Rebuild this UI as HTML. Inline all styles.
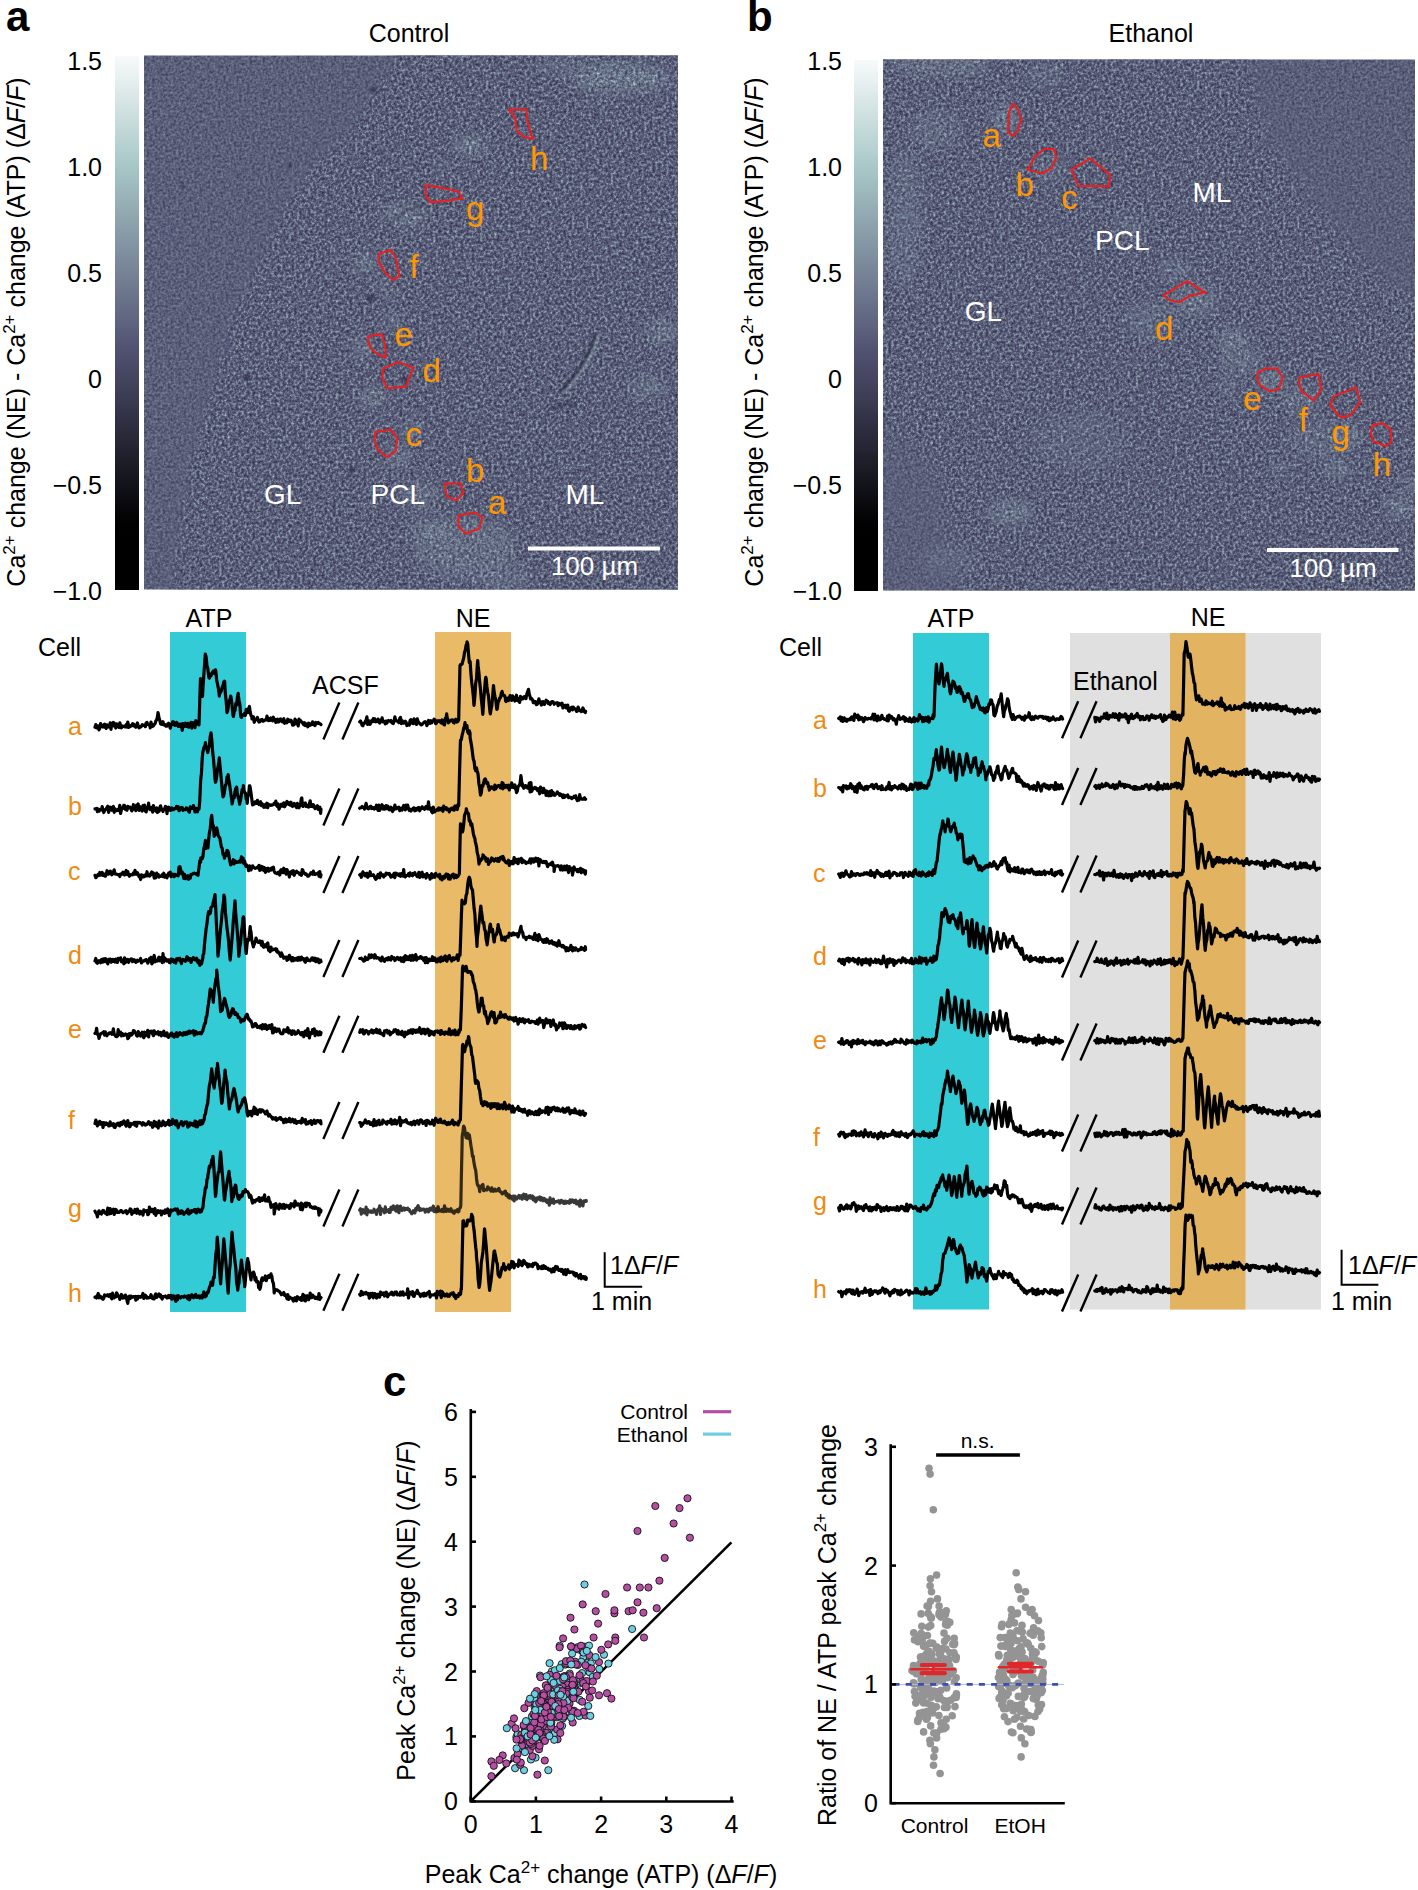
<!DOCTYPE html><html><head><meta charset="utf-8"><title>Figure</title><style>
html,body{margin:0;padding:0;background:#fff;width:1418px;height:1890px;overflow:hidden;}
svg{display:block;}text{font-family:"Liberation Sans",sans-serif;}
</style></head><body>
<svg width="1418" height="1890" viewBox="0 0 1418 1890">
<defs>
<linearGradient id="cbar" x1="0" y1="0" x2="0" y2="1"><stop offset="0.000" stop-color="#f7fafa"/><stop offset="0.025" stop-color="#eef4f4"/><stop offset="0.050" stop-color="#e4eeee"/><stop offset="0.075" stop-color="#dae7e7"/><stop offset="0.100" stop-color="#d0e1e1"/><stop offset="0.125" stop-color="#c7dbdb"/><stop offset="0.150" stop-color="#bdd5d5"/><stop offset="0.175" stop-color="#b3cfcf"/><stop offset="0.200" stop-color="#aac8c8"/><stop offset="0.225" stop-color="#a2c1c2"/><stop offset="0.250" stop-color="#9cb8bc"/><stop offset="0.275" stop-color="#96afb6"/><stop offset="0.300" stop-color="#90a7af"/><stop offset="0.325" stop-color="#899ea9"/><stop offset="0.350" stop-color="#8396a3"/><stop offset="0.375" stop-color="#7d8d9d"/><stop offset="0.400" stop-color="#778597"/><stop offset="0.425" stop-color="#717c90"/><stop offset="0.450" stop-color="#6a748a"/><stop offset="0.475" stop-color="#646b84"/><stop offset="0.500" stop-color="#5e637e"/><stop offset="0.525" stop-color="#585a78"/><stop offset="0.550" stop-color="#515171"/><stop offset="0.575" stop-color="#4b4b69"/><stop offset="0.600" stop-color="#454560"/><stop offset="0.625" stop-color="#3f3f57"/><stop offset="0.650" stop-color="#39394f"/><stop offset="0.675" stop-color="#323246"/><stop offset="0.700" stop-color="#2c2c3d"/><stop offset="0.725" stop-color="#262635"/><stop offset="0.750" stop-color="#20202c"/><stop offset="0.775" stop-color="#1a1a23"/><stop offset="0.800" stop-color="#13131b"/><stop offset="0.825" stop-color="#0d0d12"/><stop offset="0.850" stop-color="#07070a"/><stop offset="0.875" stop-color="#010101"/><stop offset="0.900" stop-color="#000000"/><stop offset="0.925" stop-color="#000000"/><stop offset="0.950" stop-color="#000000"/><stop offset="0.975" stop-color="#000000"/><stop offset="1.000" stop-color="#000000"/></linearGradient>
<clipPath id="clipA"><rect x="144" y="55.5" width="534" height="534"/></clipPath>
<clipPath id="clipB"><rect x="883" y="59.5" width="532" height="531"/></clipPath>
<filter id="texS" x="0" y="0" width="100%" height="100%" color-interpolation-filters="sRGB"><feTurbulence type="fractalNoise" baseFrequency="0.38" numOctaves="3" seed="4"/><feColorMatrix type="matrix" values="1 0 0 0 0  1 0 0 0 0  1 0 0 0 0  0 0 0 0 1"/><feComponentTransfer><feFuncR type="table" tableValues="0.201 0.215 0.229 0.242 0.256 0.270 0.283 0.297 0.311 0.325 0.338 0.352 0.366 0.379 0.393 0.407 0.420 0.434 0.448 0.461 0.475 0.489 0.503 0.516"/><feFuncG type="table" tableValues="0.201 0.215 0.229 0.242 0.256 0.270 0.283 0.297 0.311 0.326 0.345 0.364 0.383 0.402 0.421 0.439 0.458 0.477 0.496 0.515 0.534 0.552 0.571 0.590"/><feFuncB type="table" tableValues="0.280 0.299 0.318 0.337 0.356 0.375 0.394 0.413 0.432 0.450 0.463 0.477 0.491 0.504 0.518 0.532 0.545 0.559 0.573 0.586 0.600 0.614 0.628 0.641"/></feComponentTransfer></filter>
<filter id="texG" x="0" y="0" width="100%" height="100%" color-interpolation-filters="sRGB"><feTurbulence type="fractalNoise" baseFrequency="0.36" numOctaves="3" seed="9"/><feColorMatrix type="matrix" values="1 0 0 0 0  1 0 0 0 0  1 0 0 0 0  0 0 0 0 1"/><feComponentTransfer><feFuncR type="table" tableValues="0.131 0.150 0.169 0.188 0.207 0.226 0.245 0.264 0.283 0.302 0.321 0.340 0.365 0.396 0.426 0.457 0.487 0.517 0.548 0.578 0.609 0.639 0.679 0.727"/><feFuncG type="table" tableValues="0.131 0.150 0.169 0.188 0.207 0.226 0.245 0.264 0.283 0.302 0.322 0.348 0.382 0.424 0.466 0.508 0.550 0.592 0.633 0.675 0.717 0.759 0.795 0.825"/><feFuncB type="table" tableValues="0.183 0.209 0.236 0.262 0.288 0.315 0.341 0.368 0.394 0.421 0.446 0.465 0.490 0.521 0.551 0.582 0.612 0.642 0.673 0.703 0.734 0.764 0.795 0.825"/></feComponentTransfer></filter>
<filter id="texL" x="0" y="0" width="100%" height="100%" color-interpolation-filters="sRGB"><feTurbulence type="fractalNoise" baseFrequency="0.36" numOctaves="3" seed="13"/><feColorMatrix type="matrix" values="1 0 0 0 0  1 0 0 0 0  1 0 0 0 0  0 0 0 0 1"/><feComponentTransfer><feFuncR type="table" tableValues="0.087 0.118 0.148 0.179 0.209 0.240 0.270 0.301 0.331 0.361 0.392 0.422 0.458 0.500 0.542 0.584 0.626 0.676 0.741 0.807 0.872 0.938 1.000 1.000"/><feFuncG type="table" tableValues="0.087 0.118 0.148 0.179 0.209 0.240 0.270 0.301 0.335 0.377 0.419 0.461 0.511 0.568 0.626 0.683 0.741 0.793 0.835 0.876 0.918 0.960 1.000 1.000"/><feFuncB type="table" tableValues="0.122 0.164 0.206 0.249 0.291 0.333 0.376 0.418 0.456 0.486 0.517 0.547 0.583 0.625 0.667 0.709 0.751 0.793 0.835 0.876 0.918 0.960 1.000 1.000"/></feComponentTransfer></filter>
<filter id="texM" x="0" y="0" width="100%" height="100%" color-interpolation-filters="sRGB"><feTurbulence type="fractalNoise" baseFrequency="0.03" numOctaves="3" seed="21"/><feColorMatrix type="matrix" values="0 0 0 0 0.72  0 0 0 0 0.82  0 0 0 0 0.85  2.6 0 0 0 -1.35"/></filter>
<filter id="texD" x="0" y="0" width="100%" height="100%" color-interpolation-filters="sRGB"><feTurbulence type="fractalNoise" baseFrequency="0.035" numOctaves="3" seed="33"/><feColorMatrix type="matrix" values="0 0 0 0 0.2  0 0 0 0 0.2  0 0 0 0 0.3  -2.2 0 0 0 0.95"/></filter>
<filter id="bl1" x="-50%" y="-50%" width="200%" height="200%"><feGaussianBlur stdDeviation="1"/></filter>
<filter id="bl3" x="-50%" y="-50%" width="200%" height="200%"><feGaussianBlur stdDeviation="3"/></filter>
<filter id="bl6" x="-50%" y="-50%" width="200%" height="200%"><feGaussianBlur stdDeviation="6"/></filter>
<filter id="bl12" x="-50%" y="-50%" width="200%" height="200%"><feGaussianBlur stdDeviation="12"/></filter>
<mask id="mTissueA" maskUnits="userSpaceOnUse" x="100" y="0" width="650" height="650"><path d="M405 40 L395 56 L380 75 L351 122 L310 165 L280 207 L257 263 L232 310 L219 357 L200 420 L185 470 L167 600 L700 600 L700 40 Z" fill="#fff" filter="url(#bl6)"/></mask>
<mask id="mTissueB" maskUnits="userSpaceOnUse" x="850" y="0" width="600" height="650"><rect x="850" y="40" width="600" height="600" fill="#fff"/><path d="M1250 40 L1440 40 L1440 300 L1380 270 L1320 200 L1270 130 Z" fill="#000" filter="url(#bl12)"/><path d="M870 430 L930 470 L960 600 L870 600 Z" fill="#000" opacity="0.8" filter="url(#bl12)"/></mask>
</defs>
<rect width="1418" height="1890" fill="#fff"/>
<g clip-path="url(#clipA)">
<rect x="144" y="55.5" width="534" height="534" filter="url(#texS)"/>
<rect x="144" y="55.5" width="534" height="534" filter="url(#texG)" mask="url(#mTissueA)"/>
<mask id="mLA" maskUnits="userSpaceOnUse" x="100" y="0" width="650" height="650"><ellipse cx="620" cy="78" rx="50" ry="14" fill="#fff" opacity="0.72" filter="url(#bl6)"/><ellipse cx="470" cy="146" rx="14" ry="8" fill="#fff" opacity="0.96" filter="url(#bl6)"/><ellipse cx="441" cy="165" rx="5" ry="5" fill="#fff" opacity="0.72" filter="url(#bl6)"/><ellipse cx="405" cy="216" rx="22" ry="9" fill="#fff" opacity="0.80" filter="url(#bl6)"/><ellipse cx="366" cy="263" rx="11" ry="8" fill="#fff" opacity="0.80" filter="url(#bl6)"/><ellipse cx="362" cy="348" rx="8" ry="10" fill="#fff" opacity="0.72" filter="url(#bl6)"/><ellipse cx="373" cy="397" rx="12" ry="8" fill="#fff" opacity="0.80" filter="url(#bl6)"/><ellipse cx="398" cy="457" rx="10" ry="10" fill="#fff" opacity="0.80" filter="url(#bl6)"/><ellipse cx="465" cy="548" rx="50" ry="30" fill="#fff" opacity="0.48" filter="url(#bl6)"/><ellipse cx="430" cy="530" rx="18" ry="12" fill="#fff" opacity="0.48" filter="url(#bl6)"/><ellipse cx="505" cy="578" rx="28" ry="10" fill="#fff" opacity="0.48" filter="url(#bl6)"/><ellipse cx="648" cy="388" rx="18" ry="8" fill="#fff" opacity="0.72" filter="url(#bl6)"/><ellipse cx="663" cy="331" rx="15" ry="12" fill="#fff" opacity="0.64" filter="url(#bl6)"/><ellipse cx="385" cy="290" rx="8" ry="10" fill="#fff" opacity="0.48" filter="url(#bl6)"/><ellipse cx="420" cy="495" rx="18" ry="12" fill="#fff" opacity="0.56" filter="url(#bl6)"/><ellipse cx="560" cy="66" rx="25" ry="6" fill="#fff" opacity="0.48" filter="url(#bl6)"/><ellipse cx="392" cy="320" rx="8" ry="8" fill="#fff" opacity="0.48" filter="url(#bl6)"/><ellipse cx="412" cy="430" rx="10" ry="10" fill="#fff" opacity="0.48" filter="url(#bl6)"/></mask>
<rect x="144" y="55.5" width="534" height="534" filter="url(#texL)" mask="url(#mLA)"/>
<circle cx="374" cy="90" r="3" fill="#23233a" opacity="0.55" filter="url(#bl1)"/>
<circle cx="183" cy="186" r="2" fill="#23233a" opacity="0.55" filter="url(#bl1)"/>
<circle cx="371" cy="298" r="4" fill="#23233a" opacity="0.55" filter="url(#bl1)"/>
<circle cx="247" cy="378" r="3" fill="#23233a" opacity="0.55" filter="url(#bl1)"/>
<circle cx="404" cy="380" r="3" fill="#23233a" opacity="0.55" filter="url(#bl1)"/>
<circle cx="352" cy="470" r="3" fill="#23233a" opacity="0.55" filter="url(#bl1)"/>
<circle cx="290" cy="165" r="2" fill="#23233a" opacity="0.55" filter="url(#bl1)"/>
<path d="M596 333 Q588 362 560 392" stroke="#2a2a40" stroke-width="3" fill="none" opacity="0.75" filter="url(#bl1)"/>
<path d="M599 334 Q591 364 563 394" stroke="#aac4c8" stroke-width="1.6" fill="none" opacity="0.7" filter="url(#bl1)"/>
<path d="M577 403 Q563 406 551 408" stroke="#2a2a40" stroke-width="2.5" fill="none" opacity="0.7" filter="url(#bl1)"/>
<path d="M388 226 Q400 212 425 204" stroke="#2a2a40" stroke-width="2" fill="none" opacity="0.5" filter="url(#bl1)"/>
</g>
<g clip-path="url(#clipB)">
<rect x="883" y="59.5" width="532" height="531" filter="url(#texS)"/>
<rect x="883" y="59.5" width="532" height="531" filter="url(#texG)" mask="url(#mTissueB)"/>
<mask id="mLB" maskUnits="userSpaceOnUse" x="850" y="0" width="600" height="650"><ellipse cx="940" cy="66" rx="50" ry="8" fill="#fff" opacity="0.63" filter="url(#bl6)"/><ellipse cx="1005" cy="118" rx="12" ry="14" fill="#fff" opacity="0.72" filter="url(#bl6)"/><ellipse cx="905" cy="220" rx="18" ry="70" fill="#fff" opacity="0.36" filter="url(#bl6)"/><ellipse cx="935" cy="130" rx="25" ry="20" fill="#fff" opacity="0.36" filter="url(#bl6)"/><ellipse cx="1050" cy="170" rx="15" ry="10" fill="#fff" opacity="0.45" filter="url(#bl6)"/><ellipse cx="1195" cy="300" rx="25" ry="15" fill="#fff" opacity="0.54" filter="url(#bl6)"/><ellipse cx="1233" cy="338" rx="14" ry="9" fill="#fff" opacity="0.81" filter="url(#bl6)"/><ellipse cx="1271" cy="381" rx="12" ry="10" fill="#fff" opacity="0.81" filter="url(#bl6)"/><ellipse cx="1300" cy="400" rx="18" ry="12" fill="#fff" opacity="0.54" filter="url(#bl6)"/><ellipse cx="1351" cy="435" rx="9" ry="8" fill="#fff" opacity="0.90" filter="url(#bl6)"/><ellipse cx="1338" cy="470" rx="11" ry="7" fill="#fff" opacity="0.81" filter="url(#bl6)"/><ellipse cx="1400" cy="507" rx="11" ry="10" fill="#fff" opacity="0.90" filter="url(#bl6)"/><ellipse cx="1411" cy="483" rx="6" ry="8" fill="#fff" opacity="0.81" filter="url(#bl6)"/><ellipse cx="1280" cy="470" rx="9" ry="6" fill="#fff" opacity="0.54" filter="url(#bl6)"/><ellipse cx="1228" cy="387" rx="10" ry="8" fill="#fff" opacity="0.45" filter="url(#bl6)"/><ellipse cx="1010" cy="512" rx="22" ry="10" fill="#fff" opacity="0.72" filter="url(#bl6)"/><ellipse cx="1080" cy="440" rx="50" ry="30" fill="#fff" opacity="0.22" filter="url(#bl6)"/><ellipse cx="1175" cy="270" rx="15" ry="10" fill="#fff" opacity="0.54" filter="url(#bl6)"/><ellipse cx="1130" cy="225" rx="15" ry="10" fill="#fff" opacity="0.45" filter="url(#bl6)"/><ellipse cx="950" cy="560" rx="30" ry="15" fill="#fff" opacity="0.27" filter="url(#bl6)"/><ellipse cx="1150" cy="320" rx="25" ry="18" fill="#fff" opacity="0.36" filter="url(#bl6)"/><ellipse cx="1320" cy="440" rx="30" ry="20" fill="#fff" opacity="0.36" filter="url(#bl6)"/><ellipse cx="1240" cy="360" rx="20" ry="15" fill="#fff" opacity="0.45" filter="url(#bl6)"/><ellipse cx="1045" cy="75" rx="20" ry="8" fill="#fff" opacity="0.45" filter="url(#bl6)"/></mask>
<rect x="883" y="59.5" width="532" height="531" filter="url(#texL)" mask="url(#mLB)"/>
</g>
<polygon points="509.4,109.5 526.3,109.5 527.4,121.9 532.7,138.9 524.4,137.0 516.9,131.3 515.0,118.1" fill="none" stroke="#ee1d1d" stroke-width="2"/>
<polygon points="425.7,185.2 441.5,187.8 458.5,191.6 462.3,198.4 445.3,201.0 430.2,202.1 425.7,195.4" fill="none" stroke="#ee1d1d" stroke-width="2"/>
<polygon points="379.4,253.7 390.7,250.0 395.6,257.5 399.4,276.3 393.3,280.1 385.0,272.6 378.3,261.3" fill="none" stroke="#ee1d1d" stroke-width="2"/>
<polygon points="368.1,336.6 381.3,334.0 385.0,344.1 385.8,357.3 379.4,355.4 371.9,349.8 368.1,342.3" fill="none" stroke="#ee1d1d" stroke-width="2"/>
<polygon points="383.2,368.6 398.2,361.8 413.3,367.9 405.8,386.7 386.9,388.2 382.4,378.0" fill="none" stroke="#ee1d1d" stroke-width="2"/>
<polygon points="375.6,431.9 390.7,429.6 397.1,438.3 395.6,451.5 386.9,457.1 377.5,449.6 374.5,438.3" fill="none" stroke="#ee1d1d" stroke-width="2"/>
<polygon points="445.3,483.5 460.4,483.5 463.4,492.9 456.6,500.4 447.2,496.6 445.3,489.2" fill="none" stroke="#ee1d1d" stroke-width="2"/>
<polygon points="458.5,515.5 475.4,512.5 482.2,517.4 479.2,528.7 466.0,533.6 458.5,526.8" fill="none" stroke="#ee1d1d" stroke-width="2"/>
<polygon points="1012.5,104.0 1017.3,107.8 1021.1,119.0 1018.1,130.3 1013.6,135.9 1008.0,132.2 1008.7,113.4" fill="none" stroke="#ee1d1d" stroke-width="2"/>
<polygon points="1027.5,169.7 1035.0,156.6 1044.4,149.0 1053.7,149.0 1056.4,156.6 1051.9,167.8 1042.5,173.4" fill="none" stroke="#ee1d1d" stroke-width="2"/>
<polygon points="1071.4,169.7 1090.1,158.4 1110.0,174.6 1108.9,186.6 1078.1,185.8" fill="none" stroke="#ee1d1d" stroke-width="2"/>
<polygon points="1163.7,295.4 1187.0,281.1 1205.0,292.4 1190.7,295.4 1179.4,302.2 1169.0,299.9" fill="none" stroke="#ee1d1d" stroke-width="2"/>
<polygon points="1258.2,372.3 1265.7,368.6 1277.0,368.6 1282.6,378.0 1278.9,389.2 1269.5,391.1 1260.1,385.4 1256.7,378.0" fill="none" stroke="#ee1d1d" stroke-width="2"/>
<polygon points="1300.3,377.2 1318.3,374.2 1321.3,389.2 1313.8,400.5 1301.4,391.1 1298.8,381.7" fill="none" stroke="#ee1d1d" stroke-width="2"/>
<polygon points="1333.3,396.7 1355.8,387.3 1360.3,402.3 1350.2,415.5 1340.8,417.3 1330.3,406.0" fill="none" stroke="#ee1d1d" stroke-width="2"/>
<polygon points="1372.7,424.9 1382.0,423.0 1390.3,428.6 1391.4,441.7 1385.8,446.2 1372.7,441.0 1370.8,432.4" fill="none" stroke="#ee1d1d" stroke-width="2"/>
<text x="530.0" y="169.5" font-size="33" text-anchor="start" fill="#ff9800" font-weight="normal" >h</text>
<text x="466.0" y="219.5" font-size="33" text-anchor="start" fill="#ff9800" font-weight="normal" >g</text>
<text x="409.5" y="278.0" font-size="33" text-anchor="start" fill="#ff9800" font-weight="normal" >f</text>
<text x="394.5" y="345.5" font-size="33" text-anchor="start" fill="#ff9800" font-weight="normal" >e</text>
<text x="422.5" y="382.0" font-size="33" text-anchor="start" fill="#ff9800" font-weight="normal" >d</text>
<text x="405.5" y="445.5" font-size="33" text-anchor="start" fill="#ff9800" font-weight="normal" >c</text>
<text x="466.0" y="481.5" font-size="33" text-anchor="start" fill="#ff9800" font-weight="normal" >b</text>
<text x="488.0" y="513.8" font-size="33" text-anchor="start" fill="#ff9800" font-weight="normal" >a</text>
<text x="982.4" y="147.0" font-size="33" text-anchor="start" fill="#ff9800" font-weight="normal" >a</text>
<text x="1015.5" y="196.0" font-size="33" text-anchor="start" fill="#ff9800" font-weight="normal" >b</text>
<text x="1061.2" y="209.0" font-size="33" text-anchor="start" fill="#ff9800" font-weight="normal" >c</text>
<text x="1155.0" y="340.4" font-size="33" text-anchor="start" fill="#ff9800" font-weight="normal" >d</text>
<text x="1243.2" y="409.8" font-size="33" text-anchor="start" fill="#ff9800" font-weight="normal" >e</text>
<text x="1298.8" y="430.5" font-size="33" text-anchor="start" fill="#ff9800" font-weight="normal" >f</text>
<text x="1331.4" y="443.5" font-size="33" text-anchor="start" fill="#ff9800" font-weight="normal" >g</text>
<text x="1372.7" y="475.5" font-size="33" text-anchor="start" fill="#ff9800" font-weight="normal" >h</text>
<text x="264.0" y="503.5" font-size="28" text-anchor="start" fill="#fff" font-weight="normal" >GL</text>
<text x="370.5" y="503.5" font-size="28" text-anchor="start" fill="#fff" font-weight="normal" >PCL</text>
<text x="565.5" y="503.5" font-size="28" text-anchor="start" fill="#fff" font-weight="normal" >ML</text>
<text x="1192.5" y="201.6" font-size="28" text-anchor="start" fill="#fff" font-weight="normal" >ML</text>
<text x="1095.0" y="250.4" font-size="28" text-anchor="start" fill="#fff" font-weight="normal" >PCL</text>
<text x="964.8" y="321.0" font-size="28" text-anchor="start" fill="#fff" font-weight="normal" >GL</text>
<rect x="528" y="546.5" width="132" height="4" fill="#fff"/>
<text x="594.5" y="574.7" font-size="26" text-anchor="middle" fill="#fff" font-weight="normal" >100 µm</text>
<rect x="1267" y="548" width="131.5" height="4" fill="#fff"/>
<text x="1333.0" y="576.5" font-size="26" text-anchor="middle" fill="#fff" font-weight="normal" >100 µm</text>
<rect x="115" y="56" width="24" height="534" fill="url(#cbar)"/>
<rect x="854" y="60" width="24" height="531" fill="url(#cbar)"/>
<text x="102.0" y="69.6" font-size="25" text-anchor="end" fill="#000" font-weight="normal" >1.5</text>
<text x="842.0" y="69.6" font-size="25" text-anchor="end" fill="#000" font-weight="normal" >1.5</text>
<text x="102.0" y="175.7" font-size="25" text-anchor="end" fill="#000" font-weight="normal" >1.0</text>
<text x="842.0" y="175.7" font-size="25" text-anchor="end" fill="#000" font-weight="normal" >1.0</text>
<text x="102.0" y="281.8" font-size="25" text-anchor="end" fill="#000" font-weight="normal" >0.5</text>
<text x="842.0" y="281.8" font-size="25" text-anchor="end" fill="#000" font-weight="normal" >0.5</text>
<text x="102.0" y="387.9" font-size="25" text-anchor="end" fill="#000" font-weight="normal" >0</text>
<text x="842.0" y="387.9" font-size="25" text-anchor="end" fill="#000" font-weight="normal" >0</text>
<text x="102.0" y="494.0" font-size="25" text-anchor="end" fill="#000" font-weight="normal" >−0.5</text>
<text x="842.0" y="494.0" font-size="25" text-anchor="end" fill="#000" font-weight="normal" >−0.5</text>
<text x="102.0" y="600.1" font-size="25" text-anchor="end" fill="#000" font-weight="normal" >−1.0</text>
<text x="842.0" y="600.1" font-size="25" text-anchor="end" fill="#000" font-weight="normal" >−1.0</text>
<text x="6.0" y="31.0" font-size="42" text-anchor="start" fill="#000" font-weight="bold" >a</text>
<text x="747.0" y="31.0" font-size="42" text-anchor="start" fill="#000" font-weight="bold" >b</text>
<text x="383.0" y="1396.0" font-size="42" text-anchor="start" fill="#000" font-weight="bold" >c</text>
<text x="409.0" y="42.0" font-size="25" text-anchor="middle" fill="#000" font-weight="normal" >Control</text>
<text x="1151.0" y="42.0" font-size="25" text-anchor="middle" fill="#000" font-weight="normal" >Ethanol</text>
<text transform="translate(25,332) rotate(-90)" font-size="25" text-anchor="middle">Ca<tspan font-size="17" dy="-10">2+</tspan><tspan dy="10"> change (NE) - Ca</tspan><tspan font-size="17" dy="-10">2+</tspan><tspan dy="10"> change (ATP) (Δ<tspan font-style="italic">F</tspan>/<tspan font-style="italic">F</tspan>)</tspan></text>
<text transform="translate(762.5,332) rotate(-90)" font-size="25" text-anchor="middle">Ca<tspan font-size="17" dy="-10">2+</tspan><tspan dy="10"> change (NE) - Ca</tspan><tspan font-size="17" dy="-10">2+</tspan><tspan dy="10"> change (ATP) (Δ<tspan font-style="italic">F</tspan>/<tspan font-style="italic">F</tspan>)</tspan></text>
<rect x="170" y="632" width="76" height="680" fill="#33cbd6"/>
<rect x="435" y="632" width="76" height="680" fill="#e9ba68"/>
<rect x="1070" y="633" width="251" height="676.5" fill="#e0e0e0"/>
<rect x="913" y="633" width="76" height="676.5" fill="#33cbd6"/>
<rect x="1170" y="633" width="75.5" height="676.5" fill="#e2b462"/>
<text x="209.0" y="627.0" font-size="25" text-anchor="middle" fill="#000" font-weight="normal" >ATP</text>
<text x="473.0" y="627.0" font-size="25" text-anchor="middle" fill="#000" font-weight="normal" >NE</text>
<text x="951.0" y="627.0" font-size="25" text-anchor="middle" fill="#000" font-weight="normal" >ATP</text>
<text x="1208.0" y="626.0" font-size="25" text-anchor="middle" fill="#000" font-weight="normal" >NE</text>
<text x="38.0" y="656.0" font-size="25" text-anchor="start" fill="#000" font-weight="normal" >Cell</text>
<text x="779.0" y="656.0" font-size="25" text-anchor="start" fill="#000" font-weight="normal" >Cell</text>
<text x="312.0" y="693.5" font-size="25" text-anchor="start" fill="#000" font-weight="normal" >ACSF</text>
<text x="1073.0" y="690.0" font-size="25" text-anchor="start" fill="#000" font-weight="normal" >Ethanol</text>
<path d="M95.0 727.3L95.8 724.6L96.6 727.8L97.4 727.8L98.2 725.9L99.0 729.9L99.8 728.2L100.6 723.6L101.4 726.4L102.2 726.1L103.0 727.1L103.8 724.8L104.6 724.2L105.4 727.5L106.2 728.4L107.0 724.8L107.8 726.2L108.6 725.7L109.4 727.2L110.2 722.9L111.0 729.3L111.8 723.3L112.6 725.7L113.4 722.5L114.2 723.0L115.0 726.7L115.8 728.0L116.6 723.8L117.4 726.1L118.2 725.2L119.0 727.6L119.8 722.9L120.6 725.2L121.4 727.8L122.2 725.9L123.0 726.3L123.8 726.3L124.6 726.7L125.4 726.9L126.2 724.6L127.0 727.0L127.8 722.0L128.6 727.4L129.4 725.2L130.2 726.6L131.0 725.6L131.8 725.8L132.6 723.7L133.4 724.2L134.2 726.0L135.0 725.2L135.8 727.3L136.6 724.9L137.4 723.0L138.2 725.9L139.0 727.8L139.8 727.4L140.6 727.0L141.4 726.4L142.2 724.7L143.0 725.5L143.8 725.2L144.6 725.2L145.4 726.7L146.2 722.9L147.0 722.5L147.8 724.4L148.6 724.8L149.4 724.6L150.0 724.3L150.2 727.8L151.0 722.0L151.8 726.7L152.6 724.8L153.4 726.0L154.2 724.4L155.0 723.9L155.8 721.1L156.6 720.1L157.4 716.9L158.0 712.6L158.2 713.4L159.0 717.9L159.8 720.2L160.6 724.0L161.0 724.1L161.4 723.5L162.2 724.4L163.0 721.7L163.8 724.8L164.6 724.4L165.4 725.8L166.2 726.2L167.0 726.2L167.8 723.9L168.6 723.2L169.4 724.2L170.2 728.2L171.0 725.3L171.8 724.6L172.6 721.9L173.4 721.8L174.2 724.8L175.0 725.3L175.8 725.2L176.6 722.3L177.4 724.8L178.2 726.3L179.0 724.2L179.8 726.3L180.6 724.2L181.4 724.1L182.2 730.4L183.0 723.7L183.8 726.6L184.6 724.8L185.4 723.2L186.2 726.3L187.0 726.3L187.8 723.3L188.6 727.2L189.4 724.6L190.2 726.8L191.0 722.4L191.8 728.1L192.6 722.6L193.4 722.9L194.2 724.2L195.0 727.6L195.8 720.7L196.6 724.3L197.4 723.7L198.2 724.0L199.0 724.8L199.8 699.2L200.5 678.6L200.6 680.8L201.4 685.8L202.2 693.7L202.5 696.5L203.0 687.1L203.8 675.1L204.6 664.2L205.3 654.0L205.4 654.2L206.2 657.7L207.0 665.8L207.8 668.3L208.6 675.6L209.0 677.7L209.4 678.1L210.2 674.4L211.0 675.8L211.8 674.0L212.6 672.1L213.4 671.0L214.2 673.3L215.0 671.2L215.5 669.8L215.8 671.2L216.6 679.5L217.4 683.5L218.2 687.4L219.0 692.8L219.3 696.1L219.8 692.9L220.6 692.4L221.4 690.8L222.2 687.0L223.0 685.6L223.8 681.9L224.4 682.1L224.6 681.2L225.4 694.3L226.2 701.1L227.0 712.6L227.8 710.2L228.6 704.1L229.4 700.7L230.2 698.8L230.7 696.1L231.0 697.2L231.8 702.7L232.6 712.0L233.3 716.5L233.4 716.4L234.2 711.4L235.0 710.6L235.8 703.5L236.6 705.1L237.4 697.2L238.2 693.4L238.3 695.2L239.0 700.3L239.8 704.1L240.6 714.9L240.9 716.7L241.4 717.4L242.2 714.9L243.0 714.9L243.8 715.1L244.6 713.5L244.7 714.4L245.4 715.4L246.2 709.4L247.0 712.4L247.8 712.6L248.5 708.5L248.6 708.9L249.4 706.5L250.2 712.2L251.0 715.5L251.8 716.5L252.0 719.0L252.6 718.8L253.4 716.7L254.2 722.3L255.0 720.6L255.8 719.0L256.6 719.0L257.4 717.4L258.2 720.5L259.0 722.1L259.8 721.8L260.6 720.0L261.0 719.7L261.4 720.2L262.2 719.5L263.0 721.2L263.8 720.8L264.6 720.3L265.4 719.7L266.2 719.8L267.0 716.0L267.8 719.7L268.6 720.6L269.4 718.6L270.2 720.4L271.0 718.0L271.8 719.7L272.6 720.9L273.4 717.2L274.2 719.9L275.0 719.5L275.8 722.4L276.6 720.4L277.4 719.2L278.2 722.0L279.0 721.7L279.8 719.4L280.6 718.9L281.4 720.9L282.2 721.8L283.0 720.2L283.8 718.7L284.6 723.3L285.4 721.6L286.2 721.3L287.0 722.7L287.8 719.2L288.6 720.0L289.4 721.5L290.2 721.3L291.0 720.2L291.8 722.0L292.6 725.2L293.4 725.2L294.2 724.4L295.0 719.2L295.8 720.2L296.6 723.6L297.4 721.6L298.2 726.0L299.0 719.1L299.8 720.4L300.6 720.5L301.4 722.1L302.2 722.1L303.0 723.7L303.8 724.7L304.6 722.7L305.4 725.5L306.2 724.7L307.0 723.9L307.8 726.8L308.6 723.2L309.4 723.7L310.2 725.4L311.0 723.8L311.8 724.3L312.6 721.8L313.4 724.5L314.2 723.3L315.0 725.6L315.8 722.5L316.6 723.6L317.4 723.1L318.2 722.4L319.0 723.5L319.8 723.5L320.6 724.2L321.0 724.6" fill="none" stroke="#000" stroke-width="3.2" stroke-linejoin="round" stroke-linecap="round"/>
<path d="M95.0 808.9L95.8 808.7L96.6 808.4L97.4 811.6L98.2 809.1L99.0 811.2L99.8 809.6L100.6 809.7L101.4 809.8L102.2 806.6L103.0 809.6L103.8 812.5L104.6 810.5L105.4 809.7L106.2 808.9L107.0 807.4L107.8 806.3L108.6 812.4L109.4 808.9L110.2 807.1L111.0 808.7L111.8 810.1L112.6 807.2L113.4 806.5L114.2 812.4L115.0 808.9L115.8 810.8L116.6 810.6L117.4 809.8L118.2 810.5L119.0 809.4L119.8 805.3L120.6 813.5L121.4 809.5L122.2 808.8L123.0 807.5L123.8 805.3L124.6 805.6L125.4 809.4L126.2 809.7L127.0 810.2L127.8 806.4L128.6 806.7L129.4 807.9L130.2 807.2L131.0 808.6L131.8 810.9L132.6 809.7L133.4 804.7L134.2 808.9L135.0 808.9L135.8 810.6L136.6 805.2L137.4 807.2L138.2 804.0L139.0 810.4L139.8 806.5L140.6 809.5L141.4 809.3L142.2 811.1L143.0 805.5L143.8 809.1L144.6 805.1L145.4 811.0L146.2 811.8L147.0 807.4L147.8 808.8L148.6 803.2L149.4 808.7L150.2 809.5L151.0 809.1L151.8 807.5L152.6 812.1L153.4 805.6L154.2 809.9L155.0 809.5L155.8 811.0L156.6 807.9L157.4 812.5L158.2 809.6L159.0 811.4L159.8 807.4L160.6 805.8L161.4 809.6L162.2 809.2L163.0 811.6L163.8 809.2L164.6 809.4L165.4 806.5L166.2 806.7L167.0 813.6L167.8 807.9L168.6 807.1L169.4 808.5L170.2 810.3L171.0 810.2L171.8 807.9L172.6 809.3L173.4 809.7L174.2 808.7L175.0 808.4L175.8 808.7L176.6 806.4L177.4 807.5L178.2 806.6L179.0 810.7L179.8 810.0L180.6 809.0L181.4 807.4L182.2 807.5L183.0 810.3L183.8 809.5L184.6 809.7L185.4 809.7L186.2 807.9L187.0 808.4L187.8 809.7L188.6 811.3L189.4 812.3L190.2 806.9L191.0 807.8L191.8 808.5L192.6 808.2L193.4 805.6L194.2 807.7L195.0 812.0L195.8 810.5L196.6 808.4L197.4 811.9L198.2 809.0L199.0 809.1L199.8 800.2L200.6 781.1L201.4 773.7L202.2 758.8L202.8 751.8L203.0 751.6L203.8 747.7L204.6 746.7L205.3 744.5L205.4 742.6L206.2 747.5L207.0 749.6L207.8 752.5L207.9 752.3L208.6 747.5L209.4 746.2L210.2 736.5L211.0 732.8L211.8 739.9L212.6 751.3L213.4 758.2L214.2 768.1L215.0 779.1L215.5 782.2L215.8 781.6L216.6 777.2L217.4 770.0L218.2 765.7L219.0 761.2L219.3 757.8L219.8 763.6L220.6 771.7L221.4 780.8L222.2 790.2L223.0 796.9L223.8 795.6L224.6 790.4L225.4 785.1L226.2 784.3L227.0 777.0L227.8 776.3L228.2 774.7L228.6 779.2L229.4 782.8L230.2 789.2L231.0 794.7L231.8 800.4L232.0 804.0L232.6 801.7L233.4 796.3L234.2 797.9L235.0 791.4L235.8 788.3L236.3 788.4L236.6 787.0L237.4 794.1L238.2 797.5L239.0 799.9L239.6 804.2L239.8 802.9L240.6 800.0L241.4 794.2L242.2 789.5L243.0 789.8L243.4 785.6L243.8 789.6L244.6 792.7L245.4 792.8L246.2 799.0L247.0 800.6L247.2 803.3L247.8 795.9L248.6 795.3L249.4 785.8L249.8 785.8L250.2 787.6L251.0 793.0L251.8 799.3L252.3 803.1L252.6 804.9L253.4 802.6L254.2 804.1L255.0 801.8L255.8 802.9L256.6 803.4L257.4 800.3L258.2 802.8L259.0 804.5L259.8 802.6L260.6 801.7L261.0 805.1L261.4 805.5L262.2 803.7L263.0 805.1L263.8 807.3L264.6 806.0L265.4 804.4L266.2 807.2L267.0 803.2L267.8 807.6L268.6 804.2L269.4 805.2L270.2 804.8L271.0 805.3L271.8 805.2L272.6 804.5L273.4 804.7L274.2 803.3L275.0 804.0L275.8 801.1L276.6 805.4L277.4 806.4L278.2 804.0L279.0 809.2L279.8 807.1L280.6 805.7L281.4 804.1L282.2 806.2L283.0 805.9L283.8 802.9L284.6 806.8L285.4 805.3L286.2 803.4L287.0 801.4L287.8 802.4L288.6 804.3L289.4 802.9L290.2 805.2L291.0 802.2L291.8 806.0L292.6 806.5L293.4 804.9L294.2 803.5L295.0 805.9L295.8 804.8L296.6 807.6L297.4 803.4L298.2 806.8L299.0 807.8L299.8 805.2L300.0 805.8L300.6 803.1L301.4 798.3L301.8 798.0L302.2 802.7L303.0 806.5L303.8 805.3L304.6 805.0L305.4 803.0L306.2 806.5L307.0 805.3L307.8 806.7L308.6 807.1L309.4 803.6L310.2 800.8L311.0 806.4L311.8 804.4L312.6 806.5L313.4 804.6L314.2 807.1L315.0 808.6L315.8 807.2L316.6 808.1L317.4 805.7L318.2 809.3L319.0 807.7L319.8 807.2L320.6 813.3L321.0 809.2" fill="none" stroke="#000" stroke-width="3.2" stroke-linejoin="round" stroke-linecap="round"/>
<path d="M95.0 875.3L95.8 877.7L96.6 876.6L97.4 876.0L98.2 874.3L99.0 875.4L99.8 872.5L100.6 875.2L101.4 874.3L102.2 872.4L103.0 875.4L103.8 874.0L104.6 875.9L105.4 876.2L106.2 874.7L107.0 870.7L107.8 872.2L108.6 874.2L109.4 872.1L110.2 871.1L111.0 871.8L111.8 874.8L112.6 873.5L113.4 872.4L114.2 869.8L115.0 874.0L115.8 873.8L116.6 874.3L117.4 874.6L118.2 874.6L119.0 874.5L119.8 876.5L120.6 874.1L121.4 873.9L122.2 874.2L123.0 872.2L123.8 873.9L124.6 875.0L125.4 872.6L126.2 870.5L127.0 874.5L127.8 871.6L128.6 874.9L129.4 876.2L130.2 874.6L131.0 875.0L131.8 874.5L132.6 874.8L133.4 872.8L134.2 874.1L135.0 870.3L135.8 874.1L136.6 874.3L137.4 872.7L138.2 874.3L139.0 876.6L139.8 875.9L140.6 879.5L141.4 874.8L142.2 875.4L143.0 877.0L143.8 877.0L144.6 875.1L145.4 876.2L146.2 875.8L147.0 871.7L147.8 875.8L148.6 874.6L149.4 876.1L150.2 875.5L151.0 873.2L151.8 872.0L152.6 874.1L153.4 873.0L154.2 878.1L155.0 875.7L155.8 877.8L156.6 873.2L157.4 875.4L158.2 874.4L159.0 877.1L159.8 876.1L160.6 876.4L161.4 876.2L162.2 874.8L163.0 876.6L163.8 873.2L164.6 877.2L165.4 875.1L166.2 876.8L167.0 877.7L167.8 875.5L168.6 873.2L169.4 874.6L170.2 872.1L171.0 876.6L171.8 875.6L172.6 874.1L173.4 876.4L174.2 876.7L175.0 874.3L175.8 875.4L176.0 874.9L176.6 875.2L177.4 875.4L178.2 875.8L179.0 867.2L179.8 867.6L180.0 866.7L180.6 869.3L181.4 873.7L182.2 871.9L183.0 874.7L183.8 878.5L184.6 874.2L185.4 878.7L186.2 877.7L187.0 877.4L187.8 875.7L188.6 879.3L189.4 876.4L190.2 878.2L191.0 874.4L191.8 874.4L192.6 874.1L193.4 873.4L194.2 873.2L195.0 873.6L195.8 873.5L196.6 874.5L197.4 874.0L198.0 875.3L198.2 873.1L199.0 867.7L199.8 860.8L200.6 862.1L200.8 857.8L201.4 858.8L202.2 858.8L202.8 856.9L203.0 855.9L203.8 848.4L204.6 845.8L205.3 841.2L205.4 840.4L206.2 848.4L207.0 845.7L207.8 847.5L207.9 848.0L208.6 840.1L209.4 832.8L210.2 829.1L211.0 819.6L211.7 815.3L211.8 816.3L212.6 824.9L213.4 825.7L214.2 836.3L215.0 834.9L215.8 828.7L216.6 828.3L216.7 827.9L217.4 830.9L218.2 835.7L219.0 837.0L219.8 838.0L220.6 842.8L221.4 847.0L222.2 848.4L223.0 854.3L223.8 854.2L224.4 858.2L224.6 856.8L225.4 853.7L226.2 855.7L227.0 850.3L227.7 850.8L227.8 850.8L228.6 853.0L229.4 858.9L230.2 862.6L230.7 864.8L231.0 864.6L231.8 863.8L232.6 862.8L233.4 859.7L234.2 863.9L235.0 860.9L235.8 861.5L236.6 862.4L237.4 861.9L238.2 862.2L239.0 861.9L239.8 860.7L240.6 862.1L241.4 856.9L242.0 861.4L242.2 861.7L243.0 858.0L243.8 863.6L244.6 861.0L245.4 864.7L246.0 866.4L246.2 864.5L247.0 865.9L247.8 866.2L248.6 870.6L249.4 865.8L250.2 866.3L251.0 869.9L251.8 867.5L252.6 865.8L253.4 867.1L254.2 867.7L255.0 868.4L255.8 868.1L256.6 867.7L257.4 867.9L258.2 866.5L259.0 865.4L259.8 870.5L260.6 866.4L261.4 866.4L262.2 869.6L263.0 867.1L263.8 870.5L264.6 867.7L265.4 872.3L266.2 868.5L267.0 868.8L267.8 868.3L268.6 871.2L269.4 869.0L270.2 868.6L271.0 870.0L271.8 868.0L272.6 868.8L273.4 867.2L274.0 870.6L274.2 871.3L275.0 872.8L275.8 872.8L276.6 873.4L277.4 873.7L278.2 872.2L279.0 871.9L279.8 875.0L280.6 870.2L281.4 869.6L282.2 872.5L283.0 872.6L283.8 868.2L284.6 872.7L285.4 869.6L286.2 874.1L287.0 869.5L287.8 872.8L288.6 873.4L289.4 877.0L290.2 872.1L291.0 872.5L291.8 871.3L292.6 873.9L293.4 870.7L294.2 875.3L295.0 873.2L295.8 872.8L296.6 871.2L297.4 872.4L298.2 872.6L299.0 872.9L299.8 874.4L300.6 873.5L301.4 875.3L302.2 869.6L303.0 870.6L303.8 873.2L304.6 873.1L305.4 874.3L306.2 874.0L307.0 875.1L307.8 876.2L308.6 876.2L309.4 875.0L310.2 874.0L311.0 872.7L311.8 873.1L312.6 874.2L313.4 871.1L314.2 874.2L315.0 874.5L315.8 873.8L316.6 874.0L317.4 873.8L318.2 872.8L319.0 876.2L319.8 871.6L320.6 877.0L321.0 874.8" fill="none" stroke="#000" stroke-width="3.2" stroke-linejoin="round" stroke-linecap="round"/>
<path d="M95.0 961.0L95.8 958.5L96.6 962.6L97.4 963.3L98.2 961.5L99.0 960.8L99.8 961.7L100.6 962.8L101.4 959.5L102.2 959.3L103.0 962.0L103.8 959.0L104.6 961.5L105.4 958.6L106.2 959.5L107.0 962.4L107.8 963.8L108.6 959.3L109.4 961.1L110.2 959.1L111.0 962.2L111.8 961.8L112.6 959.5L113.4 961.3L114.2 959.7L115.0 962.1L115.8 959.1L116.6 962.1L117.4 962.4L118.2 958.4L119.0 959.4L119.8 959.7L120.6 957.8L121.4 961.8L122.2 960.9L123.0 959.9L123.8 963.8L124.6 957.8L125.4 962.6L126.2 959.6L127.0 960.8L127.8 959.3L128.6 962.4L129.4 960.5L130.2 959.7L131.0 958.9L131.8 959.0L132.6 961.7L133.4 960.5L134.2 959.6L135.0 960.7L135.8 962.4L136.6 961.9L137.4 960.2L138.2 961.1L139.0 960.3L139.8 960.4L140.6 958.5L141.4 963.0L142.2 961.9L143.0 961.3L143.8 960.6L144.6 960.8L145.4 959.8L146.2 959.7L147.0 961.1L147.8 963.2L148.6 961.2L149.4 958.6L150.2 960.9L151.0 957.3L151.8 963.9L152.6 962.4L153.4 958.2L154.2 955.5L155.0 961.8L155.8 960.6L156.6 961.2L157.4 961.0L158.2 958.6L159.0 957.1L159.8 960.8L160.6 960.6L161.4 957.4L162.2 962.6L163.0 953.7L163.8 962.0L164.6 957.7L165.4 959.0L166.2 959.4L167.0 961.1L167.8 960.1L168.6 959.8L169.4 962.5L170.2 962.8L171.0 959.0L171.8 959.0L172.6 961.3L173.4 959.6L174.2 962.2L175.0 961.1L175.8 963.0L176.6 958.9L177.4 959.9L178.2 958.4L179.0 960.1L179.8 958.3L180.6 960.5L181.4 963.6L182.2 960.0L183.0 959.4L183.8 960.3L184.6 960.1L185.4 961.3L186.2 959.1L187.0 956.7L187.8 957.6L188.6 960.2L189.4 958.7L190.2 958.7L191.0 962.5L191.8 960.0L192.6 958.8L193.4 957.5L194.2 959.4L195.0 959.9L195.8 960.0L196.6 958.1L197.4 961.7L198.2 962.9L199.0 960.5L199.8 965.3L200.6 961.9L201.0 961.3L201.4 964.0L202.2 960.8L202.8 958.1L203.0 955.0L203.8 953.7L204.6 943.1L205.4 935.3L206.2 928.3L207.0 923.6L207.8 916.0L207.9 916.0L208.6 911.6L209.4 914.3L210.2 912.2L210.4 913.2L211.0 907.5L211.8 906.9L212.6 906.0L213.4 901.6L214.2 898.4L215.0 894.6L215.8 909.6L216.6 928.1L217.4 941.2L218.0 956.2L218.2 953.3L219.0 947.5L219.8 936.3L220.6 928.1L221.4 921.1L222.2 911.4L223.0 905.8L223.8 898.3L223.9 895.0L224.6 897.5L225.4 912.2L226.2 919.6L227.0 928.1L227.8 933.8L228.6 941.4L229.4 952.1L230.2 960.2L231.0 951.0L231.8 941.3L232.6 931.6L233.4 919.7L234.2 910.8L235.0 900.8L235.8 915.0L236.6 922.7L237.4 933.5L238.2 943.7L238.8 956.1L239.0 955.1L239.8 946.7L240.6 943.0L241.4 932.1L242.2 927.1L243.0 917.9L243.4 916.8L243.8 918.2L244.6 932.4L245.4 945.7L246.0 951.8L246.2 953.5L247.0 944.8L247.8 939.3L248.6 940.2L249.4 935.2L250.2 926.6L250.3 929.1L251.0 931.9L251.8 940.1L252.6 943.6L253.4 946.9L253.6 946.0L254.2 944.5L255.0 942.1L255.8 939.4L256.0 938.1L256.6 939.7L257.4 941.3L258.2 942.4L259.0 942.5L259.8 941.0L260.6 941.4L261.4 945.1L262.2 941.4L263.0 946.6L263.8 947.3L264.6 944.8L265.4 945.9L266.2 945.9L266.3 946.9L267.0 943.8L267.8 943.0L268.6 950.4L269.4 948.3L270.2 951.7L271.0 947.0L271.8 950.2L272.6 950.0L273.4 949.3L274.2 949.2L275.0 949.4L275.8 948.8L276.4 951.2L276.6 949.0L277.4 952.2L278.2 951.6L279.0 953.2L279.8 954.1L280.6 956.3L281.4 952.8L282.2 954.7L283.0 956.6L283.8 958.2L284.6 957.2L285.4 957.5L286.2 957.1L286.6 958.5L287.0 960.3L287.8 959.7L288.6 956.9L289.4 955.3L290.2 959.0L291.0 957.3L291.8 960.9L292.6 957.6L293.4 960.7L294.2 958.4L295.0 959.9L295.8 959.8L296.6 958.1L297.4 960.3L298.2 957.6L299.0 960.0L299.8 957.5L300.6 960.0L301.4 957.1L302.2 958.6L303.0 959.3L303.8 958.8L304.6 961.2L305.4 962.2L306.2 958.4L307.0 958.1L307.8 960.4L308.6 959.8L309.4 960.6L310.2 960.8L311.0 959.9L311.8 958.1L312.6 957.9L313.4 960.4L314.2 960.1L315.0 958.2L315.8 961.7L316.6 958.9L317.4 961.1L318.2 959.1L319.0 962.7L319.8 962.1L320.6 960.1L321.0 961.7" fill="none" stroke="#000" stroke-width="3.2" stroke-linejoin="round" stroke-linecap="round"/>
<path d="M95.0 1033.4L95.8 1032.9L96.6 1028.3L97.4 1034.4L98.2 1034.2L99.0 1038.5L99.8 1035.1L100.6 1034.0L101.4 1033.3L102.2 1032.8L103.0 1032.8L103.8 1031.7L104.6 1035.1L105.4 1031.9L106.2 1034.6L107.0 1035.7L107.8 1033.9L108.6 1034.0L109.4 1032.9L110.2 1032.7L111.0 1033.3L111.8 1034.2L112.6 1032.3L113.4 1028.9L114.2 1034.6L115.0 1035.0L115.8 1036.5L116.6 1036.7L117.4 1036.2L118.2 1029.7L119.0 1034.6L119.8 1032.5L120.6 1032.2L121.4 1035.9L122.2 1033.4L123.0 1035.0L123.8 1035.5L124.6 1034.9L125.4 1034.0L126.2 1034.9L127.0 1034.4L127.8 1038.6L128.6 1037.9L129.4 1033.7L130.2 1035.8L131.0 1033.5L131.8 1034.8L132.6 1033.8L133.4 1030.7L134.2 1030.8L135.0 1032.3L135.8 1033.1L136.6 1035.5L137.4 1036.1L138.2 1031.6L139.0 1033.0L139.8 1033.4L140.6 1036.0L141.4 1034.8L142.2 1032.2L143.0 1036.1L143.8 1037.7L144.6 1032.0L145.4 1035.9L146.2 1035.0L147.0 1033.2L147.8 1030.3L148.6 1036.9L149.4 1032.5L150.2 1031.3L151.0 1031.5L151.8 1031.2L152.6 1033.8L153.4 1035.7L154.2 1030.9L155.0 1033.0L155.8 1033.7L156.6 1032.8L157.4 1033.6L158.2 1031.7L159.0 1034.8L159.8 1033.6L160.6 1032.4L161.4 1035.9L162.2 1033.0L163.0 1032.7L163.8 1031.1L164.6 1035.7L165.4 1033.6L166.2 1035.8L167.0 1032.8L167.8 1036.8L168.6 1037.4L169.4 1035.8L170.2 1034.6L171.0 1033.3L171.8 1033.1L172.6 1036.1L173.4 1035.2L174.2 1037.2L175.0 1034.0L175.8 1034.0L176.6 1032.7L177.4 1036.6L178.2 1033.7L179.0 1035.0L179.8 1032.6L180.6 1033.2L181.4 1034.2L182.2 1035.0L183.0 1035.2L183.8 1032.6L184.6 1033.6L185.4 1034.6L186.2 1032.3L187.0 1034.2L187.8 1032.0L188.6 1033.4L189.4 1031.1L190.2 1033.1L191.0 1032.6L191.8 1031.6L192.6 1032.0L193.4 1030.7L194.2 1035.1L195.0 1034.7L195.8 1031.5L196.6 1032.5L197.4 1033.9L198.2 1033.3L199.0 1032.8L199.8 1032.6L200.0 1033.6L200.6 1032.7L201.4 1033.8L202.2 1031.7L202.8 1031.1L203.0 1029.5L203.8 1027.1L204.6 1023.4L205.4 1023.2L206.2 1016.8L206.6 1017.1L207.0 1014.8L207.8 1008.1L208.6 1003.2L209.4 996.7L210.2 989.1L210.4 989.7L211.0 989.9L211.8 993.5L212.6 996.1L213.4 1002.3L213.5 999.0L214.2 990.9L215.0 985.1L215.8 979.4L216.6 977.0L216.7 970.1L217.4 977.1L218.2 985.7L219.0 991.6L219.8 998.6L220.6 1011.7L221.4 1010.9L222.2 1009.9L223.0 1005.5L223.8 1001.5L224.6 998.5L225.1 1000.2L225.4 1001.5L226.2 1005.0L227.0 1007.6L227.8 1010.7L228.6 1016.1L229.4 1017.4L230.2 1016.0L231.0 1014.9L231.8 1010.9L232.6 1008.7L233.3 1009.1L233.4 1009.8L234.2 1012.0L235.0 1014.4L235.8 1012.6L236.6 1015.0L237.4 1014.2L238.2 1017.7L239.0 1017.2L239.8 1018.1L240.6 1020.1L240.9 1022.1L241.4 1021.1L242.2 1019.8L243.0 1019.7L243.8 1020.8L244.6 1019.6L245.4 1017.0L246.2 1015.2L247.0 1014.2L247.2 1014.5L247.8 1016.3L248.6 1019.2L249.4 1019.0L250.2 1021.2L251.0 1021.0L251.8 1023.4L252.6 1027.0L253.4 1025.5L253.6 1024.7L254.2 1026.2L255.0 1023.6L255.8 1023.6L256.6 1025.3L257.4 1027.4L258.2 1026.4L259.0 1026.7L259.8 1027.9L260.6 1025.7L261.4 1025.5L262.2 1029.0L263.0 1024.7L263.7 1026.5L263.8 1025.2L264.6 1028.4L265.4 1024.7L266.2 1025.5L267.0 1029.4L267.8 1026.6L268.6 1028.3L269.4 1025.5L270.2 1027.0L271.0 1028.5L271.8 1024.5L272.6 1033.0L273.4 1032.7L274.2 1028.2L275.0 1028.1L275.8 1031.5L276.6 1031.6L277.4 1029.2L278.2 1029.3L279.0 1029.2L279.8 1031.9L280.6 1033.3L281.4 1033.7L282.2 1033.8L283.0 1033.5L283.8 1029.9L284.6 1030.9L285.4 1030.0L286.2 1031.6L286.6 1031.3L287.0 1031.2L287.8 1027.7L288.6 1032.8L289.4 1030.3L290.2 1031.3L291.0 1033.8L291.8 1034.3L292.6 1030.9L293.4 1032.7L294.2 1031.2L295.0 1034.2L295.8 1033.8L296.6 1033.6L297.4 1032.7L298.2 1030.7L299.0 1032.2L299.8 1032.6L300.6 1034.4L301.4 1034.9L302.2 1032.5L303.0 1034.0L303.8 1036.7L304.6 1032.0L305.4 1031.0L306.2 1031.8L307.0 1035.5L307.8 1028.6L308.6 1033.8L309.4 1037.9L310.2 1032.7L311.0 1032.9L311.8 1033.5L312.6 1029.5L313.4 1031.8L314.2 1028.8L315.0 1035.6L315.8 1031.2L316.6 1031.4L317.4 1032.9L318.2 1035.0L319.0 1032.2L319.8 1031.8L320.6 1034.7L321.0 1032.6" fill="none" stroke="#000" stroke-width="3.2" stroke-linejoin="round" stroke-linecap="round"/>
<path d="M95.0 1123.5L95.8 1120.1L96.6 1122.6L97.4 1125.9L98.2 1122.3L99.0 1124.0L99.8 1121.3L100.6 1124.1L101.4 1122.5L102.2 1122.6L103.0 1127.5L103.8 1122.7L104.6 1123.8L105.4 1124.6L106.2 1122.9L107.0 1124.4L107.8 1124.0L108.6 1125.8L109.4 1125.9L110.2 1121.9L111.0 1125.2L111.8 1124.0L112.6 1125.1L113.4 1123.7L114.2 1127.3L115.0 1127.5L115.8 1125.7L116.6 1124.0L117.4 1124.8L118.2 1123.1L119.0 1125.5L119.8 1125.9L120.6 1122.5L121.4 1122.4L122.2 1124.3L123.0 1122.0L123.8 1120.9L124.6 1121.6L125.4 1124.7L126.2 1126.1L127.0 1124.2L127.8 1120.6L128.6 1124.7L129.4 1126.8L130.2 1126.3L131.0 1123.5L131.8 1124.3L132.6 1123.9L133.4 1123.8L134.2 1122.3L135.0 1125.2L135.8 1122.3L136.6 1126.3L137.4 1122.3L138.2 1122.3L139.0 1122.8L139.8 1122.4L140.6 1123.3L141.4 1123.6L142.2 1125.1L143.0 1122.7L143.8 1123.1L144.6 1124.3L145.4 1125.1L146.2 1124.1L147.0 1124.4L147.8 1123.3L148.6 1121.6L149.4 1123.3L150.2 1124.7L151.0 1122.8L151.8 1123.6L152.6 1127.3L153.4 1125.4L154.2 1121.3L155.0 1125.7L155.8 1122.3L156.6 1126.3L157.4 1124.6L158.2 1128.0L159.0 1121.2L159.8 1124.4L160.6 1123.2L161.4 1125.8L162.2 1124.3L163.0 1121.1L163.8 1124.7L164.6 1122.6L165.4 1125.5L166.2 1123.4L167.0 1122.4L167.8 1124.2L168.6 1120.4L169.4 1125.1L170.2 1121.4L171.0 1124.5L171.8 1124.2L172.6 1119.4L173.4 1123.3L174.2 1121.1L175.0 1121.4L175.8 1125.0L176.6 1120.7L177.4 1124.7L178.2 1127.8L179.0 1124.7L179.8 1123.8L180.6 1123.9L181.4 1121.6L182.2 1123.4L183.0 1125.7L183.8 1124.4L184.6 1122.2L185.4 1122.1L186.2 1123.3L187.0 1122.0L187.8 1127.1L188.6 1126.2L189.4 1125.9L190.2 1123.0L191.0 1123.3L191.8 1124.6L192.6 1123.8L193.4 1125.5L194.2 1124.7L195.0 1121.0L195.8 1126.7L196.6 1121.9L197.4 1126.8L198.2 1123.6L199.0 1124.5L199.8 1120.8L200.6 1124.7L201.4 1120.5L202.0 1123.8L202.2 1123.8L203.0 1122.5L203.8 1120.3L204.0 1120.3L204.6 1115.2L205.4 1114.3L206.2 1109.0L207.0 1105.7L207.8 1103.0L207.9 1101.0L208.6 1092.7L209.4 1085.4L210.2 1082.2L211.0 1075.5L211.7 1068.9L211.8 1070.1L212.6 1076.1L213.4 1084.1L214.2 1088.1L215.0 1080.5L215.8 1078.8L216.6 1068.5L217.4 1067.6L217.5 1063.3L218.2 1070.4L219.0 1076.5L219.8 1085.7L220.6 1090.8L221.4 1100.6L221.8 1103.4L222.2 1102.0L223.0 1093.4L223.8 1082.9L224.6 1076.2L225.1 1070.2L225.4 1074.4L226.2 1078.9L227.0 1082.6L227.8 1093.8L228.6 1100.6L229.4 1109.0L230.2 1102.6L231.0 1101.0L231.8 1098.9L232.6 1094.9L233.4 1090.7L234.0 1088.5L234.2 1089.9L235.0 1093.2L235.8 1096.9L236.6 1101.6L237.4 1107.9L238.2 1111.9L238.3 1109.8L239.0 1108.9L239.8 1108.1L240.6 1105.7L241.4 1105.1L242.2 1102.0L243.0 1099.4L243.8 1101.1L244.6 1098.4L244.7 1097.8L245.4 1101.3L246.2 1105.1L247.0 1111.7L247.2 1113.2L247.8 1115.9L248.6 1111.4L249.4 1113.1L250.2 1114.3L251.0 1111.4L251.8 1115.9L252.6 1112.9L253.4 1110.4L254.2 1107.2L255.0 1113.6L255.8 1108.9L256.6 1112.4L257.4 1114.3L258.2 1110.5L259.0 1110.1L259.8 1109.7L260.6 1112.2L261.0 1110.9L261.4 1110.0L262.2 1109.8L263.0 1110.6L263.8 1111.6L264.6 1112.2L265.4 1113.9L266.2 1111.7L267.0 1111.0L267.8 1114.5L268.6 1116.1L269.4 1114.4L270.2 1115.7L271.0 1116.3L271.8 1117.6L272.6 1119.1L273.4 1117.8L274.0 1118.3L274.2 1118.2L275.0 1119.1L275.8 1117.6L276.6 1120.3L277.4 1118.8L278.2 1119.2L279.0 1118.5L279.8 1117.5L280.6 1117.6L281.4 1119.6L282.2 1119.2L283.0 1119.9L283.8 1122.7L284.6 1119.5L285.4 1119.0L286.2 1122.1L287.0 1119.8L287.8 1121.3L288.6 1121.4L289.4 1118.4L290.2 1121.8L291.0 1121.9L291.8 1120.3L292.6 1119.2L293.4 1121.1L294.2 1122.6L295.0 1119.8L295.8 1122.0L296.6 1123.3L297.4 1121.7L298.2 1121.5L299.0 1122.2L299.8 1121.4L300.6 1120.9L301.4 1123.1L302.2 1118.4L303.0 1120.1L303.8 1120.7L304.6 1122.2L305.4 1119.6L306.2 1124.1L307.0 1122.1L307.8 1123.7L308.6 1123.1L309.4 1121.3L310.2 1122.3L311.0 1120.7L311.8 1124.4L312.6 1122.3L313.4 1122.0L314.2 1120.2L315.0 1123.3L315.8 1123.2L316.6 1120.9L317.4 1120.6L318.2 1120.5L319.0 1121.4L319.8 1122.4L320.6 1120.6L321.0 1123.9" fill="none" stroke="#000" stroke-width="3.2" stroke-linejoin="round" stroke-linecap="round"/>
<path d="M95.0 1211.1L95.8 1212.7L96.6 1213.7L97.4 1216.9L98.2 1213.0L99.0 1210.8L99.8 1213.3L100.6 1213.1L101.4 1214.0L102.2 1211.6L103.0 1210.4L103.8 1210.7L104.6 1212.7L105.4 1213.4L106.2 1212.8L107.0 1214.6L107.8 1208.2L108.6 1212.4L109.4 1213.9L110.2 1208.6L111.0 1213.5L111.8 1211.6L112.6 1210.6L113.4 1209.2L114.2 1214.5L115.0 1212.4L115.8 1209.5L116.6 1210.3L117.4 1212.4L118.2 1211.8L119.0 1212.4L119.8 1211.8L120.6 1210.6L121.4 1210.7L122.2 1211.7L123.0 1212.6L123.8 1212.0L124.6 1211.9L125.4 1211.0L126.2 1210.6L127.0 1213.6L127.8 1212.5L128.6 1211.6L129.4 1211.2L130.2 1208.9L131.0 1209.2L131.8 1214.3L132.6 1212.2L133.4 1211.2L134.2 1212.5L135.0 1209.5L135.8 1211.2L136.6 1213.3L137.4 1209.0L138.2 1213.0L139.0 1211.3L139.8 1214.0L140.6 1211.4L141.4 1212.2L142.2 1212.3L143.0 1215.1L143.8 1209.9L144.6 1211.6L145.4 1210.8L146.2 1211.1L147.0 1210.6L147.8 1214.7L148.6 1214.0L149.4 1207.0L150.2 1208.9L151.0 1211.7L151.8 1209.5L152.6 1209.3L153.4 1211.9L154.2 1213.5L155.0 1208.6L155.8 1215.3L156.6 1211.4L157.4 1212.9L158.2 1210.7L159.0 1212.3L159.8 1212.5L160.6 1211.0L161.4 1215.0L162.2 1212.8L163.0 1211.1L163.8 1211.5L164.6 1213.3L165.4 1210.0L166.2 1212.8L167.0 1211.4L167.8 1209.0L168.6 1211.9L169.4 1215.6L170.2 1212.4L171.0 1209.9L171.8 1211.0L172.6 1210.1L173.4 1210.1L174.2 1209.6L175.0 1209.0L175.8 1210.2L176.6 1210.2L177.4 1209.0L178.2 1214.0L179.0 1211.0L179.8 1212.4L180.6 1213.3L181.4 1210.9L182.2 1211.1L183.0 1212.2L183.8 1214.4L184.6 1213.3L185.4 1212.9L186.2 1211.4L187.0 1211.1L187.8 1209.3L188.6 1213.9L189.4 1213.8L190.2 1211.1L191.0 1212.6L191.8 1210.6L192.6 1211.2L193.4 1211.2L194.2 1209.6L195.0 1209.7L195.8 1212.7L196.6 1212.9L197.4 1209.4L198.2 1209.2L199.0 1210.4L199.8 1211.3L200.0 1212.1L200.6 1210.1L201.4 1211.6L202.2 1208.6L202.8 1208.0L203.0 1206.9L203.8 1198.7L204.6 1194.0L205.4 1187.7L206.2 1187.8L207.0 1179.5L207.8 1177.9L207.9 1175.4L208.6 1171.4L209.4 1166.2L210.0 1167.5L210.2 1165.7L211.0 1164.8L211.8 1159.7L212.6 1158.9L213.0 1156.3L213.4 1161.1L214.2 1172.9L215.0 1187.9L215.5 1196.3L215.8 1194.8L216.6 1185.3L217.4 1179.1L218.2 1172.4L219.0 1171.9L219.8 1160.9L220.6 1151.9L221.4 1161.6L222.2 1172.4L223.0 1181.0L223.8 1191.8L224.4 1199.9L224.6 1200.0L225.4 1192.5L226.2 1188.4L227.0 1182.7L227.8 1177.9L228.6 1173.6L229.0 1171.4L229.4 1176.0L230.2 1180.8L231.0 1187.9L231.8 1201.6L232.0 1199.8L232.6 1195.6L233.4 1197.1L234.2 1187.9L235.0 1189.3L235.3 1185.2L235.8 1185.3L236.6 1193.1L237.4 1195.1L238.2 1198.7L238.3 1198.6L239.0 1199.3L239.8 1195.5L240.6 1197.3L241.4 1195.0L242.2 1196.1L243.0 1191.6L243.8 1192.7L244.6 1191.6L245.4 1189.6L246.0 1191.3L246.2 1191.7L247.0 1191.5L247.8 1191.9L248.6 1193.4L249.4 1197.3L250.2 1195.1L251.0 1196.0L251.8 1200.2L252.6 1203.0L253.4 1200.3L253.6 1201.5L254.2 1201.0L255.0 1201.9L255.8 1200.0L256.6 1199.5L257.4 1200.1L258.2 1200.1L259.0 1197.6L259.8 1201.5L260.6 1199.5L261.4 1198.2L262.2 1200.6L263.0 1199.9L263.8 1197.2L264.6 1195.0L265.0 1198.8L265.4 1200.9L266.2 1200.7L267.0 1200.6L267.8 1201.1L268.6 1197.4L269.4 1201.4L270.2 1201.9L271.0 1207.3L271.8 1205.2L272.6 1205.4L273.4 1204.6L273.9 1206.9L274.2 1214.0L275.0 1208.7L275.8 1203.5L276.6 1205.8L277.4 1207.9L278.2 1207.7L279.0 1209.1L279.8 1204.1L280.6 1204.8L281.4 1206.3L282.2 1208.2L283.0 1204.8L283.8 1204.4L284.6 1208.5L285.4 1205.8L286.2 1205.2L287.0 1206.9L287.8 1206.2L288.6 1205.7L289.4 1208.4L290.2 1208.1L291.0 1203.7L291.8 1205.7L292.6 1205.1L293.4 1203.7L294.2 1206.9L295.0 1201.0L295.8 1203.2L296.6 1205.0L297.4 1205.2L298.2 1203.8L299.0 1204.3L299.8 1204.7L300.6 1209.5L301.4 1203.2L302.2 1209.9L303.0 1207.6L303.8 1204.3L304.6 1204.7L305.4 1203.1L306.2 1206.6L307.0 1203.0L307.8 1204.4L308.6 1203.5L309.4 1203.8L310.2 1206.9L311.0 1206.4L311.8 1207.4L312.6 1208.0L313.4 1207.3L314.2 1208.4L315.0 1207.0L315.8 1207.4L316.6 1208.4L317.4 1208.3L318.2 1208.4L319.0 1215.1L319.8 1209.2L320.6 1212.3L321.0 1210.3" fill="none" stroke="#000" stroke-width="3.2" stroke-linejoin="round" stroke-linecap="round"/>
<path d="M95.0 1297.2L95.8 1296.8L96.6 1298.0L97.4 1295.8L98.2 1293.4L99.0 1297.8L99.8 1295.9L100.6 1297.5L101.4 1296.9L102.2 1298.6L103.0 1299.2L103.8 1298.2L104.6 1294.8L105.4 1295.6L106.2 1295.7L107.0 1295.4L107.8 1294.6L108.6 1296.3L109.4 1296.0L110.2 1294.5L111.0 1297.4L111.8 1298.8L112.6 1293.1L113.4 1297.8L114.2 1297.8L115.0 1295.8L115.8 1296.7L116.6 1292.9L117.4 1294.1L118.2 1296.5L119.0 1296.1L119.8 1299.4L120.6 1297.1L121.4 1294.5L122.2 1295.5L123.0 1298.1L123.8 1297.1L124.6 1297.7L125.4 1295.1L126.2 1296.3L127.0 1300.5L127.8 1303.4L128.6 1297.5L129.4 1296.2L130.2 1298.6L131.0 1296.1L131.8 1296.6L132.6 1297.3L133.4 1296.7L134.2 1296.8L135.0 1296.5L135.8 1300.2L136.6 1296.6L137.4 1299.0L138.2 1296.3L139.0 1297.0L139.8 1296.6L140.6 1297.2L141.4 1296.1L142.2 1295.7L143.0 1293.4L143.8 1298.5L144.6 1295.7L145.4 1295.2L146.2 1296.1L147.0 1298.1L147.8 1297.3L148.6 1297.9L149.4 1297.2L150.2 1297.5L151.0 1294.7L151.8 1296.9L152.6 1298.6L153.4 1297.5L154.2 1298.8L155.0 1295.3L155.8 1293.9L156.6 1297.4L157.4 1295.0L158.2 1295.5L159.0 1293.9L159.8 1296.5L160.6 1294.9L161.4 1297.6L162.2 1299.0L163.0 1296.6L163.8 1296.5L164.6 1296.6L165.4 1296.0L166.2 1296.9L167.0 1298.0L167.8 1297.8L168.6 1295.5L169.4 1297.5L170.2 1295.5L171.0 1295.4L171.8 1299.1L172.6 1297.9L173.4 1295.8L174.2 1297.4L175.0 1299.5L175.8 1301.3L176.6 1296.0L177.4 1300.0L178.2 1295.6L179.0 1296.8L179.8 1296.8L180.6 1298.0L181.4 1296.6L182.2 1296.9L183.0 1296.7L183.8 1297.2L184.6 1296.0L185.4 1296.7L186.2 1296.4L187.0 1297.7L187.8 1298.8L188.6 1295.6L189.4 1299.8L190.2 1298.1L191.0 1296.4L191.8 1294.6L192.6 1296.9L193.4 1297.7L194.2 1295.6L195.0 1297.2L195.8 1294.3L196.6 1297.4L197.4 1297.4L198.2 1297.2L199.0 1295.9L199.8 1298.0L200.6 1296.9L201.4 1295.7L202.2 1298.0L203.0 1295.7L203.8 1291.8L204.6 1296.6L205.0 1296.8L205.4 1295.6L206.2 1296.0L207.0 1292.7L207.8 1291.6L208.0 1292.9L208.6 1290.9L209.4 1287.5L210.2 1285.9L211.0 1282.2L211.7 1282.8L211.8 1282.6L212.6 1285.3L213.4 1277.7L214.2 1277.8L215.0 1266.6L215.8 1254.4L216.6 1248.9L217.3 1237.1L217.4 1239.1L218.2 1247.9L219.0 1261.8L219.8 1273.3L220.6 1283.9L221.4 1272.0L222.2 1263.7L223.0 1251.8L223.8 1238.9L223.9 1239.9L224.6 1247.6L225.4 1256.8L226.2 1266.3L227.0 1278.3L227.8 1288.3L228.2 1293.2L228.6 1284.2L229.4 1271.3L230.2 1264.1L231.0 1248.4L231.8 1236.0L232.0 1232.2L232.6 1239.6L233.4 1245.9L234.2 1254.0L235.0 1262.1L235.8 1267.7L236.6 1282.4L237.4 1286.7L237.8 1290.2L238.2 1286.1L239.0 1282.9L239.8 1272.5L240.6 1268.3L241.4 1260.0L242.2 1266.7L243.0 1274.0L243.8 1277.9L244.6 1284.0L244.7 1286.7L245.4 1280.7L246.2 1270.2L247.0 1263.1L247.7 1258.7L247.8 1260.3L248.6 1262.7L249.4 1270.1L250.2 1275.5L251.0 1280.0L251.8 1273.2L252.6 1273.4L253.4 1273.5L253.6 1272.2L254.2 1273.8L255.0 1280.1L255.8 1277.2L256.6 1281.9L257.4 1281.1L258.2 1282.5L258.6 1287.6L259.0 1284.3L259.8 1289.3L260.6 1286.9L261.4 1280.2L262.2 1277.8L263.0 1280.4L263.8 1278.5L264.6 1277.5L265.0 1277.7L265.4 1276.0L266.2 1280.7L267.0 1278.4L267.8 1277.5L268.6 1275.7L269.4 1277.4L270.2 1276.3L271.0 1273.8L271.3 1276.5L271.8 1276.0L272.6 1281.4L273.4 1283.4L273.9 1288.2L274.2 1292.8L275.0 1289.2L275.8 1290.4L276.6 1289.9L277.4 1290.1L278.2 1291.0L279.0 1291.0L279.8 1292.0L280.6 1293.2L281.4 1294.6L282.2 1294.1L283.0 1293.6L283.8 1292.5L284.6 1295.4L285.4 1294.7L286.2 1296.3L287.0 1298.8L287.8 1294.6L288.6 1299.4L289.0 1298.3L289.4 1297.0L290.2 1297.4L291.0 1298.1L291.8 1298.3L292.6 1299.5L293.4 1301.1L294.2 1298.5L295.0 1297.7L295.8 1300.7L296.6 1300.8L297.4 1296.7L298.2 1298.6L299.0 1298.2L299.8 1299.4L300.6 1297.7L301.4 1300.4L302.2 1297.4L303.0 1294.3L303.8 1300.1L304.6 1295.5L305.4 1300.9L306.2 1296.3L307.0 1295.7L307.8 1297.0L308.6 1299.7L309.4 1297.0L310.2 1293.1L311.0 1297.4L311.8 1297.7L312.6 1295.1L313.4 1296.1L314.2 1296.7L315.0 1298.3L315.8 1297.3L316.6 1298.4L317.4 1298.6L318.2 1298.9L319.0 1293.5L319.8 1299.5L320.6 1297.3L321.0 1297.7" fill="none" stroke="#000" stroke-width="3.2" stroke-linejoin="round" stroke-linecap="round"/>
<path d="M359.7 721.9L360.5 720.9L361.3 722.6L362.1 725.2L362.9 725.8L363.7 723.3L364.5 723.4L365.3 721.4L366.1 720.2L366.9 716.8L367.7 724.5L368.5 722.2L369.3 721.0L370.1 724.4L370.9 722.5L371.7 720.7L372.5 721.5L373.3 718.6L374.1 721.4L374.9 718.8L375.7 721.8L376.5 720.4L377.3 721.5L378.1 719.1L378.9 721.9L379.7 723.0L380.5 720.1L381.3 720.6L382.1 717.9L382.9 722.0L383.7 721.3L384.5 721.3L385.3 723.9L386.1 721.1L386.9 723.0L387.7 721.3L388.5 720.5L389.3 721.1L390.1 721.0L390.9 720.5L391.7 722.5L392.5 723.1L393.3 723.5L394.1 720.9L394.9 716.8L395.7 720.7L396.5 720.5L397.3 721.1L398.1 721.2L398.9 722.7L399.7 718.6L400.5 717.4L401.3 723.6L402.1 720.5L402.9 723.2L403.7 723.2L404.5 722.3L405.3 721.3L406.1 722.3L406.9 725.5L407.7 725.1L408.5 723.9L409.3 725.1L410.1 720.6L410.9 719.6L411.7 720.4L412.5 723.5L413.3 723.6L414.1 718.8L414.9 723.2L415.7 723.0L416.5 724.4L417.3 718.9L418.1 721.6L418.9 722.8L419.7 723.3L420.5 724.4L421.3 724.9L422.1 724.4L422.9 723.5L423.7 722.6L424.5 721.9L425.3 721.7L426.1 722.3L426.9 725.6L427.7 724.0L428.5 720.5L429.3 722.9L430.1 723.3L430.9 720.7L431.7 722.8L432.5 721.5L433.3 721.0L434.1 719.2L434.9 719.6L435.7 723.6L436.5 723.0L437.3 721.0L438.1 720.7L438.9 721.3L439.7 720.8L440.5 722.1L441.3 723.0L442.1 720.0L442.9 721.8L443.7 724.4L444.5 724.9L445.0 722.3L445.3 718.4L446.1 718.7L446.7 713.9L446.9 716.3L447.7 719.3L448.5 722.8L449.3 720.7L450.1 721.2L450.9 720.2L451.7 720.2L452.5 719.8L453.3 722.4L454.1 723.0L454.9 720.2L455.7 719.2L456.5 720.7L457.0 722.1L457.3 720.2L458.1 721.2L458.7 719.8L458.9 709.8L459.7 678.1L460.0 665.5L460.5 664.6L461.3 664.6L462.1 664.0L462.9 660.9L463.7 658.0L464.5 652.6L465.3 650.1L466.1 645.3L466.9 643.6L467.0 641.9L467.7 643.6L468.5 653.9L469.3 662.7L469.6 660.8L470.1 661.4L470.9 673.3L471.7 682.2L472.5 688.5L473.3 696.0L474.0 705.4L474.1 704.6L474.9 695.6L475.7 683.3L476.5 678.4L477.3 665.3L477.7 660.5L478.1 665.4L478.9 672.6L479.7 682.3L480.5 689.5L481.3 699.2L482.1 706.4L482.8 714.3L482.9 713.6L483.7 699.5L484.5 690.8L485.3 680.6L485.8 677.4L486.1 678.2L486.9 686.4L487.7 692.2L488.5 696.4L489.3 705.1L490.1 712.8L490.4 713.9L490.9 710.1L491.7 706.4L492.5 698.5L493.3 687.7L493.5 685.5L494.1 691.8L494.9 696.3L495.7 699.4L496.5 706.6L496.8 709.4L497.3 708.7L498.1 701.9L498.9 700.9L499.7 698.0L500.5 697.6L501.3 693.2L501.8 692.4L502.1 691.4L502.9 695.1L503.7 695.3L504.5 695.7L505.3 697.6L505.6 700.8L506.1 701.5L506.9 698.9L507.7 698.1L508.5 700.5L509.3 697.7L510.1 695.6L510.9 698.7L511.7 700.4L512.5 695.8L513.3 697.2L514.1 698.0L514.9 701.0L515.7 698.3L516.5 695.2L517.3 700.4L518.1 700.8L518.9 698.8L519.7 702.4L520.5 696.4L520.9 698.8L521.3 699.2L522.1 698.5L522.9 698.9L523.7 696.9L524.5 696.6L525.3 698.1L526.0 698.6L526.1 698.0L526.9 693.8L527.7 691.6L528.5 689.3L529.3 694.6L530.1 696.6L530.5 698.9L530.9 698.6L531.7 698.7L532.5 699.9L533.3 702.6L534.1 701.2L534.9 702.8L535.7 701.7L536.0 703.7L536.5 704.6L537.3 704.2L538.1 702.0L538.9 698.9L539.7 702.6L540.5 701.6L541.3 705.0L542.1 703.8L542.9 701.6L543.7 704.2L544.5 704.4L545.3 702.4L546.1 700.2L546.9 701.5L547.7 701.3L548.5 703.6L549.3 702.6L550.1 704.5L550.9 702.8L551.7 701.8L552.5 701.5L553.3 702.1L554.0 703.7L554.1 704.3L554.9 703.4L555.7 703.1L556.5 703.3L557.3 702.6L558.1 705.7L558.9 704.1L559.7 703.5L560.5 704.3L561.3 705.0L562.1 703.2L562.9 708.0L563.7 706.9L564.5 706.4L565.3 705.3L566.1 707.9L566.9 707.6L567.7 705.1L568.5 710.5L569.3 711.2L570.1 708.4L570.9 707.9L571.7 707.3L572.5 709.9L573.3 707.1L574.1 708.2L574.9 708.8L575.7 709.4L576.5 711.4L577.3 711.2L578.1 707.1L578.9 708.9L579.7 710.7L580.5 710.8L581.3 711.6L582.1 711.1L582.9 708.0L583.7 709.6L584.5 711.9L585.3 712.6L585.6 711.3" fill="none" stroke="#000" stroke-width="3.2" stroke-linejoin="round" stroke-linecap="round"/>
<path d="M359.7 808.3L360.5 807.6L361.3 807.6L362.1 806.5L362.9 807.5L363.7 807.2L364.5 809.1L365.3 806.2L366.1 803.4L366.9 806.6L367.7 808.5L368.5 808.9L369.3 808.2L370.1 806.6L370.9 806.3L371.7 808.6L372.5 807.4L373.3 808.4L374.1 809.1L374.9 807.5L375.7 808.3L376.5 805.2L377.3 808.1L378.1 810.4L378.9 805.1L379.7 810.5L380.5 806.9L381.3 808.0L382.1 804.7L382.9 808.9L383.7 806.6L384.5 809.2L385.3 807.8L386.1 805.6L386.9 808.6L387.7 806.1L388.5 808.6L389.3 809.9L390.1 809.5L390.9 807.2L391.7 809.1L392.5 811.5L393.3 810.1L394.1 808.2L394.9 805.1L395.7 808.8L396.5 808.7L397.3 807.7L398.1 807.6L398.9 807.2L399.7 810.7L400.5 808.3L401.3 808.6L402.1 810.1L402.9 807.4L403.7 805.5L404.5 806.0L405.3 809.9L406.1 805.1L406.9 808.5L407.7 805.1L408.5 809.0L409.3 810.3L410.1 809.3L410.9 811.1L411.7 809.4L412.5 809.7L413.3 808.2L414.1 807.8L414.9 810.8L415.7 808.6L416.5 810.2L417.3 808.4L418.1 807.6L418.9 807.7L419.7 810.8L420.5 809.1L421.3 808.5L422.1 806.8L422.9 808.5L423.7 808.3L424.5 809.4L425.3 807.7L426.1 806.5L426.9 808.0L427.7 808.9L428.5 801.8L429.3 809.1L430.1 808.5L430.9 808.2L431.7 811.8L432.5 812.8L433.3 807.0L434.1 812.0L434.9 811.7L435.7 810.4L436.5 810.2L437.3 809.3L438.1 810.1L438.9 807.9L439.7 809.9L440.5 809.6L441.3 808.3L442.1 808.9L442.9 811.3L443.7 806.2L444.5 809.1L445.3 808.6L446.1 807.6L446.9 809.8L447.7 809.3L448.5 809.1L449.3 811.9L450.1 809.3L450.9 809.1L451.7 808.1L452.5 809.5L453.3 807.8L454.1 810.2L454.9 806.0L455.7 809.2L456.0 808.2L456.5 805.9L457.3 809.5L458.1 804.6L458.7 805.8L458.9 797.9L459.7 766.6L460.4 742.2L460.5 740.1L461.3 739.7L462.1 735.2L462.9 732.1L463.7 728.3L464.5 726.0L465.0 722.7L465.3 724.3L466.1 728.2L466.9 725.5L467.7 732.0L468.5 733.5L469.3 730.9L470.0 732.8L470.1 737.9L470.9 741.9L471.7 746.7L472.5 753.1L473.3 759.3L474.1 761.4L474.9 768.8L475.2 767.0L475.7 770.7L476.5 767.7L477.3 772.1L477.7 772.5L478.1 774.6L478.9 783.5L479.7 787.9L480.2 792.6L480.5 795.1L481.3 793.2L482.1 785.6L482.9 786.2L483.7 782.4L484.5 779.5L485.3 778.9L486.1 781.2L486.9 783.7L487.7 782.5L488.5 787.0L489.0 787.6L489.3 790.2L490.1 787.0L490.9 788.3L491.7 786.9L492.5 787.5L493.3 788.6L494.1 789.5L494.9 785.0L495.7 788.9L496.5 787.7L497.3 786.1L498.1 785.7L498.9 785.4L499.7 786.5L500.5 787.8L501.3 787.9L502.1 782.6L502.9 788.8L503.0 783.2L503.7 785.8L504.5 787.7L505.3 785.8L506.1 785.5L506.9 786.7L507.7 787.9L508.5 785.2L509.3 789.9L510.1 785.3L510.9 787.5L511.7 782.9L512.5 786.2L513.3 787.5L514.1 785.5L514.9 784.9L515.7 789.5L515.8 787.7L516.5 792.6L517.3 791.2L518.1 786.6L518.9 785.7L519.7 784.5L520.0 783.4L520.5 779.4L520.9 775.7L521.3 778.3L522.0 785.8L522.1 783.0L522.9 786.0L523.7 788.3L524.5 787.6L525.3 785.6L526.1 787.0L526.9 786.3L527.7 788.2L528.5 787.7L529.3 783.0L530.1 792.0L530.9 782.5L531.7 791.3L532.5 789.3L533.3 788.2L534.1 788.5L534.9 787.4L535.7 787.7L536.5 788.9L537.3 790.3L538.1 788.7L538.9 791.2L539.7 793.8L540.5 787.1L541.3 789.4L542.1 788.9L542.9 792.7L543.7 788.4L544.5 791.7L545.3 790.7L546.1 795.4L546.9 791.1L547.7 791.8L548.5 795.8L549.3 795.5L550.1 791.4L550.9 795.6L551.7 790.7L552.5 794.9L553.3 792.5L553.9 795.0L554.1 794.2L554.9 795.2L555.7 794.3L556.5 793.7L557.3 791.9L558.1 793.3L558.9 793.6L559.7 795.3L560.5 794.0L561.3 794.5L562.1 796.4L562.9 797.6L563.7 795.0L564.5 797.4L565.3 795.6L566.1 796.0L566.9 796.1L567.7 794.9L568.5 797.6L569.3 797.0L570.1 797.3L570.9 797.4L571.7 798.6L572.5 797.9L573.3 797.7L574.1 796.3L574.9 797.4L575.7 795.8L576.5 798.9L577.3 800.6L578.1 799.1L578.9 800.0L579.7 794.7L580.5 798.9L581.3 798.6L582.1 799.1L582.9 799.3L583.7 798.6L584.5 797.7L585.3 799.4L585.6 799.1" fill="none" stroke="#000" stroke-width="3.2" stroke-linejoin="round" stroke-linecap="round"/>
<path d="M359.7 874.9L360.5 874.2L361.3 877.3L362.1 875.7L362.9 871.9L363.7 873.5L364.5 873.3L365.3 875.9L366.1 873.8L366.9 873.2L367.7 877.3L368.5 876.0L369.3 875.8L370.1 871.7L370.9 875.6L371.7 875.5L372.5 875.5L373.3 874.8L374.1 875.8L374.9 877.9L375.7 879.3L376.5 878.6L377.3 876.7L378.1 874.3L378.9 876.1L379.7 877.7L380.5 872.9L381.3 875.2L382.1 875.5L382.9 874.6L383.7 877.0L384.5 875.7L385.3 875.5L386.1 873.1L386.9 873.8L387.7 873.4L388.5 874.2L389.3 873.4L390.1 875.3L390.9 877.1L391.7 876.5L392.5 875.2L393.3 876.5L394.1 873.4L394.9 877.6L395.7 873.0L396.5 873.5L397.3 873.7L398.1 874.8L398.9 875.5L399.7 873.9L400.5 876.3L401.3 873.6L402.1 874.1L402.9 876.0L403.7 869.7L404.5 876.5L405.3 877.0L406.1 875.5L406.9 875.5L407.7 875.5L408.5 873.7L409.3 876.1L410.1 872.9L410.9 874.1L411.7 875.0L412.5 875.7L413.3 873.4L414.1 874.3L414.9 872.7L415.7 874.8L416.5 875.4L417.3 876.6L418.1 875.5L418.9 872.3L419.7 877.4L420.5 875.3L421.3 873.1L422.1 872.2L422.9 877.0L423.7 874.6L424.5 876.0L425.3 875.1L426.1 878.0L426.9 873.6L427.7 875.9L428.5 875.7L429.3 875.6L430.1 879.1L430.9 875.7L431.7 873.7L432.5 877.6L433.3 874.9L434.1 875.0L434.9 877.3L435.7 873.4L436.5 875.1L437.3 875.1L438.1 875.9L438.9 876.9L439.7 874.3L440.5 879.0L441.3 876.7L442.1 879.9L442.9 876.8L443.7 876.1L444.5 878.1L445.3 876.4L446.1 874.1L446.9 876.0L447.7 874.5L448.5 878.9L449.3 875.3L450.1 879.2L450.9 877.1L451.7 876.0L452.5 874.7L453.3 874.2L454.1 877.9L454.9 877.6L455.7 875.1L456.5 877.5L457.0 876.4L457.3 876.7L458.1 876.1L458.9 874.7L459.4 873.4L459.7 857.4L460.4 824.8L460.5 823.8L461.3 825.0L462.1 831.4L462.5 831.9L462.9 830.5L463.7 824.4L464.5 815.3L465.3 813.5L466.1 811.4L466.3 808.9L466.9 811.7L467.7 812.7L468.5 813.9L469.3 821.1L470.1 820.6L470.9 825.3L471.7 823.6L472.5 828.3L473.3 833.3L474.1 836.7L474.9 838.6L475.2 841.3L475.7 843.2L476.5 846.8L477.3 853.1L478.1 855.7L478.9 863.1L479.0 864.1L479.7 861.4L480.5 861.0L481.3 858.8L482.1 859.0L482.8 856.0L482.9 854.9L483.7 855.6L484.5 857.8L485.3 857.4L486.1 861.1L486.9 859.0L487.7 858.8L487.9 860.5L488.5 864.4L489.3 862.4L490.1 862.0L490.9 860.8L491.7 858.0L492.5 858.5L493.3 859.6L494.1 861.0L494.9 859.8L495.7 858.8L496.5 859.4L497.3 861.1L498.1 858.5L498.9 861.4L499.7 859.5L500.5 857.3L501.3 858.0L502.1 856.7L502.9 856.4L503.0 859.6L503.7 857.8L504.5 860.8L505.3 861.8L506.1 862.7L506.9 862.9L507.7 861.4L508.5 860.3L509.3 865.5L510.1 862.9L510.7 862.6L510.9 861.5L511.7 863.7L512.5 861.1L513.3 863.8L514.1 857.5L514.9 860.7L515.7 859.3L516.5 862.5L517.3 859.5L518.1 863.7L518.9 859.1L519.7 860.6L520.5 861.1L521.3 858.4L522.1 862.7L522.9 860.1L523.7 861.9L524.5 861.1L525.3 862.0L526.1 863.4L526.9 862.3L527.7 862.7L528.5 862.0L529.3 861.0L530.1 859.0L530.9 863.1L531.7 858.8L532.5 860.7L533.3 859.0L534.1 862.0L534.9 861.1L535.7 858.1L536.5 860.6L537.3 861.4L538.1 858.6L538.9 866.0L539.7 859.5L540.0 859.6L540.5 859.9L541.3 861.1L542.1 862.2L542.9 862.5L543.7 861.4L544.5 862.3L545.3 862.7L546.1 861.5L546.9 864.4L547.7 866.7L548.5 864.6L549.3 864.3L550.1 864.3L550.9 863.2L551.7 864.9L552.5 862.2L553.3 865.9L554.0 866.5L554.1 871.4L554.9 866.0L555.7 866.3L556.5 865.8L557.3 865.8L558.1 865.6L558.9 866.6L559.7 866.5L560.5 869.9L561.3 865.9L562.1 867.1L562.9 870.0L563.7 868.2L564.5 866.2L565.3 869.8L566.1 868.6L566.9 865.9L567.7 869.0L568.5 872.5L569.3 866.5L570.1 869.6L570.9 870.3L571.7 868.2L572.5 875.1L573.3 870.5L574.1 867.0L574.9 869.0L575.7 869.6L576.5 869.8L577.3 871.5L578.1 869.4L578.9 871.6L579.7 871.2L580.5 868.4L581.3 872.8L582.1 869.4L582.9 871.7L583.7 870.1L584.5 872.4L585.3 874.1L585.6 870.9" fill="none" stroke="#000" stroke-width="3.2" stroke-linejoin="round" stroke-linecap="round"/>
<path d="M359.7 958.5L360.5 958.4L361.3 958.2L362.1 959.3L362.9 959.3L363.7 961.1L364.5 960.7L365.3 957.1L366.1 959.7L366.9 958.6L367.7 959.4L368.5 958.3L369.3 955.0L370.1 955.3L370.9 957.6L371.7 955.0L372.5 956.6L373.3 956.0L374.1 958.0L374.9 954.7L375.7 956.5L376.5 958.1L377.3 957.6L378.1 957.9L378.9 958.1L379.7 959.5L380.5 960.3L381.3 960.9L382.1 957.0L382.9 959.4L383.7 959.5L384.5 961.4L385.3 959.0L386.1 958.5L386.9 959.5L387.7 959.9L388.5 957.6L389.3 959.1L390.1 959.7L390.9 960.0L391.7 956.5L392.5 957.9L393.3 958.6L394.1 957.8L394.9 960.5L395.7 959.4L396.5 958.8L397.3 957.3L398.1 957.8L398.9 959.6L399.7 958.7L400.5 957.7L401.3 961.1L402.1 958.8L402.9 957.9L403.7 961.7L404.5 956.7L405.3 955.6L406.1 959.8L406.9 956.8L407.7 956.9L408.5 959.5L409.3 958.0L410.1 955.7L410.9 960.3L411.7 959.3L412.5 955.3L413.3 960.2L414.1 957.3L414.9 957.7L415.7 954.6L416.5 960.1L417.3 957.4L418.1 958.7L418.9 958.0L419.7 958.1L420.5 956.6L421.3 956.9L422.1 958.5L422.9 958.2L423.7 960.4L424.5 957.8L425.3 962.7L426.1 957.6L426.9 959.0L427.7 962.7L428.5 959.4L429.3 959.1L430.1 960.5L430.9 960.0L431.7 960.4L432.5 956.7L433.3 960.5L434.1 959.2L434.9 958.0L435.7 961.0L436.5 962.0L437.3 961.7L438.1 959.0L438.9 960.3L439.7 958.0L440.5 961.7L441.3 957.2L442.1 958.7L442.9 960.6L443.7 959.3L444.5 956.8L445.3 956.0L446.1 960.4L446.9 961.2L447.7 958.3L448.5 956.4L449.3 955.4L450.1 958.8L450.9 958.3L451.7 961.0L452.5 959.3L453.3 957.6L454.1 959.6L454.9 958.4L455.7 958.6L456.5 957.8L457.3 955.0L458.0 958.3L458.1 960.4L458.9 956.5L459.7 953.9L460.0 955.1L460.5 942.6L461.3 918.0L462.0 900.1L462.1 904.2L462.9 901.9L463.7 902.2L464.5 903.8L465.3 902.8L466.1 895.3L466.9 893.4L467.7 884.4L468.5 879.6L468.8 878.2L469.3 877.3L470.1 879.5L470.9 886.3L471.7 888.9L472.5 889.8L472.6 891.2L473.3 899.0L474.1 908.3L474.9 914.3L475.7 929.8L476.5 937.3L477.0 946.5L477.3 938.1L478.1 931.7L478.9 924.1L479.7 916.9L480.5 908.3L480.8 906.0L481.3 910.3L482.1 915.9L482.9 923.1L483.7 922.4L484.5 929.2L485.3 931.0L486.1 939.3L486.9 942.6L487.1 944.9L487.7 940.6L488.5 934.1L489.3 930.0L490.1 924.8L490.4 924.1L490.9 928.5L491.7 931.7L492.5 929.3L493.3 936.1L494.1 942.0L494.2 942.0L494.9 936.2L495.7 935.2L496.5 934.1L497.3 930.6L498.0 926.2L498.1 924.6L498.9 929.2L499.7 930.0L500.5 933.9L501.3 935.9L501.8 940.0L502.1 939.8L502.9 938.5L503.7 939.7L504.5 937.2L505.3 940.7L506.1 937.3L506.9 936.6L507.7 936.2L508.5 937.0L509.3 933.2L510.1 934.9L510.7 934.6L510.9 934.8L511.7 935.4L512.5 933.3L513.3 932.9L514.1 934.7L514.9 933.6L515.7 934.6L516.5 934.9L517.3 933.6L518.1 936.9L518.9 933.1L519.0 934.0L519.7 931.4L520.5 928.0L521.0 926.4L521.3 929.1L522.1 931.7L522.9 932.9L523.0 934.8L523.7 937.2L524.5 936.8L525.3 938.0L526.1 939.5L526.9 937.4L527.7 937.5L528.5 937.3L529.3 936.3L530.1 937.6L530.9 936.9L531.7 937.0L532.5 938.6L533.3 939.4L534.1 936.9L534.9 933.4L535.7 939.6L536.5 935.5L537.3 940.1L538.1 940.6L538.9 934.6L539.7 936.7L540.5 939.2L541.3 939.4L542.1 939.8L542.9 941.9L543.7 942.4L544.5 939.6L545.3 940.8L546.1 942.3L546.9 938.7L547.7 939.9L548.5 941.9L549.3 943.2L550.1 941.7L550.9 942.7L551.7 940.8L552.5 943.3L553.3 944.1L553.9 942.6L554.1 942.5L554.9 942.7L555.7 945.2L556.5 943.1L557.3 946.1L558.1 945.1L558.9 940.7L559.7 944.6L560.5 945.7L561.3 945.4L562.1 946.8L562.9 945.4L563.7 946.1L564.5 947.9L565.3 947.5L566.1 950.9L566.6 948.7L566.9 947.7L567.7 948.3L568.5 950.6L569.3 948.1L570.1 949.4L570.9 945.3L571.7 949.1L572.5 950.8L573.3 947.7L574.1 948.9L574.9 950.1L575.7 947.9L576.5 949.4L577.3 949.8L578.1 950.8L578.9 949.9L579.7 949.4L580.5 949.6L581.3 947.4L582.1 949.2L582.9 948.6L583.7 948.8L584.5 950.4L585.3 946.7L585.6 949.6" fill="none" stroke="#000" stroke-width="3.2" stroke-linejoin="round" stroke-linecap="round"/>
<path d="M359.7 1032.4L360.5 1029.8L361.3 1030.7L362.1 1032.0L362.9 1029.7L363.7 1034.0L364.5 1033.6L365.3 1031.1L366.1 1030.5L366.9 1031.0L367.7 1031.7L368.5 1034.0L369.3 1032.6L370.1 1031.4L370.9 1031.6L371.7 1029.9L372.5 1032.7L373.3 1033.0L374.1 1030.6L374.9 1031.6L375.7 1032.1L376.5 1029.2L377.3 1032.6L378.1 1031.1L378.9 1032.8L379.7 1030.0L380.5 1033.6L381.3 1033.2L382.1 1034.1L382.9 1033.4L383.7 1035.7L384.5 1030.9L385.3 1030.9L386.1 1030.7L386.9 1030.3L387.7 1033.0L388.5 1032.4L389.3 1031.3L390.1 1034.8L390.9 1034.1L391.7 1032.5L392.5 1032.6L393.3 1032.3L394.1 1029.9L394.9 1031.0L395.7 1029.8L396.5 1031.1L397.3 1033.9L398.1 1030.6L398.9 1034.1L399.7 1032.2L400.5 1032.4L401.3 1034.3L402.1 1031.3L402.9 1035.1L403.7 1032.9L404.5 1036.8L405.3 1032.2L406.1 1033.0L406.9 1034.2L407.7 1033.7L408.5 1030.8L409.3 1031.0L410.1 1032.9L410.9 1029.9L411.7 1031.5L412.5 1033.4L413.3 1029.7L414.1 1031.0L414.9 1030.2L415.7 1032.4L416.5 1030.4L417.3 1030.0L418.1 1032.1L418.9 1031.6L419.7 1027.7L420.5 1032.0L421.3 1033.6L422.1 1031.1L422.9 1029.3L423.7 1033.0L424.5 1029.4L425.3 1033.9L426.1 1030.4L426.9 1032.6L427.7 1029.1L428.5 1030.0L429.3 1035.4L430.1 1034.7L430.9 1031.2L431.7 1033.3L432.5 1031.9L433.3 1034.3L434.1 1034.8L434.9 1031.7L435.7 1031.2L436.5 1031.6L437.3 1030.9L438.1 1032.4L438.9 1031.5L439.7 1031.1L440.5 1034.4L441.3 1030.6L442.1 1032.8L442.9 1033.3L443.7 1032.5L444.5 1034.4L445.3 1032.1L446.1 1032.0L446.9 1033.2L447.7 1032.7L448.5 1034.2L449.3 1028.9L450.1 1033.0L450.9 1034.7L451.7 1031.7L452.5 1031.0L453.3 1034.2L454.1 1032.8L454.9 1030.1L455.7 1034.9L456.5 1033.1L457.3 1032.3L458.1 1034.7L458.9 1030.3L459.0 1032.6L459.7 1029.5L460.4 1029.7L460.5 1027.4L461.3 1008.2L462.1 982.5L462.5 968.6L462.9 966.0L463.7 969.3L464.5 969.1L465.3 970.8L466.1 966.4L466.9 970.1L467.6 971.4L467.7 972.4L468.5 972.1L469.3 971.6L470.1 971.7L470.9 972.0L471.4 974.3L471.7 973.9L472.5 975.9L473.3 981.9L474.1 983.5L474.9 986.7L475.2 988.8L475.7 989.9L476.5 994.9L477.3 1003.0L478.1 1008.8L478.9 1012.0L479.0 1012.0L479.7 1007.6L480.5 1005.2L481.3 998.3L481.5 999.1L482.1 998.1L482.9 1005.7L483.7 1005.9L484.5 1013.9L485.3 1011.2L486.1 1016.5L486.9 1017.8L487.7 1023.6L487.9 1022.4L488.5 1021.4L489.3 1019.0L490.1 1015.7L490.9 1012.8L491.7 1011.8L492.5 1015.3L493.3 1017.3L494.1 1012.5L494.9 1022.8L495.5 1022.9L495.7 1020.5L496.5 1022.0L497.3 1018.5L498.1 1018.0L498.9 1015.6L499.7 1017.6L500.5 1012.0L500.6 1014.6L501.3 1017.0L502.1 1015.7L502.9 1015.0L503.7 1017.0L504.5 1017.5L505.3 1014.6L506.1 1016.8L506.9 1016.6L507.7 1018.3L508.5 1019.1L509.3 1019.2L510.1 1017.2L510.7 1018.7L510.9 1017.9L511.7 1018.3L512.5 1019.6L513.3 1018.0L514.1 1021.0L514.9 1019.2L515.7 1017.5L516.5 1020.5L517.3 1019.4L518.1 1024.2L518.9 1020.8L519.7 1018.7L520.5 1019.8L521.3 1021.5L522.1 1019.3L522.9 1018.6L523.7 1021.8L524.5 1022.9L525.3 1019.9L526.1 1021.3L526.9 1020.4L527.7 1021.1L528.5 1019.6L529.3 1022.4L530.1 1022.6L530.9 1022.2L531.7 1021.1L532.5 1021.5L533.3 1021.8L534.1 1021.7L534.9 1021.9L535.7 1023.5L536.5 1023.4L537.3 1020.2L538.1 1024.2L538.9 1019.6L539.7 1018.2L540.5 1022.1L541.3 1020.7L542.1 1020.6L542.9 1020.6L543.7 1027.6L544.5 1024.5L545.3 1022.7L546.1 1018.9L546.9 1021.5L547.7 1022.9L548.5 1020.3L549.3 1022.2L550.1 1020.4L550.9 1026.5L551.7 1024.1L552.5 1022.0L553.3 1019.9L553.9 1023.7L554.1 1024.2L554.9 1025.7L555.7 1024.5L556.5 1029.9L557.3 1026.8L558.1 1027.8L558.9 1026.3L559.7 1023.0L560.5 1025.5L561.3 1024.7L562.1 1023.0L562.9 1028.7L563.7 1028.1L564.5 1022.8L565.3 1026.6L566.1 1024.9L566.6 1028.4L566.9 1026.4L567.7 1026.8L568.5 1025.8L569.3 1026.5L570.1 1028.4L570.9 1025.6L571.7 1027.3L572.5 1028.7L573.3 1027.0L574.1 1028.8L574.9 1025.7L575.7 1028.2L576.5 1026.5L577.3 1026.0L578.1 1027.2L578.9 1025.3L579.7 1029.1L580.5 1028.6L581.3 1025.6L582.1 1024.4L582.9 1025.6L583.7 1026.2L584.5 1025.0L585.3 1026.7L585.6 1027.5" fill="none" stroke="#000" stroke-width="3.2" stroke-linejoin="round" stroke-linecap="round"/>
<path d="M359.7 1122.5L360.5 1122.6L361.3 1126.3L362.1 1124.8L362.9 1124.3L363.7 1122.6L364.5 1122.5L365.3 1120.0L366.1 1121.3L366.9 1123.2L367.7 1122.6L368.5 1121.7L369.3 1121.8L370.1 1124.4L370.9 1124.5L371.7 1124.1L372.5 1122.4L373.3 1125.8L374.1 1119.7L374.9 1125.2L375.7 1122.1L376.5 1125.1L377.3 1121.3L378.1 1122.0L378.9 1120.3L379.7 1124.6L380.5 1123.9L381.3 1123.5L382.1 1124.0L382.9 1120.1L383.7 1121.5L384.5 1122.2L385.3 1122.0L386.1 1123.6L386.9 1124.1L387.7 1121.4L388.5 1122.0L389.3 1121.7L390.1 1122.5L390.9 1119.3L391.7 1124.1L392.5 1123.7L393.3 1120.8L394.1 1123.6L394.9 1119.8L395.7 1123.4L396.5 1124.0L397.3 1121.0L398.1 1121.9L398.9 1122.1L399.7 1117.3L400.5 1125.7L401.3 1120.3L402.1 1122.2L402.9 1121.3L403.7 1121.9L404.5 1120.8L405.3 1121.8L406.1 1119.7L406.9 1121.9L407.7 1123.2L408.5 1122.8L409.3 1123.9L410.1 1123.9L410.9 1122.5L411.7 1124.8L412.5 1123.1L413.3 1122.0L414.1 1121.2L414.9 1124.6L415.7 1122.5L416.5 1121.7L417.3 1120.6L418.1 1121.6L418.9 1124.2L419.7 1121.2L420.5 1119.8L421.3 1120.0L422.1 1121.0L422.9 1123.5L423.7 1122.1L424.5 1122.5L425.3 1121.1L426.1 1125.5L426.9 1120.3L427.7 1122.9L428.5 1121.0L429.3 1123.0L430.1 1123.8L430.9 1122.4L431.7 1123.5L432.5 1120.2L433.3 1122.4L434.1 1125.2L434.9 1121.9L435.7 1118.2L436.5 1121.1L437.3 1120.2L438.1 1122.4L438.9 1120.1L439.7 1122.1L440.5 1119.1L441.3 1122.3L442.1 1121.9L442.9 1122.8L443.7 1122.7L444.5 1121.1L445.3 1123.3L446.1 1122.8L446.9 1124.5L447.7 1123.7L448.5 1122.5L449.3 1124.2L450.1 1123.9L450.9 1123.0L451.7 1121.5L452.5 1120.2L453.3 1123.9L454.1 1124.8L454.9 1122.5L455.7 1122.8L456.5 1123.7L457.3 1124.1L458.1 1125.1L458.9 1121.0L459.0 1122.7L459.7 1120.6L460.4 1119.9L460.5 1115.5L461.3 1086.4L462.1 1060.5L462.5 1045.3L462.9 1044.5L463.7 1047.6L464.5 1051.8L465.0 1050.0L465.3 1047.5L466.1 1046.4L466.9 1041.2L467.7 1042.4L468.5 1036.7L468.8 1037.1L469.3 1042.4L470.1 1045.4L470.9 1047.0L471.7 1054.6L472.5 1056.5L472.6 1057.6L473.3 1063.4L474.1 1069.9L474.9 1076.4L475.2 1081.2L475.7 1083.3L476.5 1080.3L477.3 1081.1L477.7 1083.5L478.1 1082.0L478.9 1088.2L479.7 1090.5L480.5 1097.0L481.3 1101.7L481.5 1103.6L482.1 1102.4L482.9 1105.7L483.7 1104.1L484.5 1101.7L485.3 1104.5L486.1 1102.3L486.9 1102.9L487.7 1106.2L488.5 1104.5L489.3 1103.9L490.1 1105.3L490.9 1108.3L491.7 1103.5L492.5 1106.9L493.3 1104.2L494.1 1103.7L494.9 1106.6L495.7 1103.9L496.5 1105.6L497.3 1108.7L498.1 1103.8L498.9 1104.7L499.7 1108.6L500.5 1106.1L501.3 1105.0L502.1 1106.3L502.9 1108.8L503.0 1105.1L503.7 1105.3L504.5 1102.4L505.3 1104.4L506.1 1109.2L506.9 1106.1L507.7 1106.4L508.5 1108.5L509.3 1105.0L510.1 1108.0L510.7 1107.4L510.9 1107.3L511.7 1112.1L512.5 1106.2L513.3 1108.4L514.1 1112.1L514.9 1108.7L515.7 1109.5L516.5 1109.0L517.3 1108.4L518.1 1106.5L518.9 1110.5L519.7 1108.6L520.5 1109.3L521.3 1111.1L522.1 1109.6L522.9 1112.1L523.7 1109.8L524.5 1109.2L525.3 1112.2L526.1 1112.1L526.9 1112.0L527.7 1115.3L528.5 1110.9L529.3 1110.7L530.1 1113.7L530.9 1113.8L531.7 1111.8L532.5 1112.5L533.3 1113.6L534.1 1114.5L534.9 1113.0L535.7 1111.5L536.0 1113.9L536.5 1114.6L537.3 1114.4L538.1 1110.8L538.9 1114.6L539.7 1109.2L540.5 1113.1L541.3 1110.7L542.1 1112.3L542.9 1110.8L543.7 1111.5L544.5 1111.4L545.3 1112.8L546.1 1107.7L546.9 1108.3L547.7 1107.3L548.5 1114.5L549.3 1108.0L550.1 1108.1L550.9 1111.7L551.7 1108.5L552.5 1107.8L553.3 1109.1L554.0 1108.7L554.1 1107.1L554.9 1108.3L555.7 1110.7L556.5 1109.4L557.3 1108.0L558.1 1110.8L558.9 1108.8L559.7 1110.0L560.5 1111.2L561.3 1110.3L562.1 1109.6L562.9 1108.3L563.7 1112.1L564.5 1109.6L565.3 1112.2L566.1 1110.0L566.9 1108.2L567.7 1110.8L568.5 1107.9L569.3 1110.1L570.1 1113.9L570.9 1111.1L571.7 1110.4L572.5 1112.3L573.3 1111.8L574.1 1112.8L574.9 1108.8L575.7 1111.8L576.5 1113.1L577.3 1111.9L578.1 1113.0L578.9 1114.0L579.7 1111.0L580.5 1114.9L581.3 1112.9L582.1 1113.5L582.9 1111.1L583.7 1114.5L584.5 1115.3L585.3 1114.3L585.6 1113.5" fill="none" stroke="#000" stroke-width="3.2" stroke-linejoin="round" stroke-linecap="round"/>
<path d="M359.7 1210.1L360.5 1208.8L361.3 1214.2L362.1 1210.9L362.9 1209.6L363.7 1210.5L364.5 1213.0L365.3 1212.5L366.1 1207.2L366.9 1214.8L367.7 1209.7L368.5 1210.8L369.3 1211.8L370.1 1212.1L370.9 1210.9L371.7 1212.3L372.5 1211.8L373.3 1212.1L374.1 1209.2L374.9 1211.7L375.7 1211.6L376.5 1214.4L377.3 1210.3L378.1 1209.1L378.9 1209.8L379.7 1205.9L380.5 1214.5L381.3 1208.7L382.1 1210.7L382.9 1210.5L383.7 1209.7L384.5 1212.8L385.3 1206.9L386.1 1211.9L386.9 1210.6L387.7 1210.7L388.5 1209.6L389.3 1212.5L390.1 1212.4L390.9 1207.4L391.7 1209.7L392.5 1207.1L393.3 1205.9L394.1 1209.1L394.9 1206.8L395.7 1210.8L396.5 1211.2L397.3 1205.9L398.1 1208.6L398.9 1212.7L399.7 1206.7L400.5 1206.2L401.3 1209.3L402.1 1210.5L402.9 1208.9L403.7 1208.0L404.5 1210.0L405.3 1208.4L406.1 1209.4L406.9 1209.5L407.7 1208.1L408.5 1209.9L409.3 1209.7L410.1 1211.6L410.9 1212.1L411.7 1213.7L412.5 1213.0L413.3 1210.7L414.1 1211.6L414.9 1212.9L415.7 1208.6L416.5 1210.2L417.3 1207.0L418.1 1205.7L418.9 1208.3L419.7 1210.5L420.5 1208.6L421.3 1210.2L422.1 1209.6L422.9 1209.3L423.7 1209.0L424.5 1209.8L425.3 1212.2L426.1 1210.2L426.9 1209.2L427.7 1209.5L428.5 1211.9L429.3 1208.8L430.1 1208.3L430.9 1210.1L431.7 1208.1L432.5 1210.0L433.3 1206.1L434.1 1211.6L434.9 1210.6L435.7 1209.0L436.5 1211.8L437.3 1208.5L438.1 1206.6L438.9 1211.1L439.7 1210.8L440.5 1210.4L441.3 1211.3L442.1 1209.4L442.9 1210.2L443.7 1211.6L444.5 1205.9L445.3 1209.0L446.1 1211.4L446.9 1210.9L447.7 1209.1L448.5 1210.9L449.3 1211.2L450.1 1209.7L450.9 1208.7L451.7 1211.6L452.5 1211.0L453.3 1212.6L454.1 1213.2L454.9 1210.8L455.7 1211.5L456.5 1211.1L457.3 1209.8L458.1 1211.9L458.9 1211.3L459.0 1209.6L459.7 1208.3L460.5 1207.4L460.8 1205.2L461.3 1179.7L462.1 1143.6L462.2 1136.3L462.9 1132.0L463.6 1126.3L463.7 1126.1L464.5 1127.9L465.3 1133.9L466.1 1137.6L466.4 1136.8L466.9 1138.0L467.7 1133.3L468.5 1138.5L469.3 1134.7L470.1 1139.7L470.9 1145.3L471.7 1149.9L472.5 1156.5L473.3 1156.4L473.5 1159.8L474.1 1163.3L474.9 1167.7L475.7 1170.4L476.5 1178.2L477.3 1184.3L477.7 1184.9L478.1 1186.1L478.9 1185.9L479.7 1191.6L480.5 1187.3L481.3 1187.0L482.1 1185.2L482.9 1184.5L483.7 1190.7L484.5 1189.6L485.3 1189.7L486.1 1189.9L486.9 1190.0L487.7 1186.9L488.5 1187.8L489.3 1189.0L490.1 1189.6L490.9 1191.0L491.7 1187.8L492.5 1189.7L493.3 1191.4L494.1 1190.5L494.9 1189.1L495.7 1190.8L496.5 1190.9L497.3 1190.2L497.5 1190.1L498.1 1189.2L498.9 1188.5L499.7 1191.4L500.5 1191.6L501.3 1192.3L502.1 1193.9L502.9 1193.5L503.7 1192.8L504.5 1191.6L505.3 1191.1L506.1 1195.3L506.9 1193.5L507.7 1196.1L508.5 1197.5L509.3 1195.0L510.1 1198.0L510.2 1197.4L510.9 1196.3L511.7 1197.4L512.5 1199.3L513.3 1196.1L514.1 1200.9L514.9 1196.0L515.7 1196.9L516.5 1199.1L517.3 1197.7L518.1 1197.1L518.9 1195.5L519.7 1198.1L520.5 1196.4L521.3 1195.7L522.1 1199.1L522.9 1196.8L523.7 1194.2L524.5 1196.5L525.3 1198.6L525.7 1197.1L526.1 1194.7L526.9 1199.6L527.7 1196.6L528.5 1198.1L529.3 1195.9L530.1 1195.7L530.9 1198.2L531.7 1197.0L532.5 1196.0L533.3 1199.8L534.1 1197.3L534.9 1200.8L535.7 1201.8L536.5 1200.4L537.3 1197.8L538.1 1199.2L538.9 1198.2L539.7 1196.9L540.5 1200.1L541.3 1197.6L542.1 1199.0L542.9 1200.7L543.7 1198.3L544.5 1200.6L545.3 1199.1L546.1 1201.3L546.9 1202.3L547.7 1200.2L548.5 1202.0L549.3 1205.1L550.1 1197.9L550.9 1202.9L551.7 1201.5L552.5 1202.6L553.3 1199.0L553.9 1203.3L554.1 1202.2L554.9 1201.3L555.7 1201.8L556.5 1201.9L557.3 1201.2L558.1 1201.7L558.9 1200.8L559.7 1203.1L560.5 1202.9L561.3 1200.3L562.1 1201.9L562.9 1201.2L563.7 1203.4L564.5 1203.3L565.3 1201.1L566.1 1203.2L566.9 1201.8L567.7 1201.6L568.5 1202.6L569.3 1203.2L570.1 1199.8L570.9 1202.4L571.7 1200.5L572.5 1199.9L573.3 1200.6L574.1 1202.6L574.9 1200.6L575.7 1200.2L576.5 1203.9L577.3 1201.8L578.1 1204.1L578.9 1201.5L579.7 1206.2L580.5 1200.0L581.3 1204.4L582.1 1204.3L582.9 1205.9L583.7 1201.1L584.5 1200.8L585.3 1201.4L586.1 1200.5L586.3 1201.3" fill="none" stroke="#000" stroke-opacity="0.78" stroke-width="3.2" stroke-linejoin="round" stroke-linecap="round"/>
<path d="M359.7 1294.5L360.5 1295.4L361.3 1291.4L362.1 1293.0L362.9 1294.5L363.7 1292.9L364.5 1292.8L365.3 1293.7L366.1 1292.4L366.9 1293.5L367.7 1294.4L368.5 1293.4L369.3 1298.2L370.1 1297.0L370.9 1293.5L371.7 1294.3L372.5 1293.3L373.3 1297.8L374.1 1293.8L374.9 1293.6L375.7 1295.6L376.5 1298.1L377.3 1294.4L378.1 1296.8L378.9 1294.5L379.7 1297.1L380.5 1292.0L381.3 1292.7L382.1 1294.3L382.9 1293.2L383.7 1293.0L384.5 1296.0L385.3 1293.7L386.1 1292.1L386.9 1293.0L387.7 1296.8L388.5 1294.6L389.3 1294.6L390.1 1294.1L390.9 1293.0L391.7 1292.2L392.5 1294.7L393.3 1295.0L394.1 1294.9L394.9 1292.2L395.7 1293.1L396.5 1292.0L397.3 1294.8L398.1 1294.7L398.9 1294.3L399.7 1295.1L400.5 1292.1L401.3 1294.9L402.1 1294.5L402.9 1291.8L403.7 1295.2L404.5 1293.9L405.3 1294.2L406.1 1293.9L406.9 1294.6L407.7 1288.8L408.5 1298.0L409.3 1293.4L410.1 1292.3L410.9 1293.4L411.7 1294.2L412.5 1291.6L413.3 1296.2L414.1 1296.4L414.9 1294.0L415.7 1292.7L416.5 1293.1L417.3 1290.3L418.1 1293.5L418.9 1293.2L419.7 1294.6L420.5 1296.5L421.3 1294.3L422.1 1294.2L422.9 1293.7L423.7 1296.2L424.5 1293.2L425.3 1295.7L426.1 1295.6L426.9 1293.9L427.7 1292.7L428.5 1292.7L429.3 1291.4L430.1 1297.1L430.9 1294.7L431.7 1295.1L432.5 1295.0L433.3 1294.8L434.1 1294.9L434.9 1293.9L435.7 1294.0L436.5 1298.0L437.3 1291.4L438.1 1293.6L438.9 1293.8L439.7 1294.9L440.5 1291.1L441.3 1297.6L442.1 1291.7L442.9 1292.7L443.7 1294.7L444.5 1295.8L445.3 1295.9L446.1 1294.7L446.9 1293.9L447.7 1296.3L448.5 1295.5L449.3 1296.2L450.1 1294.2L450.9 1294.3L451.7 1293.2L452.5 1293.3L453.3 1292.8L454.1 1296.4L454.9 1295.0L455.7 1298.5L456.5 1296.3L457.3 1295.5L458.1 1296.5L458.9 1293.7L459.7 1294.5L460.0 1294.7L460.5 1294.2L461.3 1288.0L461.4 1289.5L462.1 1259.4L462.9 1224.4L463.0 1221.1L463.7 1220.9L464.5 1226.2L465.3 1224.7L466.1 1224.5L466.4 1225.9L466.9 1225.0L467.7 1220.0L468.5 1221.2L469.3 1220.2L470.1 1220.8L470.9 1220.5L471.7 1214.3L472.5 1218.2L472.6 1216.4L473.3 1224.7L474.1 1230.5L474.9 1239.2L475.7 1247.2L476.3 1251.8L476.5 1257.1L477.3 1264.6L478.1 1279.0L478.9 1285.3L479.1 1287.5L479.7 1284.5L480.5 1275.7L481.3 1262.7L482.1 1257.5L482.9 1252.0L483.7 1242.2L484.5 1228.8L484.8 1230.8L485.3 1237.1L486.1 1244.9L486.9 1255.6L487.7 1266.8L488.5 1279.2L489.3 1287.3L489.6 1290.4L490.1 1286.3L490.9 1281.9L491.7 1274.6L492.5 1266.8L493.3 1259.1L494.1 1251.3L494.6 1251.0L494.9 1252.8L495.7 1256.5L496.5 1261.6L497.3 1263.7L498.1 1274.4L498.9 1276.1L499.7 1277.1L500.5 1274.8L501.3 1270.6L502.1 1267.3L502.9 1268.3L503.1 1268.1L503.7 1263.7L504.5 1268.7L505.3 1270.0L506.1 1267.4L506.9 1267.9L507.7 1267.7L508.5 1266.6L508.7 1264.9L509.3 1269.1L510.1 1265.0L510.9 1267.4L511.7 1261.3L512.5 1264.6L513.3 1262.0L514.1 1268.0L514.9 1264.3L515.7 1264.6L516.5 1264.9L517.3 1265.3L518.1 1266.4L518.9 1260.1L519.7 1261.6L520.5 1264.7L521.3 1261.8L522.1 1265.7L522.9 1263.9L523.7 1260.5L524.5 1261.4L525.3 1263.0L525.7 1263.9L526.1 1264.3L526.9 1263.6L527.7 1266.9L528.5 1264.6L529.3 1264.3L530.1 1266.0L530.9 1265.7L531.7 1264.7L532.5 1266.5L533.3 1263.5L534.1 1264.6L534.9 1263.1L535.7 1263.2L536.5 1264.0L537.3 1264.4L538.1 1268.7L538.9 1266.4L539.7 1267.2L540.5 1267.1L541.3 1268.5L542.1 1266.2L542.9 1268.5L543.7 1265.7L544.5 1268.0L545.3 1266.7L546.1 1268.5L546.9 1268.5L547.7 1268.2L548.5 1269.8L549.3 1270.1L550.1 1269.1L550.9 1269.8L551.7 1272.1L552.5 1269.3L553.3 1268.5L553.9 1269.1L554.1 1271.6L554.9 1268.2L555.7 1266.5L556.5 1269.2L557.3 1266.8L558.1 1269.4L558.9 1270.4L559.7 1269.9L560.5 1269.5L561.3 1271.4L562.1 1269.4L562.9 1271.2L563.7 1274.1L564.5 1270.8L565.3 1269.8L566.1 1274.7L566.9 1271.1L567.7 1269.7L568.5 1271.9L569.3 1272.6L570.1 1271.8L570.9 1272.3L571.7 1272.1L572.5 1272.2L573.3 1272.4L574.1 1274.9L574.9 1273.1L575.7 1276.0L576.5 1273.6L577.3 1275.5L578.1 1275.4L578.9 1278.0L579.7 1275.8L580.5 1274.4L581.3 1278.8L582.1 1277.4L582.9 1276.5L583.7 1276.5L584.5 1278.8L585.3 1276.8L586.1 1279.4L586.3 1277.8" fill="none" stroke="#000" stroke-width="3.2" stroke-linejoin="round" stroke-linecap="round"/>
<path d="M838.7 718.4L839.5 718.7L840.3 717.0L841.1 720.6L841.9 717.5L842.7 721.4L843.5 720.0L844.3 717.8L845.1 720.5L845.9 719.1L846.7 721.3L847.5 719.5L848.3 719.8L849.1 719.9L849.9 718.7L850.7 719.6L851.5 717.0L852.3 716.8L853.1 719.4L853.9 720.4L854.7 714.1L855.5 717.0L856.3 716.4L857.1 717.5L857.9 715.1L858.7 719.8L859.5 716.8L860.3 719.3L861.1 718.7L861.9 717.7L862.7 719.2L863.5 721.7L864.3 720.0L865.1 717.6L865.9 719.0L866.7 718.8L867.5 719.2L868.3 718.3L869.1 718.5L869.9 718.5L870.7 718.9L871.5 717.4L872.3 717.7L873.1 714.2L873.9 719.9L874.7 714.3L875.5 717.4L876.3 719.8L877.1 720.8L877.9 716.0L878.7 718.4L879.5 719.8L880.3 719.7L881.1 718.2L881.9 715.3L882.7 718.4L883.5 718.3L884.3 719.4L885.1 719.5L885.9 719.1L886.7 720.6L887.5 716.0L888.3 720.9L889.1 715.0L889.9 718.3L890.7 716.3L891.5 716.5L892.3 718.3L893.1 719.7L893.9 718.5L894.7 720.5L895.5 720.4L896.3 724.2L897.1 719.0L897.9 718.5L898.7 715.6L899.5 718.8L900.3 719.4L901.1 718.1L901.9 718.0L902.7 718.7L903.5 716.7L904.3 717.3L905.1 721.3L905.9 718.2L906.7 720.4L907.5 719.8L908.3 721.2L909.1 721.3L909.9 718.0L910.7 719.9L911.5 722.0L912.3 720.0L913.1 721.3L913.9 717.6L914.7 721.6L915.5 718.7L916.3 719.3L917.1 719.7L917.9 721.0L918.7 718.5L919.5 714.5L920.3 718.5L921.1 718.2L921.9 717.2L922.7 721.6L923.5 717.5L924.3 721.3L925.1 718.3L925.9 717.5L926.7 720.4L927.5 721.2L928.3 716.9L929.1 722.2L929.9 718.9L930.7 718.9L931.5 718.2L932.3 717.5L933.0 718.6L933.1 714.7L933.9 715.9L934.0 716.8L934.7 695.8L935.2 684.0L935.5 678.3L936.3 665.7L936.4 664.1L937.1 672.8L937.9 675.9L938.7 682.0L939.0 684.0L939.5 680.8L940.3 673.3L941.1 666.9L941.5 663.8L941.9 665.8L942.7 675.7L943.5 682.7L944.0 686.3L944.3 681.9L945.1 679.6L945.9 678.4L946.7 675.8L947.4 673.4L947.5 673.8L948.3 681.7L949.1 684.3L949.9 691.1L950.4 693.8L950.7 693.1L951.5 688.2L952.3 684.8L953.0 681.2L953.1 682.5L953.9 682.0L954.7 684.2L955.5 688.5L956.3 686.9L956.8 691.0L957.1 692.5L957.9 690.8L958.7 690.9L959.5 686.7L960.3 688.6L960.6 688.9L961.1 693.7L961.9 691.9L962.7 694.1L963.5 697.7L964.3 701.4L964.4 701.4L965.1 700.5L965.9 696.4L966.7 697.5L967.5 693.9L968.2 695.0L968.3 693.5L969.1 697.4L969.9 699.1L970.7 700.3L971.5 704.3L972.0 706.5L972.3 707.6L973.1 705.5L973.9 706.8L974.7 703.5L975.5 702.4L975.8 700.0L976.3 696.7L977.1 700.1L977.9 701.6L978.7 704.6L979.5 706.6L980.3 709.4L980.9 709.2L981.1 708.1L981.9 710.1L982.7 709.3L983.5 708.0L984.3 712.2L985.1 712.9L985.9 710.7L986.0 711.8L986.7 707.5L987.5 711.4L988.3 707.9L989.1 703.9L989.9 704.5L990.7 699.8L991.0 700.1L991.5 700.1L992.3 703.9L993.1 704.7L993.9 715.0L994.7 715.8L994.8 715.4L995.5 713.5L996.3 711.0L997.1 706.5L997.9 704.8L998.7 701.8L999.5 699.3L1000.3 699.2L1001.1 694.3L1001.2 693.9L1001.9 700.9L1002.7 709.1L1003.5 715.6L1003.7 716.7L1004.3 711.2L1005.1 709.4L1005.9 705.3L1006.7 703.7L1007.5 698.8L1008.3 700.4L1009.1 707.4L1009.9 711.2L1010.7 714.2L1011.3 717.2L1011.5 715.8L1012.3 719.5L1013.1 714.6L1013.9 717.3L1014.7 719.5L1015.5 718.3L1016.3 717.5L1017.1 716.9L1017.9 716.6L1018.7 716.8L1019.5 715.9L1020.3 717.3L1021.1 717.2L1021.9 719.3L1022.7 717.5L1023.5 718.9L1024.3 720.2L1025.1 715.9L1025.9 717.9L1026.7 717.0L1027.5 716.9L1028.3 716.9L1029.1 712.7L1029.9 716.5L1030.7 718.7L1031.5 719.6L1032.3 716.8L1033.1 718.9L1033.9 719.3L1034.7 717.4L1035.5 716.1L1036.3 717.2L1037.1 717.9L1037.9 718.1L1038.7 716.7L1039.5 716.4L1040.3 716.7L1041.1 716.3L1041.9 717.1L1042.7 716.5L1043.5 718.4L1044.3 717.7L1045.1 717.0L1045.9 718.3L1046.7 717.2L1047.5 719.7L1048.3 717.5L1049.1 720.7L1049.9 720.5L1050.7 718.2L1051.5 719.7L1052.3 718.9L1053.1 717.0L1053.9 719.2L1054.7 719.2L1055.5 720.0L1056.3 719.1L1057.1 718.9L1057.9 718.8L1058.7 719.5L1059.5 719.4L1060.3 717.7L1061.1 716.5L1061.9 717.3L1062.6 719.1" fill="none" stroke="#000" stroke-width="3.2" stroke-linejoin="round" stroke-linecap="round"/>
<path d="M838.7 787.6L839.5 787.8L840.3 788.9L841.1 789.7L841.9 787.3L842.7 791.9L843.5 785.7L844.3 786.9L845.1 786.2L845.9 786.0L846.7 788.8L847.5 788.8L848.3 786.5L849.1 788.0L849.9 786.9L850.7 783.7L851.5 785.4L852.3 788.5L853.1 786.3L853.9 787.6L854.7 791.7L855.5 788.8L856.3 786.3L857.1 792.3L857.9 784.4L858.7 787.9L859.5 783.0L860.3 788.1L861.1 785.8L861.9 787.4L862.7 788.8L863.5 789.5L864.3 789.9L865.1 786.9L865.9 788.2L866.7 786.3L867.5 789.3L868.3 786.9L869.1 786.7L869.9 786.6L870.7 786.3L871.5 784.8L872.3 784.6L873.1 787.9L873.9 788.5L874.7 785.9L875.5 784.9L876.3 784.3L877.1 787.0L877.9 788.5L878.7 787.7L879.5 786.7L880.3 787.3L881.1 789.7L881.9 785.7L882.7 789.5L883.5 789.2L884.3 789.1L885.1 789.0L885.9 789.6L886.7 786.9L887.5 788.5L888.3 786.0L889.1 782.5L889.9 789.2L890.7 788.4L891.5 789.8L892.3 786.6L893.1 788.1L893.9 787.2L894.7 785.6L895.5 786.7L896.3 787.5L897.1 787.6L897.9 788.9L898.7 786.9L899.5 785.7L900.3 787.0L901.1 788.9L901.9 784.1L902.7 787.2L903.5 784.7L904.3 789.0L905.1 786.0L905.9 786.5L906.7 790.4L907.5 789.5L908.3 788.9L909.1 789.5L909.9 786.9L910.7 784.2L911.5 784.4L912.3 789.6L913.1 788.7L913.9 785.4L914.7 784.8L915.5 783.0L916.3 785.1L917.1 787.7L917.9 789.4L918.7 783.0L919.5 785.8L920.3 788.2L921.1 783.1L921.9 787.7L922.7 786.8L923.5 785.4L924.3 788.1L925.1 786.0L925.9 787.3L926.7 788.3L927.0 787.3L927.5 786.2L928.3 783.4L928.8 785.1L929.1 780.7L929.9 780.2L930.7 778.2L931.4 775.4L931.5 774.8L932.3 769.5L933.1 765.5L933.9 758.7L934.0 760.1L934.7 759.8L935.5 756.2L936.3 749.7L936.4 752.3L937.1 755.5L937.9 764.6L938.7 769.0L939.0 770.1L939.5 769.7L940.3 760.0L941.1 751.1L941.5 747.0L941.9 751.3L942.7 760.7L943.5 763.5L944.0 767.4L944.3 767.6L945.1 763.4L945.9 759.7L946.7 755.8L947.4 749.4L947.5 751.8L948.3 755.9L949.1 762.8L949.9 769.5L950.4 772.5L950.7 770.3L951.5 761.9L952.3 756.3L953.0 752.2L953.1 752.7L953.9 760.4L954.7 770.1L955.5 773.3L956.0 780.3L956.3 779.5L957.1 770.8L957.9 762.9L958.7 760.1L959.3 754.4L959.5 755.2L960.3 759.5L961.1 765.5L961.9 767.3L962.7 775.0L963.1 772.4L963.5 770.8L964.3 769.5L965.1 763.6L965.9 758.2L966.7 753.8L967.0 754.7L967.5 756.1L968.3 762.1L969.1 767.1L969.9 765.3L970.7 772.4L971.5 767.1L972.3 767.2L973.1 762.2L973.9 758.4L974.5 758.9L974.7 758.8L975.5 757.6L976.3 766.0L977.1 768.4L977.9 768.5L978.3 775.4L978.7 771.0L979.5 769.3L980.3 772.3L981.1 765.6L981.9 763.6L982.1 761.9L982.7 765.7L983.5 766.5L984.3 770.4L985.1 772.1L985.9 779.8L986.0 777.6L986.7 774.9L987.5 774.2L988.3 770.6L989.1 769.5L989.8 767.3L989.9 766.8L990.7 769.5L991.5 774.5L992.3 774.9L993.1 777.9L993.6 780.5L993.9 779.1L994.7 778.0L995.5 772.4L996.3 771.9L997.1 768.3L997.4 766.7L997.9 766.1L998.7 773.5L999.5 774.2L1000.3 776.6L1001.1 779.0L1001.2 779.9L1001.9 778.8L1002.7 772.8L1003.5 771.5L1004.3 768.3L1005.0 768.4L1005.1 766.4L1005.9 770.3L1006.7 769.9L1007.5 773.4L1008.3 776.1L1008.8 778.3L1009.1 777.7L1009.9 775.7L1010.7 772.6L1011.5 771.0L1012.3 768.6L1012.6 768.4L1013.1 772.7L1013.9 772.6L1014.7 772.9L1015.5 773.6L1016.3 774.6L1016.4 777.0L1017.1 781.5L1017.9 778.8L1018.7 776.4L1019.5 781.7L1020.0 779.4L1020.3 782.1L1021.1 780.4L1021.9 781.4L1022.7 783.7L1023.5 786.2L1024.0 783.8L1024.3 783.4L1025.1 784.5L1025.9 786.2L1026.7 786.2L1027.5 784.6L1028.3 785.0L1029.1 787.9L1029.9 789.0L1030.7 787.9L1031.5 786.4L1032.3 788.3L1033.1 789.1L1033.9 785.5L1034.7 786.0L1035.5 786.4L1036.3 790.4L1037.1 786.0L1037.9 782.5L1038.7 785.1L1039.5 785.8L1040.3 788.2L1041.1 791.0L1041.9 788.1L1042.7 784.9L1043.5 785.5L1044.3 784.0L1045.1 786.2L1045.9 787.5L1046.7 785.2L1047.5 788.2L1048.3 785.8L1049.1 789.0L1049.9 788.6L1050.7 785.3L1051.5 786.3L1052.3 785.4L1053.1 786.1L1053.9 788.8L1054.7 789.5L1055.5 782.6L1056.3 789.2L1057.1 788.6L1057.9 784.8L1058.7 785.6L1059.5 788.8L1060.3 785.7L1061.1 784.6L1061.9 787.2L1062.6 788.5" fill="none" stroke="#000" stroke-width="3.2" stroke-linejoin="round" stroke-linecap="round"/>
<path d="M838.7 874.0L839.5 875.3L840.3 877.4L841.1 873.6L841.9 873.0L842.7 873.4L843.5 876.4L844.3 875.5L845.1 873.3L845.9 870.8L846.7 873.6L847.5 874.5L848.3 874.7L849.1 876.4L849.9 877.0L850.7 876.5L851.5 871.6L852.3 875.6L853.1 874.5L853.9 873.9L854.7 874.5L855.5 875.6L856.3 873.8L857.1 873.6L857.9 873.5L858.7 874.6L859.5 875.3L860.3 875.5L861.1 874.1L861.9 874.1L862.7 874.6L863.5 874.7L864.3 872.8L865.1 873.8L865.9 873.7L866.7 872.6L867.5 874.2L868.3 873.2L869.1 874.3L869.9 875.2L870.7 870.7L871.5 875.6L872.3 872.5L873.1 873.5L873.9 873.0L874.7 877.3L875.5 872.7L876.3 873.3L877.1 870.5L877.9 872.0L878.7 873.7L879.5 873.0L880.3 875.3L881.1 876.2L881.9 874.0L882.7 874.6L883.5 876.3L884.3 875.4L885.1 874.0L885.9 872.3L886.7 875.5L887.5 875.5L888.3 872.6L889.1 871.1L889.9 877.8L890.7 874.4L891.5 874.7L892.3 875.3L893.1 872.9L893.9 872.4L894.7 872.5L895.5 873.6L896.3 873.7L897.1 875.7L897.9 874.4L898.7 874.7L899.5 875.3L900.3 872.9L901.1 873.1L901.9 872.6L902.7 874.3L903.5 877.5L904.3 873.7L905.1 872.4L905.9 874.7L906.7 875.0L907.5 874.8L908.3 876.3L909.1 872.2L909.9 872.4L910.7 874.4L911.5 875.6L912.3 873.5L913.1 876.4L913.9 870.9L914.7 873.0L915.5 869.6L916.3 873.5L917.1 874.3L917.9 873.8L918.7 875.5L919.5 872.2L920.3 875.0L921.1 876.0L921.9 874.1L922.7 871.9L923.5 874.6L924.3 873.9L925.1 874.9L925.9 876.3L926.7 874.3L927.5 873.2L928.3 875.6L929.1 871.8L929.9 872.6L930.7 874.2L931.0 873.9L931.5 872.7L932.3 875.5L932.6 872.8L933.1 870.2L933.9 869.7L934.7 873.4L935.2 868.8L935.5 868.6L936.3 862.6L937.1 861.1L937.7 854.1L937.9 853.4L938.7 844.7L939.5 837.3L940.2 833.6L940.3 834.6L941.1 829.7L941.9 827.2L942.7 821.0L942.8 820.9L943.5 826.2L944.3 824.7L945.1 831.8L945.3 828.6L945.9 827.4L946.7 825.3L947.5 824.0L947.9 819.1L948.3 819.8L949.1 826.4L949.9 827.5L950.4 830.9L950.7 831.8L951.5 829.2L952.3 826.4L953.1 826.3L953.9 824.2L954.2 823.1L954.7 827.2L955.5 827.7L956.3 833.4L957.1 833.5L957.9 839.9L958.0 838.7L958.7 836.7L959.5 837.3L960.3 834.1L961.1 837.6L961.8 835.4L961.9 834.3L962.7 842.4L963.5 850.4L964.3 861.6L964.4 861.7L965.1 860.5L965.9 862.5L966.7 862.8L967.5 859.2L968.2 863.9L968.3 863.8L969.1 861.3L969.9 857.7L970.7 863.2L971.5 860.1L972.3 857.9L973.1 856.0L973.3 857.4L973.9 858.5L974.7 858.3L975.5 860.9L976.3 862.8L977.1 865.7L977.9 867.0L978.3 866.3L978.7 869.9L979.5 865.9L980.3 866.1L981.1 869.5L981.9 870.7L982.7 868.9L983.5 867.6L984.3 868.5L985.1 866.1L985.9 867.2L986.7 865.4L987.5 865.3L988.3 867.0L988.5 866.6L989.1 865.4L989.9 863.2L990.7 864.9L991.5 866.5L992.3 864.3L993.1 865.8L993.6 862.2L993.9 861.7L994.7 864.7L995.5 863.9L996.3 867.2L997.1 868.8L997.4 869.0L997.9 867.5L998.7 866.7L999.5 865.3L1000.3 864.9L1001.1 861.7L1001.9 864.6L1002.7 859.8L1003.5 858.3L1003.7 859.1L1004.3 858.3L1005.1 857.8L1005.9 863.2L1006.7 862.3L1007.5 868.9L1008.3 870.8L1009.1 865.0L1009.9 871.9L1010.7 869.5L1011.5 869.0L1012.3 870.4L1013.1 871.0L1013.9 869.5L1014.7 867.6L1015.5 871.7L1016.3 871.7L1017.1 871.0L1017.9 867.4L1018.7 872.5L1019.5 871.0L1020.3 871.9L1021.1 872.9L1021.9 869.1L1022.7 869.0L1023.5 872.1L1024.3 873.7L1025.1 871.1L1025.9 870.6L1026.7 869.9L1027.5 872.1L1028.3 870.3L1029.1 872.6L1029.9 872.8L1030.7 869.8L1031.5 869.1L1032.3 870.9L1033.1 871.5L1033.9 874.0L1034.7 872.3L1035.5 873.2L1036.3 874.6L1037.1 872.1L1037.9 874.4L1038.7 873.9L1039.5 871.7L1040.3 874.4L1041.1 872.3L1041.9 874.4L1042.7 872.7L1043.5 872.0L1044.3 870.9L1045.1 874.7L1045.9 873.0L1046.7 872.3L1047.5 872.3L1048.3 872.4L1049.1 873.6L1049.9 872.3L1050.7 872.5L1051.5 869.6L1052.3 874.6L1053.1 873.9L1053.9 874.7L1054.7 875.8L1055.5 872.3L1056.3 874.4L1057.1 873.5L1057.9 871.6L1058.7 872.3L1059.5 871.1L1060.3 874.0L1061.1 870.7L1061.9 875.2L1062.6 874.1" fill="none" stroke="#000" stroke-width="3.2" stroke-linejoin="round" stroke-linecap="round"/>
<path d="M838.7 960.9L839.5 959.2L840.3 960.3L841.1 962.1L841.9 963.3L842.7 959.3L843.5 961.0L844.3 964.6L845.1 959.9L845.9 960.1L846.7 958.6L847.5 960.6L848.3 958.2L849.1 961.9L849.9 958.8L850.7 960.2L851.5 959.6L852.3 960.2L853.1 958.5L853.9 959.2L854.7 961.9L855.5 959.8L856.3 960.0L857.1 960.3L857.9 963.9L858.7 958.4L859.5 961.1L860.3 960.1L861.1 961.9L861.9 964.8L862.7 959.5L863.5 961.8L864.3 962.6L865.1 961.7L865.9 958.8L866.7 962.9L867.5 962.7L868.3 959.9L869.1 963.0L869.9 965.0L870.7 959.1L871.5 961.4L872.3 961.7L873.1 962.4L873.9 961.3L874.7 961.8L875.5 959.2L876.3 962.7L877.1 961.6L877.9 961.5L878.7 959.7L879.5 962.6L880.3 963.5L881.1 960.9L881.9 963.5L882.7 961.1L883.5 956.2L884.3 960.7L885.1 962.5L885.9 962.5L886.7 967.0L887.5 959.7L888.3 963.0L889.1 963.0L889.9 958.8L890.7 959.8L891.5 962.0L892.3 961.2L893.1 959.6L893.9 965.4L894.7 960.7L895.5 961.4L896.3 963.1L897.1 962.1L897.9 960.7L898.7 960.1L899.5 960.1L900.3 960.9L901.1 962.5L901.9 959.8L902.7 957.8L903.5 961.0L904.3 960.6L905.1 959.0L905.9 962.7L906.7 960.2L907.5 961.6L908.3 961.4L909.1 960.8L909.9 962.8L910.7 960.7L911.5 958.3L912.3 963.7L913.1 962.2L913.9 963.5L914.7 962.3L915.5 958.7L916.3 961.0L917.1 962.6L917.9 960.2L918.7 963.0L919.5 957.2L920.3 962.4L921.1 963.1L921.9 958.0L922.7 959.0L923.5 958.9L924.3 961.1L925.1 958.5L925.9 958.1L926.7 964.2L927.5 961.4L928.3 961.2L929.1 960.5L929.9 960.5L930.7 957.8L931.5 960.5L932.3 962.3L933.1 961.5L933.9 956.0L934.0 960.9L934.7 957.5L935.5 959.9L936.3 959.3L936.4 958.2L937.1 954.3L937.9 946.0L938.7 943.2L939.0 940.8L939.5 938.6L940.3 928.2L941.1 923.5L941.5 915.8L941.9 912.5L942.7 914.7L943.5 916.5L944.3 912.6L945.1 908.5L945.3 911.4L945.9 910.1L946.7 913.1L947.5 916.4L948.3 922.0L949.1 921.0L949.9 922.7L950.7 916.4L951.5 918.3L952.3 915.3L953.0 914.8L953.1 916.6L953.9 918.6L954.7 919.1L955.5 921.6L956.3 925.8L956.8 926.1L957.1 924.7L957.9 928.7L958.7 917.9L959.5 919.7L960.3 914.3L960.6 912.9L961.1 917.4L961.9 925.6L962.7 932.4L963.1 933.8L963.5 930.5L964.3 928.3L965.1 928.2L965.9 928.3L966.7 923.1L967.0 920.5L967.5 924.3L968.3 932.2L969.1 944.5L969.4 946.1L969.9 942.0L970.7 935.3L971.5 923.6L972.0 919.6L972.3 925.0L973.1 934.0L973.9 942.4L974.5 947.5L974.7 947.5L975.5 939.0L976.3 929.3L977.0 923.2L977.1 924.8L977.9 931.3L978.7 933.4L979.5 943.4L980.3 946.5L980.4 949.0L981.1 945.8L981.9 933.6L982.7 933.3L983.4 926.8L983.5 928.2L984.3 936.8L985.1 943.2L985.9 945.8L986.7 953.0L987.5 943.8L988.3 934.7L989.1 933.7L989.8 929.0L989.9 928.3L990.7 931.4L991.5 940.5L992.3 943.3L993.1 948.6L993.6 951.2L993.9 949.1L994.7 944.5L995.5 943.1L996.3 938.8L997.1 934.6L997.4 932.1L997.9 937.0L998.7 939.5L999.5 942.1L1000.3 948.3L1000.7 948.4L1001.1 948.6L1001.9 941.9L1002.7 940.2L1003.5 936.1L1003.7 933.6L1004.3 936.5L1005.1 936.5L1005.9 939.4L1006.7 945.5L1007.5 947.0L1008.3 942.6L1009.1 942.8L1009.9 939.4L1010.7 940.0L1011.5 939.7L1012.3 939.5L1012.6 936.3L1013.1 938.3L1013.9 941.3L1014.7 943.4L1015.5 946.9L1016.3 943.5L1016.4 945.9L1017.1 946.2L1017.9 948.1L1018.7 947.9L1019.5 951.0L1020.3 952.1L1021.1 954.1L1021.5 953.7L1021.9 948.4L1022.7 952.4L1023.5 957.1L1024.3 959.6L1025.1 957.5L1025.9 957.7L1026.7 955.7L1027.5 958.3L1028.3 959.5L1029.1 959.0L1029.9 961.5L1030.7 956.0L1031.5 960.9L1032.3 958.2L1033.1 958.7L1033.9 959.5L1034.7 958.8L1035.5 957.6L1036.3 959.9L1037.1 960.7L1037.9 959.4L1038.7 959.4L1039.5 961.8L1040.3 957.6L1041.1 959.9L1041.9 962.3L1042.7 959.3L1043.5 957.4L1044.3 959.4L1045.1 959.1L1045.9 961.3L1046.7 959.7L1047.5 960.0L1048.3 961.5L1049.1 959.3L1049.9 959.9L1050.7 961.7L1051.5 958.3L1052.3 958.6L1053.1 959.2L1053.9 960.8L1054.7 960.6L1055.5 961.2L1056.3 960.4L1057.1 959.3L1057.9 960.3L1058.7 958.7L1059.5 962.6L1060.3 960.5L1061.1 961.6L1061.9 958.4L1062.6 960.7" fill="none" stroke="#000" stroke-width="3.2" stroke-linejoin="round" stroke-linecap="round"/>
<path d="M838.7 1042.3L839.5 1041.9L840.3 1042.4L841.1 1043.9L841.9 1038.6L842.7 1043.2L843.5 1044.4L844.3 1043.4L845.1 1041.8L845.9 1042.7L846.7 1040.5L847.5 1040.7L848.3 1042.0L849.1 1044.5L849.9 1043.3L850.7 1042.0L851.5 1046.9L852.3 1041.2L853.1 1040.5L853.9 1043.3L854.7 1041.1L855.5 1041.8L856.3 1042.9L857.1 1043.9L857.9 1039.5L858.7 1041.8L859.5 1043.2L860.3 1041.1L861.1 1041.0L861.9 1042.6L862.7 1040.3L863.5 1043.4L864.3 1042.2L865.1 1044.7L865.9 1041.9L866.7 1042.1L867.5 1042.8L868.3 1042.6L869.1 1042.7L869.9 1041.2L870.7 1041.6L871.5 1043.7L872.3 1044.0L873.1 1042.2L873.9 1044.8L874.7 1043.7L875.5 1040.9L876.3 1040.9L877.1 1042.7L877.9 1045.1L878.7 1042.1L879.5 1041.3L880.3 1044.7L881.1 1043.8L881.9 1040.7L882.7 1041.3L883.5 1042.1L884.3 1043.5L885.1 1043.4L885.9 1043.5L886.7 1045.1L887.5 1043.5L888.3 1044.3L889.1 1042.3L889.9 1042.7L890.7 1041.9L891.5 1044.0L892.3 1043.8L893.1 1041.5L893.9 1042.4L894.7 1039.5L895.5 1039.9L896.3 1042.2L897.1 1041.3L897.9 1041.9L898.7 1042.1L899.5 1042.2L900.3 1042.7L901.1 1039.2L901.9 1040.3L902.7 1041.4L903.5 1042.2L904.3 1043.4L905.1 1042.7L905.9 1044.2L906.7 1039.8L907.5 1040.3L908.3 1042.8L909.1 1041.4L909.9 1041.1L910.7 1040.9L911.5 1042.5L912.3 1040.2L913.1 1041.3L913.9 1042.7L914.7 1043.4L915.5 1043.2L916.3 1043.9L917.1 1040.8L917.9 1042.9L918.7 1042.4L919.5 1041.4L920.3 1041.2L921.1 1042.8L921.9 1041.4L922.7 1038.1L923.5 1042.2L924.3 1040.4L925.1 1041.1L925.9 1039.5L926.7 1041.8L927.5 1040.9L928.3 1040.0L929.1 1039.6L929.9 1040.9L930.7 1044.3L931.5 1044.0L932.3 1039.4L933.0 1042.2L933.1 1042.7L933.9 1040.2L934.7 1038.9L935.2 1040.1L935.5 1038.1L936.3 1036.8L937.1 1029.4L937.7 1027.5L937.9 1024.5L938.7 1019.6L939.5 1013.8L940.3 1005.8L941.1 1000.5L941.5 997.8L941.9 1002.7L942.7 1005.3L943.5 1012.7L944.0 1019.7L944.3 1018.0L945.1 1012.1L945.9 1005.2L946.7 1000.6L947.5 990.0L947.9 990.6L948.3 994.1L949.1 1002.0L949.9 1005.2L950.7 1016.9L951.5 1020.1L951.7 1022.5L952.3 1016.2L953.1 1010.2L953.9 1007.9L954.7 1001.0L955.0 997.2L955.5 1000.0L956.3 1007.3L957.1 1015.6L957.9 1022.5L958.5 1027.7L958.7 1025.9L959.5 1018.4L960.3 1014.8L961.1 1005.7L961.8 1000.9L961.9 1000.2L962.7 1008.0L963.5 1011.9L964.3 1023.7L965.1 1029.8L965.9 1023.0L966.7 1015.3L967.5 1011.0L968.2 1001.8L968.3 1001.1L969.1 1012.2L969.9 1016.8L970.7 1026.0L971.5 1032.4L972.3 1026.7L973.1 1020.9L973.9 1017.8L974.5 1010.1L974.7 1012.5L975.5 1016.6L976.3 1026.2L977.1 1031.4L977.6 1035.3L977.9 1033.3L978.7 1028.4L979.5 1020.2L980.3 1015.8L980.4 1012.5L981.1 1015.9L981.9 1021.6L982.7 1032.3L983.4 1036.0L983.5 1034.9L984.3 1032.0L985.1 1027.5L985.9 1020.5L986.7 1014.6L987.5 1020.4L988.3 1021.4L989.1 1030.3L989.8 1032.5L989.9 1033.4L990.7 1027.6L991.5 1023.6L992.3 1023.2L993.1 1015.3L993.6 1012.6L993.9 1014.0L994.7 1019.8L995.5 1023.9L996.3 1029.0L996.6 1029.5L997.1 1029.6L997.9 1024.6L998.7 1019.7L999.5 1017.0L999.9 1010.8L1000.3 1015.7L1001.1 1019.0L1001.9 1025.4L1002.7 1028.4L1003.2 1031.0L1003.5 1029.6L1004.3 1025.6L1005.1 1019.0L1005.9 1015.2L1006.3 1013.5L1006.7 1017.4L1007.5 1019.7L1008.3 1030.4L1009.1 1029.5L1009.9 1034.4L1010.0 1035.3L1010.7 1038.7L1011.5 1036.8L1012.3 1038.7L1013.1 1038.7L1013.9 1038.0L1014.7 1037.6L1015.5 1039.4L1016.3 1038.2L1017.1 1036.1L1017.9 1039.2L1018.7 1041.3L1019.0 1040.1L1019.5 1036.5L1020.3 1040.5L1021.1 1040.3L1021.9 1036.7L1022.7 1038.6L1023.5 1041.8L1024.3 1039.0L1025.1 1037.9L1025.9 1038.8L1026.7 1041.8L1027.5 1039.3L1028.3 1040.8L1029.1 1038.9L1029.9 1039.9L1030.7 1039.5L1031.5 1039.6L1032.3 1039.5L1033.1 1043.2L1033.9 1039.1L1034.7 1041.5L1035.5 1038.1L1036.3 1045.0L1037.1 1042.8L1037.9 1040.7L1038.7 1035.0L1039.5 1043.3L1040.3 1042.4L1041.1 1038.5L1041.9 1039.0L1042.7 1043.0L1043.5 1037.6L1044.3 1039.9L1045.1 1042.2L1045.9 1039.5L1046.7 1040.4L1047.5 1040.4L1048.3 1040.5L1049.1 1042.2L1049.9 1039.8L1050.7 1042.1L1051.5 1043.3L1052.3 1040.5L1053.1 1044.1L1053.9 1042.2L1054.7 1042.2L1055.5 1037.4L1056.3 1041.0L1057.1 1042.0L1057.9 1041.1L1058.7 1039.2L1059.5 1043.2L1060.3 1040.5L1061.1 1042.2L1061.9 1040.8L1062.6 1041.4" fill="none" stroke="#000" stroke-width="3.2" stroke-linejoin="round" stroke-linecap="round"/>
<path d="M838.7 1134.4L839.5 1136.1L840.3 1132.7L841.1 1132.2L841.9 1133.6L842.7 1133.9L843.5 1132.4L844.3 1136.1L845.1 1137.6L845.9 1134.5L846.7 1135.0L847.5 1136.1L848.3 1134.3L849.1 1134.6L849.9 1134.0L850.7 1134.1L851.5 1135.3L852.3 1131.3L853.1 1134.9L853.9 1130.9L854.7 1131.2L855.5 1131.8L856.3 1135.8L857.1 1134.5L857.9 1134.1L858.7 1133.1L859.5 1135.8L860.3 1133.7L861.1 1131.8L861.9 1134.5L862.7 1135.4L863.5 1136.8L864.3 1133.7L865.1 1129.9L865.9 1134.7L866.7 1132.7L867.5 1134.9L868.3 1136.6L869.1 1133.2L869.9 1134.1L870.7 1132.4L871.5 1134.3L872.3 1136.7L873.1 1135.1L873.9 1137.0L874.7 1133.6L875.5 1135.7L876.3 1135.5L877.1 1135.8L877.9 1138.8L878.7 1133.5L879.5 1136.6L880.3 1136.7L881.1 1132.1L881.9 1135.9L882.7 1133.8L883.5 1137.9L884.3 1135.2L885.1 1133.3L885.9 1134.5L886.7 1135.6L887.5 1136.4L888.3 1134.4L889.1 1134.6L889.9 1135.3L890.7 1134.2L891.5 1134.5L892.3 1131.9L893.1 1130.5L893.9 1134.7L894.7 1132.2L895.5 1135.8L896.3 1133.0L897.1 1136.0L897.9 1133.1L898.7 1132.9L899.5 1136.6L900.3 1135.4L901.1 1131.9L901.9 1134.4L902.7 1133.8L903.5 1135.0L904.3 1134.1L905.1 1136.3L905.9 1133.4L906.7 1135.3L907.5 1137.6L908.3 1136.1L909.1 1134.3L909.9 1134.1L910.7 1134.8L911.5 1133.2L912.3 1133.1L913.1 1130.8L913.9 1132.2L914.7 1136.4L915.5 1134.3L916.3 1134.5L917.1 1134.3L917.9 1134.7L918.7 1135.3L919.5 1134.2L920.3 1136.0L921.1 1135.6L921.9 1134.7L922.7 1132.1L923.5 1131.7L924.3 1135.6L925.1 1133.5L925.9 1135.7L926.7 1133.8L927.5 1134.9L928.3 1135.9L929.1 1137.4L929.9 1133.2L930.7 1135.7L931.5 1133.4L932.3 1134.6L933.1 1135.2L933.9 1136.7L934.0 1134.3L934.7 1130.9L935.5 1133.4L936.3 1135.3L936.4 1131.9L937.1 1131.2L937.9 1129.3L938.7 1126.5L939.0 1123.9L939.5 1119.6L940.3 1113.4L941.1 1106.1L941.5 1103.6L941.9 1104.6L942.7 1095.9L943.5 1091.8L944.3 1088.2L945.1 1083.3L945.3 1083.1L945.9 1079.8L946.7 1080.4L947.5 1071.2L947.9 1074.8L948.3 1076.7L949.1 1083.7L949.9 1087.1L950.4 1091.6L950.7 1088.7L951.5 1085.2L952.3 1078.5L953.0 1076.1L953.1 1077.6L953.9 1082.2L954.7 1086.4L955.5 1089.7L956.0 1093.6L956.3 1092.2L957.1 1089.0L957.9 1088.2L958.7 1081.2L959.3 1082.4L959.5 1084.0L960.3 1085.9L961.1 1095.3L961.8 1103.4L961.9 1102.4L962.7 1100.0L963.5 1096.1L964.3 1090.6L964.4 1090.0L965.1 1095.7L965.9 1105.6L966.7 1113.1L967.5 1123.6L967.7 1124.4L968.3 1121.8L969.1 1113.4L969.9 1106.8L970.7 1104.0L971.5 1109.7L972.3 1114.8L973.1 1117.8L973.9 1120.0L974.0 1121.5L974.7 1118.3L975.5 1116.3L976.3 1111.3L977.0 1107.4L977.1 1107.7L977.9 1110.3L978.7 1115.9L979.5 1119.7L980.3 1124.6L980.4 1123.6L981.1 1121.9L981.9 1121.6L982.7 1115.8L983.5 1114.9L984.3 1110.4L984.7 1110.2L985.1 1112.0L985.9 1118.3L986.7 1118.2L987.5 1120.5L988.3 1124.4L988.5 1125.3L989.1 1124.0L989.9 1118.8L990.7 1114.4L991.5 1108.8L992.3 1104.2L993.1 1110.1L993.9 1117.2L994.7 1120.8L995.5 1128.6L995.6 1126.7L996.3 1120.5L997.1 1113.2L997.9 1106.1L998.6 1101.2L998.7 1103.1L999.5 1108.8L1000.3 1115.6L1001.1 1120.3L1001.7 1126.4L1001.9 1126.3L1002.7 1122.2L1003.5 1112.8L1004.3 1107.0L1005.0 1102.3L1005.1 1104.1L1005.9 1110.8L1006.7 1121.1L1007.5 1126.7L1008.3 1123.7L1009.1 1111.7L1009.9 1107.8L1010.0 1110.2L1010.7 1115.2L1011.5 1121.1L1012.3 1121.1L1013.1 1123.6L1013.9 1129.0L1014.7 1128.1L1015.5 1130.4L1016.3 1127.2L1017.1 1129.7L1017.9 1131.9L1018.7 1131.5L1019.5 1131.7L1020.3 1125.8L1021.1 1132.3L1021.9 1132.7L1022.7 1131.5L1023.5 1131.5L1024.3 1134.8L1025.1 1133.3L1025.9 1132.1L1026.6 1133.9L1026.7 1134.5L1027.5 1134.6L1028.3 1136.1L1029.1 1134.4L1029.9 1135.4L1030.7 1133.0L1031.5 1134.2L1032.3 1134.3L1033.1 1132.5L1033.9 1134.2L1034.7 1133.1L1035.5 1131.3L1036.3 1135.3L1037.1 1135.0L1037.9 1130.0L1038.7 1131.5L1039.5 1134.1L1040.3 1132.6L1041.1 1131.5L1041.9 1133.0L1042.7 1130.6L1043.5 1136.5L1044.3 1135.9L1045.1 1133.3L1045.9 1133.3L1046.7 1133.7L1047.5 1133.0L1048.3 1133.5L1049.1 1133.5L1049.9 1131.1L1050.7 1134.6L1051.5 1131.3L1052.3 1132.4L1053.1 1132.6L1053.9 1137.7L1054.7 1133.7L1055.5 1135.3L1056.3 1132.5L1057.1 1133.7L1057.9 1134.2L1058.7 1134.5L1059.5 1133.3L1060.3 1135.3L1061.1 1135.2L1061.9 1133.4L1062.6 1134.7" fill="none" stroke="#000" stroke-width="3.2" stroke-linejoin="round" stroke-linecap="round"/>
<path d="M838.7 1207.9L839.5 1210.9L840.3 1205.6L841.1 1205.3L841.9 1208.1L842.7 1208.2L843.5 1209.1L844.3 1209.1L845.1 1206.5L845.9 1206.4L846.7 1204.8L847.5 1208.6L848.3 1207.1L849.1 1206.0L849.9 1206.9L850.7 1208.9L851.5 1206.9L852.3 1203.6L853.1 1204.1L853.9 1202.7L854.7 1204.9L855.5 1204.9L856.3 1211.3L857.1 1206.3L857.9 1209.1L858.7 1206.0L859.5 1208.5L860.3 1207.5L861.1 1206.7L861.9 1207.6L862.7 1209.4L863.5 1210.5L864.3 1205.9L865.1 1207.4L865.9 1204.6L866.7 1207.8L867.5 1207.2L868.3 1207.6L869.1 1210.6L869.9 1206.9L870.7 1207.7L871.5 1210.9L872.3 1207.6L873.1 1209.7L873.9 1208.4L874.7 1207.2L875.5 1208.3L876.3 1209.8L877.1 1204.5L877.9 1205.3L878.7 1207.5L879.5 1207.6L880.3 1206.9L881.1 1211.5L881.9 1209.2L882.7 1208.8L883.5 1207.6L884.3 1210.6L885.1 1208.0L885.9 1207.8L886.7 1206.5L887.5 1210.0L888.3 1210.7L889.1 1210.3L889.9 1207.6L890.7 1207.6L891.5 1209.4L892.3 1209.6L893.1 1207.8L893.9 1207.9L894.7 1209.9L895.5 1208.2L896.3 1210.3L897.1 1206.5L897.9 1208.1L898.7 1210.5L899.5 1209.6L900.3 1208.2L901.1 1206.3L901.9 1206.3L902.7 1208.7L903.5 1207.2L904.3 1210.2L905.1 1210.8L905.9 1208.9L906.7 1204.0L907.5 1211.0L908.3 1209.2L909.1 1208.1L909.9 1205.2L910.7 1205.1L911.5 1206.1L912.3 1206.7L913.1 1208.4L913.9 1207.8L914.7 1207.8L915.5 1206.4L916.3 1208.6L917.1 1208.1L917.9 1210.7L918.7 1209.3L919.5 1209.1L920.3 1211.6L921.1 1207.5L921.9 1208.3L922.7 1208.4L923.5 1205.1L924.3 1209.1L925.1 1208.5L925.9 1208.8L926.7 1210.0L927.5 1207.8L928.0 1208.1L928.3 1206.5L929.1 1206.9L929.9 1206.7L930.1 1205.6L930.7 1204.8L931.5 1203.0L932.3 1199.8L933.1 1196.2L933.9 1193.6L934.7 1195.6L935.2 1191.0L935.5 1189.7L936.3 1191.2L937.1 1185.3L937.9 1186.4L938.7 1187.5L939.5 1182.8L940.2 1181.2L940.3 1182.3L941.1 1178.2L941.9 1176.9L942.7 1175.0L942.8 1176.3L943.5 1179.1L944.3 1182.2L945.1 1186.4L945.9 1182.0L946.6 1189.4L946.7 1190.2L947.5 1185.3L948.3 1179.4L949.1 1175.1L949.9 1181.4L950.7 1185.5L951.5 1194.9L951.7 1195.5L952.3 1192.8L953.1 1183.7L953.9 1180.2L954.2 1176.6L954.7 1180.1L955.5 1185.2L956.3 1192.5L956.8 1197.3L957.1 1192.6L957.9 1187.9L958.7 1181.9L959.3 1175.5L959.5 1175.7L960.3 1183.1L961.1 1189.4L961.8 1196.3L961.9 1193.2L962.7 1187.4L963.5 1184.7L964.3 1182.2L964.4 1181.2L965.1 1174.4L965.9 1171.5L966.7 1168.5L966.9 1166.2L967.5 1175.3L968.3 1185.5L968.7 1191.5L969.1 1194.2L969.9 1188.8L970.7 1184.8L971.5 1182.4L972.0 1181.3L972.3 1183.1L973.1 1186.5L973.9 1193.1L974.7 1193.2L975.5 1193.9L975.8 1196.4L976.3 1193.8L977.1 1194.7L977.9 1188.9L978.7 1189.9L979.5 1187.1L979.6 1187.2L980.3 1187.8L981.1 1189.6L981.9 1191.5L982.7 1194.6L983.4 1195.3L983.5 1195.9L984.3 1190.6L985.1 1195.1L985.9 1194.4L986.7 1187.0L987.2 1187.6L987.5 1189.8L988.3 1188.4L989.1 1192.1L989.9 1190.2L990.7 1191.2L991.0 1193.0L991.5 1188.7L992.3 1192.0L993.1 1188.5L993.9 1187.9L994.7 1185.0L995.5 1188.7L996.1 1187.5L996.3 1188.5L997.1 1185.6L997.9 1190.4L998.7 1193.7L999.5 1190.9L1000.3 1194.1L1001.1 1195.4L1001.2 1195.1L1001.9 1191.4L1002.7 1189.2L1003.5 1185.8L1004.3 1180.8L1005.0 1181.8L1005.1 1181.3L1005.9 1187.0L1006.7 1185.4L1007.5 1193.7L1008.3 1196.8L1008.8 1196.8L1009.1 1197.9L1009.9 1198.6L1010.7 1195.8L1011.5 1196.9L1012.3 1194.8L1013.1 1195.1L1013.9 1195.3L1014.7 1197.0L1015.5 1196.5L1016.3 1197.1L1017.1 1197.4L1017.9 1199.4L1018.7 1202.8L1019.0 1200.3L1019.5 1199.7L1020.3 1202.8L1021.1 1201.6L1021.9 1199.3L1022.7 1202.3L1023.5 1205.5L1024.3 1207.1L1025.1 1205.9L1025.9 1207.5L1026.6 1205.8L1026.7 1206.8L1027.5 1206.9L1028.3 1207.5L1029.1 1205.5L1029.9 1208.8L1030.7 1204.2L1031.5 1211.4L1032.3 1208.2L1033.1 1206.2L1033.9 1206.5L1034.7 1204.8L1035.5 1204.4L1036.3 1206.6L1037.1 1206.7L1037.9 1203.5L1038.7 1207.8L1039.5 1205.7L1040.3 1207.1L1041.1 1204.4L1041.9 1208.7L1042.7 1209.1L1043.5 1206.7L1044.3 1205.8L1045.1 1209.4L1045.9 1206.7L1046.7 1207.7L1047.5 1205.4L1048.3 1209.6L1049.1 1205.0L1049.9 1207.4L1050.7 1204.3L1051.5 1208.7L1052.3 1206.6L1053.1 1204.1L1053.9 1206.4L1054.7 1208.7L1055.5 1208.1L1056.3 1207.4L1057.1 1206.0L1057.9 1208.6L1058.7 1208.8L1059.5 1208.7L1060.3 1208.8L1061.1 1208.1L1061.9 1209.9L1062.6 1208.1" fill="none" stroke="#000" stroke-width="3.2" stroke-linejoin="round" stroke-linecap="round"/>
<path d="M838.7 1291.7L839.5 1292.1L840.3 1292.5L841.1 1291.3L841.9 1296.7L842.7 1293.6L843.5 1293.1L844.3 1291.8L845.1 1292.4L845.9 1293.8L846.7 1289.9L847.5 1292.0L848.3 1290.4L849.1 1289.8L849.9 1291.3L850.7 1289.9L851.5 1293.1L852.3 1293.7L853.1 1290.2L853.9 1292.4L854.7 1294.3L855.5 1292.5L856.3 1292.2L857.1 1289.1L857.9 1291.8L858.7 1295.7L859.5 1293.2L860.3 1292.0L861.1 1292.2L861.9 1291.7L862.7 1293.2L863.5 1292.1L864.3 1290.7L865.1 1288.2L865.9 1292.5L866.7 1292.0L867.5 1290.9L868.3 1291.0L869.1 1290.3L869.9 1295.5L870.7 1289.7L871.5 1292.3L872.3 1294.3L873.1 1291.7L873.9 1291.6L874.7 1290.8L875.5 1291.7L876.3 1291.0L877.1 1291.7L877.9 1293.5L878.7 1292.3L879.5 1290.8L880.3 1292.5L881.1 1290.2L881.9 1290.0L882.7 1287.9L883.5 1289.2L884.3 1291.7L885.1 1293.1L885.9 1289.4L886.7 1290.7L887.5 1290.5L888.3 1292.2L889.1 1293.5L889.9 1295.8L890.7 1292.4L891.5 1293.5L892.3 1291.3L893.1 1290.5L893.9 1292.6L894.7 1289.5L895.5 1290.2L896.3 1290.6L897.1 1290.5L897.9 1294.2L898.7 1291.0L899.5 1294.0L900.3 1294.8L901.1 1290.1L901.9 1294.1L902.7 1293.3L903.5 1292.5L904.3 1292.5L905.1 1291.5L905.9 1290.6L906.7 1290.1L907.5 1291.4L908.3 1291.6L909.1 1294.9L909.9 1290.9L910.7 1293.3L911.5 1292.2L912.3 1292.7L913.1 1293.2L913.9 1292.2L914.7 1292.0L915.5 1288.6L916.3 1292.9L917.1 1288.9L917.9 1292.1L918.7 1293.0L919.5 1292.4L920.3 1291.7L921.1 1294.2L921.9 1293.6L922.7 1292.1L923.5 1293.2L924.3 1294.4L925.1 1291.3L925.9 1288.0L926.7 1293.3L927.5 1292.5L928.3 1292.7L929.1 1291.8L929.9 1294.3L930.0 1291.5L930.7 1291.7L931.5 1293.8L932.3 1291.6L933.1 1292.2L933.9 1290.4L934.7 1290.5L935.2 1288.7L935.5 1285.9L936.3 1290.0L937.1 1288.9L937.9 1285.1L938.7 1285.7L939.0 1284.9L939.5 1284.6L940.3 1279.3L941.1 1273.8L941.5 1272.7L941.9 1271.5L942.7 1260.2L943.3 1257.5L943.5 1254.2L944.3 1253.6L945.1 1253.0L945.9 1250.0L946.6 1247.4L946.7 1248.5L947.5 1244.0L948.3 1241.4L949.1 1238.0L949.9 1240.3L950.7 1245.9L951.5 1245.9L951.7 1249.6L952.3 1243.5L953.1 1241.6L953.4 1239.5L953.9 1240.9L954.7 1248.0L955.5 1248.1L956.3 1251.9L956.8 1252.2L957.1 1253.7L957.9 1250.6L958.7 1252.9L959.5 1247.2L960.3 1245.1L960.6 1245.8L961.1 1247.8L961.9 1247.7L962.7 1250.9L963.5 1253.3L964.3 1255.8L964.4 1257.2L965.1 1263.1L965.9 1269.7L966.7 1279.2L966.9 1282.1L967.5 1277.0L968.3 1274.8L969.1 1264.6L969.4 1265.1L969.9 1267.3L970.7 1268.8L971.5 1273.6L972.0 1278.1L972.3 1276.2L973.1 1271.4L973.9 1269.8L974.7 1266.3L975.3 1263.6L975.5 1262.0L976.3 1269.0L977.1 1271.2L977.9 1275.8L978.3 1277.9L978.7 1276.4L979.5 1272.7L980.3 1274.8L981.1 1273.4L981.9 1269.2L982.1 1267.5L982.7 1268.8L983.5 1268.9L984.3 1276.6L985.1 1274.7L985.9 1276.6L986.0 1278.4L986.7 1281.1L987.5 1275.3L988.3 1271.3L989.1 1272.7L989.8 1270.5L989.9 1268.4L990.7 1272.2L991.5 1274.0L992.3 1276.1L993.1 1276.8L993.6 1278.6L993.9 1278.8L994.7 1274.7L995.5 1275.2L996.3 1278.6L997.1 1274.9L997.9 1274.0L998.6 1271.4L998.7 1273.3L999.5 1274.1L1000.3 1273.8L1001.1 1276.0L1001.9 1276.1L1002.7 1277.5L1003.5 1271.7L1003.7 1275.3L1004.3 1274.9L1005.1 1274.6L1005.9 1273.5L1006.7 1274.5L1007.5 1274.9L1008.3 1277.4L1009.1 1273.7L1009.9 1273.3L1010.7 1276.3L1011.3 1275.5L1011.5 1274.6L1012.3 1279.5L1013.1 1278.7L1013.9 1281.6L1014.7 1282.2L1015.5 1281.2L1016.3 1282.5L1017.1 1280.2L1017.9 1281.6L1018.7 1285.4L1019.0 1284.2L1019.5 1285.2L1020.3 1285.5L1021.1 1288.5L1021.9 1287.2L1022.7 1290.0L1023.5 1288.6L1024.3 1292.4L1025.1 1290.0L1025.3 1291.9L1025.9 1291.5L1026.7 1293.8L1027.5 1291.5L1028.3 1292.1L1029.1 1290.6L1029.9 1291.0L1030.7 1290.1L1031.5 1290.3L1032.3 1288.6L1033.1 1293.7L1033.9 1290.0L1034.7 1290.2L1035.5 1294.3L1036.3 1294.7L1037.1 1290.0L1037.9 1289.3L1038.7 1293.9L1039.5 1291.7L1040.3 1292.7L1041.1 1291.3L1041.9 1291.7L1042.7 1293.8L1043.5 1292.6L1044.3 1289.6L1045.1 1289.6L1045.9 1290.6L1046.7 1291.2L1047.5 1291.9L1048.3 1292.8L1049.1 1292.6L1049.9 1293.5L1050.7 1289.8L1051.5 1292.2L1052.3 1289.7L1053.1 1292.3L1053.9 1291.7L1054.7 1293.9L1055.5 1290.4L1056.3 1293.6L1057.1 1294.9L1057.9 1291.3L1058.7 1290.9L1059.5 1292.8L1060.3 1292.8L1061.1 1292.2L1061.9 1289.7L1062.6 1292.2" fill="none" stroke="#000" stroke-width="3.2" stroke-linejoin="round" stroke-linecap="round"/>
<path d="M1094.8 717.4L1095.6 722.0L1096.4 717.7L1097.2 717.9L1098.0 718.3L1098.8 719.0L1099.6 721.4L1100.4 719.7L1101.2 717.1L1102.0 718.3L1102.8 718.1L1103.6 717.8L1104.4 713.8L1105.2 716.9L1106.0 718.3L1106.8 713.2L1107.6 716.8L1108.4 719.1L1109.2 717.1L1110.0 715.4L1110.8 716.7L1111.6 717.0L1112.4 716.9L1113.2 713.7L1114.0 716.5L1114.8 717.3L1115.6 714.0L1116.4 717.2L1117.2 717.8L1118.0 715.4L1118.8 720.2L1119.6 713.6L1120.4 717.1L1121.2 716.9L1122.0 715.0L1122.8 716.9L1123.6 715.3L1124.4 716.9L1125.2 713.9L1126.0 714.5L1126.8 719.0L1127.6 716.3L1128.4 722.6L1129.2 717.1L1130.0 718.9L1130.8 715.4L1131.6 714.3L1132.4 718.2L1133.2 718.5L1134.0 716.7L1134.8 717.6L1135.6 715.2L1136.4 714.9L1137.2 713.4L1138.0 717.2L1138.8 717.2L1139.6 716.3L1140.4 719.8L1141.2 717.0L1142.0 716.6L1142.8 716.7L1143.6 719.6L1144.4 718.6L1145.2 719.4L1146.0 717.9L1146.8 715.9L1147.6 716.0L1148.4 717.3L1149.2 720.2L1150.0 716.7L1150.8 717.6L1151.6 714.9L1152.4 717.2L1153.2 717.7L1154.0 715.8L1154.8 716.9L1155.6 718.4L1156.4 716.3L1157.2 717.0L1158.0 717.3L1158.8 716.3L1159.6 715.8L1160.4 714.6L1161.2 718.5L1162.0 719.2L1162.8 721.4L1163.6 720.7L1164.4 715.1L1165.2 716.8L1166.0 719.5L1166.8 717.1L1167.6 716.9L1168.4 717.2L1169.2 715.2L1170.0 715.6L1170.8 717.0L1171.6 715.6L1172.4 712.0L1173.2 718.9L1174.0 717.3L1174.8 712.1L1175.6 719.5L1176.4 715.2L1177.2 716.8L1178.0 718.4L1178.8 715.1L1179.6 720.3L1180.4 719.5L1181.0 717.5L1181.2 715.8L1182.0 715.6L1182.8 712.6L1182.9 715.0L1183.6 683.1L1184.2 653.4L1184.4 652.8L1185.2 649.7L1186.0 641.7L1186.2 642.9L1186.8 646.5L1187.6 652.0L1188.0 656.1L1188.4 657.3L1189.2 654.0L1190.0 654.1L1190.8 659.7L1191.6 667.0L1192.4 673.8L1192.5 673.3L1193.2 676.7L1194.0 682.5L1194.8 683.7L1195.1 689.5L1195.6 693.7L1196.4 699.9L1197.2 698.2L1198.0 696.2L1198.8 695.8L1198.9 696.6L1199.6 701.4L1200.4 699.3L1201.2 699.1L1202.0 702.3L1202.7 704.1L1202.8 704.2L1203.6 703.6L1204.4 703.8L1205.2 704.6L1206.0 700.9L1206.8 702.0L1207.6 704.1L1208.4 702.9L1209.2 703.1L1210.0 703.6L1210.8 703.5L1211.6 704.6L1212.4 701.2L1213.2 705.6L1214.0 704.8L1214.8 703.9L1215.6 703.0L1216.4 703.2L1217.2 701.9L1218.0 704.4L1218.8 702.5L1219.6 706.1L1220.4 703.7L1221.2 698.1L1222.0 706.4L1222.8 702.8L1223.0 704.3L1223.6 705.0L1224.4 704.6L1225.2 710.1L1225.6 709.7L1226.0 707.4L1226.8 708.8L1227.6 708.8L1228.4 707.9L1229.2 706.6L1230.0 705.7L1230.8 709.2L1231.6 709.6L1232.4 709.5L1233.2 708.9L1234.0 709.2L1234.8 705.7L1235.6 708.0L1236.4 708.5L1237.2 708.3L1238.0 707.8L1238.8 706.5L1239.6 708.7L1240.4 709.3L1241.2 707.0L1242.0 705.4L1242.8 706.6L1243.6 704.8L1244.4 703.4L1245.2 707.6L1245.9 705.1L1246.0 707.0L1246.8 704.2L1247.6 705.7L1248.4 708.2L1249.2 706.1L1250.0 702.8L1250.8 705.0L1251.6 705.3L1252.4 710.5L1253.2 704.8L1254.0 706.5L1254.8 703.7L1255.6 706.7L1256.4 710.4L1257.2 706.9L1258.0 705.3L1258.8 707.0L1259.6 705.8L1260.4 703.6L1261.2 707.5L1262.0 705.2L1262.8 709.5L1263.6 706.1L1264.4 707.9L1265.2 707.3L1266.0 703.7L1266.8 705.7L1267.6 709.2L1268.4 709.8L1269.2 708.4L1270.0 704.1L1270.8 709.0L1271.6 707.8L1272.4 706.5L1273.2 705.4L1274.0 708.7L1274.8 708.6L1275.6 704.9L1276.4 709.6L1277.2 704.3L1278.0 708.6L1278.8 707.7L1279.6 706.4L1280.4 707.0L1281.2 710.6L1282.0 710.1L1282.8 706.6L1283.6 707.7L1284.4 708.7L1285.2 706.6L1286.0 705.9L1286.8 709.9L1287.6 710.5L1288.4 709.2L1289.2 709.2L1290.0 711.2L1290.8 711.1L1291.6 710.2L1292.4 709.5L1293.2 711.9L1294.0 710.4L1294.8 713.9L1295.6 712.3L1296.4 709.4L1297.2 711.1L1298.0 708.5L1298.8 711.5L1299.6 712.4L1300.4 710.1L1301.2 711.3L1302.0 711.2L1302.8 711.2L1303.6 713.1L1304.4 710.3L1305.2 711.7L1306.0 709.2L1306.8 711.1L1307.6 711.3L1308.4 711.4L1309.2 710.0L1310.0 708.7L1310.8 709.5L1311.6 709.5L1312.4 710.9L1313.2 712.6L1314.0 712.4L1314.8 709.0L1315.6 713.2L1316.4 712.4L1317.2 711.1L1318.0 710.3L1318.8 709.7L1319.5 711.3" fill="none" stroke="#000" stroke-width="3.2" stroke-linejoin="round" stroke-linecap="round"/>
<path d="M1094.8 786.5L1095.6 785.5L1096.4 788.4L1097.2 787.1L1098.0 786.3L1098.8 785.1L1099.6 788.4L1100.4 786.2L1101.2 786.1L1102.0 784.0L1102.8 786.8L1103.6 785.8L1104.4 785.7L1105.2 786.0L1106.0 783.3L1106.8 785.3L1107.6 784.0L1108.4 784.7L1109.2 786.2L1110.0 787.2L1110.8 786.1L1111.6 787.3L1112.4 785.7L1113.2 784.5L1114.0 785.8L1114.8 788.7L1115.6 786.4L1116.4 784.8L1117.2 787.9L1118.0 785.4L1118.8 785.3L1119.6 781.9L1120.4 785.0L1121.2 785.9L1122.0 784.9L1122.8 784.1L1123.6 785.0L1124.4 787.5L1125.2 784.6L1126.0 786.1L1126.8 786.4L1127.6 785.3L1128.4 786.2L1129.2 785.4L1130.0 786.8L1130.8 787.7L1131.6 787.2L1132.4 787.5L1133.2 788.9L1134.0 786.6L1134.8 789.4L1135.6 786.6L1136.4 787.1L1137.2 789.3L1138.0 788.9L1138.8 787.7L1139.6 789.0L1140.4 788.9L1141.2 788.3L1142.0 786.5L1142.8 788.5L1143.6 788.4L1144.4 786.8L1145.2 785.1L1146.0 785.8L1146.8 784.8L1147.6 786.9L1148.4 786.4L1149.2 789.5L1150.0 788.6L1150.8 784.6L1151.6 787.3L1152.4 787.8L1153.2 787.7L1154.0 786.7L1154.8 788.5L1155.6 786.8L1156.4 785.2L1157.2 789.8L1158.0 782.3L1158.8 786.7L1159.6 788.8L1160.4 787.0L1161.2 785.8L1162.0 787.8L1162.8 789.2L1163.6 787.8L1164.4 784.2L1165.2 787.8L1166.0 788.4L1166.8 785.2L1167.6 784.2L1168.4 788.6L1169.2 786.9L1170.0 786.8L1170.8 788.1L1171.6 784.4L1172.4 785.8L1173.2 786.4L1174.0 786.7L1174.8 783.7L1175.6 784.3L1176.4 783.0L1177.2 788.0L1178.0 787.0L1178.8 783.5L1179.6 784.4L1180.4 787.3L1181.0 786.4L1181.2 788.8L1182.0 786.8L1182.8 785.5L1182.9 784.1L1183.6 774.8L1184.4 758.2L1185.0 752.4L1185.2 754.5L1186.0 745.0L1186.8 741.2L1187.5 738.4L1187.6 738.8L1188.4 741.2L1189.2 743.9L1190.0 747.1L1190.8 753.1L1191.6 750.9L1192.0 754.6L1192.4 756.9L1193.2 760.5L1194.0 767.1L1194.8 772.3L1195.1 772.5L1195.6 773.0L1196.4 769.5L1197.2 767.6L1197.6 764.7L1198.0 763.6L1198.8 771.5L1199.6 771.1L1200.2 775.1L1200.4 772.6L1201.2 772.4L1202.0 770.6L1202.8 769.5L1203.6 767.5L1204.0 767.8L1204.4 767.5L1205.2 771.8L1206.0 766.9L1206.8 768.1L1207.6 774.2L1208.4 774.1L1209.2 772.6L1210.0 772.8L1210.3 774.9L1210.8 773.6L1211.6 776.0L1212.4 774.0L1213.2 771.6L1214.0 772.1L1214.8 771.5L1215.6 774.7L1216.4 773.7L1217.2 772.8L1218.0 770.3L1218.8 771.3L1219.6 771.4L1220.4 768.8L1221.2 769.7L1222.0 771.9L1222.8 771.1L1223.0 772.4L1223.6 769.2L1224.4 771.6L1225.2 772.5L1226.0 772.3L1226.8 772.7L1227.6 772.9L1228.4 771.8L1229.2 773.0L1230.0 773.5L1230.8 775.2L1231.6 772.7L1232.4 771.9L1233.2 772.8L1234.0 775.6L1234.8 774.5L1235.6 776.1L1236.4 771.7L1237.2 772.9L1238.0 773.7L1238.8 774.2L1239.6 772.0L1240.4 771.5L1241.2 773.1L1242.0 774.4L1242.8 770.6L1243.6 771.2L1244.4 769.6L1245.2 773.8L1245.9 772.6L1246.0 774.5L1246.8 769.2L1247.6 773.3L1248.4 774.2L1249.2 773.0L1250.0 773.1L1250.8 771.6L1251.6 773.5L1252.4 772.8L1253.2 777.5L1254.0 770.7L1254.8 770.2L1255.6 774.5L1256.4 771.6L1257.2 771.9L1258.0 771.0L1258.8 773.9L1259.6 772.2L1260.4 773.5L1261.2 778.1L1262.0 775.7L1262.8 777.9L1263.6 774.8L1264.4 775.9L1265.2 777.6L1266.0 776.3L1266.8 778.6L1267.6 775.9L1268.4 777.0L1269.2 772.5L1270.0 781.3L1270.8 775.8L1271.6 775.6L1272.4 775.2L1273.2 776.2L1274.0 772.6L1274.8 775.3L1275.6 776.0L1276.4 777.5L1277.2 772.8L1278.0 774.5L1278.8 776.5L1279.6 776.1L1280.4 773.2L1281.2 775.7L1282.0 773.8L1282.8 773.2L1283.6 776.7L1284.4 774.2L1285.2 775.9L1286.0 774.8L1286.8 775.9L1287.6 776.2L1288.4 775.3L1289.2 773.2L1290.0 775.2L1290.8 775.7L1291.6 776.1L1292.4 776.6L1293.2 779.9L1294.0 778.1L1294.8 777.5L1295.6 776.2L1296.4 776.3L1297.2 774.2L1298.0 774.1L1298.8 776.8L1299.6 781.3L1300.4 777.3L1301.2 775.9L1302.0 778.7L1302.8 779.8L1303.6 781.1L1304.4 778.0L1305.2 776.8L1306.0 775.1L1306.8 777.0L1307.6 777.7L1308.4 777.3L1309.2 779.6L1310.0 778.4L1310.8 781.6L1311.6 782.1L1312.4 776.3L1313.2 777.7L1314.0 779.5L1314.8 776.7L1315.6 781.3L1316.4 781.0L1317.2 779.6L1318.0 778.9L1318.8 780.3L1319.5 779.3" fill="none" stroke="#000" stroke-width="3.2" stroke-linejoin="round" stroke-linecap="round"/>
<path d="M1094.8 874.5L1095.6 874.6L1096.4 874.1L1097.2 873.4L1098.0 873.4L1098.8 874.8L1099.6 870.8L1100.4 875.9L1101.2 875.7L1102.0 875.2L1102.8 872.5L1103.6 880.0L1104.4 873.5L1105.2 873.4L1106.0 873.4L1106.8 875.9L1107.6 874.2L1108.4 872.9L1109.2 875.0L1110.0 875.6L1110.8 874.8L1111.6 873.1L1112.4 875.7L1113.2 876.2L1114.0 870.4L1114.8 874.2L1115.6 874.8L1116.4 877.0L1117.2 875.0L1118.0 874.6L1118.8 877.4L1119.6 876.9L1120.4 873.9L1121.2 876.9L1122.0 874.6L1122.8 876.7L1123.6 878.4L1124.4 875.3L1125.2 875.9L1126.0 874.0L1126.8 877.2L1127.6 877.7L1128.4 874.7L1129.2 874.5L1130.0 874.8L1130.8 874.8L1131.6 880.6L1132.4 874.3L1133.2 876.4L1134.0 877.2L1134.8 876.3L1135.6 873.0L1136.4 873.8L1137.2 876.3L1138.0 874.7L1138.8 874.1L1139.6 871.6L1140.4 874.6L1141.2 873.7L1142.0 875.8L1142.8 875.7L1143.6 874.0L1144.4 871.6L1145.2 874.2L1146.0 873.4L1146.8 874.4L1147.6 875.9L1148.4 873.2L1149.2 878.3L1150.0 871.6L1150.8 875.1L1151.6 873.1L1152.4 875.1L1153.2 870.9L1154.0 877.1L1154.8 877.5L1155.6 874.9L1156.4 875.1L1157.2 873.9L1158.0 875.3L1158.8 873.4L1159.6 875.7L1160.4 875.1L1161.2 870.6L1162.0 876.7L1162.8 873.4L1163.6 872.4L1164.4 874.3L1165.2 873.1L1166.0 872.7L1166.8 871.5L1167.6 875.8L1168.4 874.5L1169.2 876.1L1170.0 874.4L1170.8 874.4L1171.6 875.8L1172.4 875.4L1173.2 873.0L1174.0 873.4L1174.8 875.0L1175.6 873.4L1176.4 876.6L1177.2 877.0L1178.0 873.5L1178.8 874.9L1179.6 873.1L1180.4 874.8L1181.2 873.6L1181.5 874.6L1182.0 874.2L1182.8 869.5L1183.2 871.7L1183.6 857.9L1184.4 829.8L1185.0 810.4L1185.2 810.3L1186.0 803.1L1186.2 801.6L1186.8 802.7L1187.6 806.5L1188.4 808.5L1188.7 809.3L1189.2 813.9L1190.0 808.7L1190.8 812.5L1191.3 813.2L1191.6 813.1L1192.4 819.5L1193.2 825.9L1193.8 828.3L1194.0 829.8L1194.8 841.2L1195.6 846.8L1196.4 853.6L1197.2 863.3L1197.6 866.8L1198.0 868.3L1198.8 860.8L1199.6 852.2L1200.4 850.9L1201.2 847.5L1201.4 844.1L1202.0 845.4L1202.8 853.9L1203.6 860.9L1204.4 864.0L1205.2 868.0L1206.0 862.0L1206.8 861.4L1207.6 860.5L1208.4 854.9L1209.0 852.5L1209.2 854.6L1210.0 855.9L1210.8 857.3L1211.6 861.0L1212.4 866.2L1212.9 866.5L1213.2 866.0L1214.0 859.9L1214.8 863.7L1215.6 862.6L1216.4 858.6L1216.7 859.0L1217.2 857.5L1218.0 860.1L1218.8 862.1L1219.6 857.7L1220.4 862.0L1220.5 861.8L1221.2 860.4L1222.0 861.8L1222.8 859.4L1223.6 863.1L1224.4 860.0L1225.2 859.7L1226.0 862.0L1226.8 860.7L1227.6 861.4L1228.4 860.1L1229.2 862.8L1230.0 858.5L1230.8 857.6L1231.6 860.9L1232.4 860.4L1233.2 860.3L1234.0 862.3L1234.8 862.7L1235.6 859.5L1236.4 859.0L1237.2 860.7L1238.0 860.5L1238.8 863.1L1239.6 862.0L1240.4 862.7L1241.2 862.9L1242.0 861.0L1242.8 863.0L1243.6 865.5L1244.4 862.2L1245.2 860.7L1245.9 861.3L1246.0 863.4L1246.8 858.5L1247.6 862.5L1248.4 863.5L1249.2 864.6L1250.0 862.1L1250.8 863.2L1251.6 861.5L1252.4 862.7L1253.2 862.7L1254.0 862.5L1254.8 863.7L1255.6 862.3L1256.4 864.1L1257.2 861.4L1258.0 861.9L1258.8 862.1L1259.6 863.4L1260.4 865.1L1261.2 864.2L1262.0 862.5L1262.8 865.4L1263.6 865.1L1264.4 868.4L1265.2 861.1L1266.0 864.5L1266.8 865.3L1267.6 866.2L1268.4 863.3L1269.2 864.1L1270.0 863.5L1270.8 865.3L1271.6 862.4L1272.4 860.8L1273.2 862.3L1274.0 860.2L1274.8 866.2L1275.6 862.2L1276.4 860.9L1277.2 863.4L1278.0 861.4L1278.8 861.9L1279.6 864.5L1280.4 862.8L1281.2 864.6L1282.0 865.2L1282.8 866.1L1283.6 865.6L1284.4 866.2L1285.2 866.8L1286.0 867.1L1286.8 864.5L1287.6 866.8L1288.4 868.0L1289.2 864.9L1290.0 866.1L1290.8 863.7L1291.6 865.6L1292.4 866.0L1293.2 864.5L1294.0 863.5L1294.8 862.6L1295.6 869.0L1296.4 867.3L1297.2 866.9L1298.0 868.3L1298.8 867.0L1299.6 866.6L1300.4 862.8L1301.2 867.8L1302.0 864.3L1302.8 867.1L1303.6 863.3L1304.4 865.9L1305.2 867.1L1306.0 863.2L1306.8 864.8L1307.6 867.7L1308.4 865.9L1309.2 866.0L1310.0 868.6L1310.8 866.3L1311.6 866.3L1312.4 867.3L1313.2 865.6L1314.0 862.1L1314.8 867.9L1315.6 868.7L1316.4 870.1L1317.2 868.3L1318.0 868.6L1318.8 868.6L1319.5 868.1" fill="none" stroke="#000" stroke-width="3.2" stroke-linejoin="round" stroke-linecap="round"/>
<path d="M1094.8 961.6L1095.6 961.4L1096.4 961.3L1097.2 958.2L1098.0 961.4L1098.8 960.9L1099.6 962.2L1100.4 961.7L1101.2 959.1L1102.0 962.4L1102.8 962.2L1103.6 962.9L1104.4 963.5L1105.2 959.4L1106.0 958.8L1106.8 961.6L1107.6 965.4L1108.4 961.8L1109.2 963.5L1110.0 964.1L1110.8 960.9L1111.6 961.0L1112.4 962.0L1113.2 963.9L1114.0 965.1L1114.8 960.4L1115.6 962.2L1116.4 958.1L1117.2 963.3L1118.0 961.0L1118.8 962.2L1119.6 961.8L1120.4 960.5L1121.2 965.1L1122.0 962.3L1122.8 964.2L1123.6 960.4L1124.4 960.6L1125.2 963.6L1126.0 961.9L1126.8 961.7L1127.6 959.3L1128.4 964.2L1129.2 962.9L1130.0 962.1L1130.8 961.0L1131.6 961.5L1132.4 961.6L1133.2 962.1L1134.0 960.0L1134.8 963.1L1135.6 959.3L1136.4 961.4L1137.2 963.2L1138.0 957.4L1138.8 963.1L1139.6 962.6L1140.4 962.2L1141.2 961.9L1142.0 961.2L1142.8 959.7L1143.6 962.9L1144.4 961.8L1145.2 959.9L1146.0 964.8L1146.8 963.0L1147.6 961.4L1148.4 962.2L1149.2 963.0L1150.0 965.9L1150.8 961.2L1151.6 962.6L1152.4 964.0L1153.2 961.9L1154.0 960.2L1154.8 961.3L1155.6 962.8L1156.4 962.6L1157.2 964.2L1158.0 959.4L1158.8 963.4L1159.6 959.7L1160.4 958.8L1161.2 964.8L1162.0 962.1L1162.8 961.7L1163.6 964.1L1164.4 960.1L1165.2 963.6L1166.0 960.8L1166.8 962.9L1167.6 960.5L1168.4 962.6L1169.2 959.9L1170.0 959.9L1170.8 962.8L1171.6 963.7L1172.4 961.4L1173.2 958.4L1174.0 962.9L1174.8 965.6L1175.6 961.9L1176.4 962.4L1177.2 964.3L1178.0 962.1L1178.8 961.5L1179.6 959.0L1180.4 962.5L1181.0 961.1L1181.2 964.2L1182.0 961.1L1182.8 956.6L1182.9 958.4L1183.6 936.7L1184.4 912.5L1185.0 892.9L1185.2 894.2L1186.0 890.1L1186.8 884.4L1187.5 881.5L1187.6 883.9L1188.4 882.8L1189.2 885.5L1190.0 887.6L1190.8 888.2L1191.3 890.9L1191.6 892.8L1192.4 895.9L1193.2 898.1L1193.8 903.2L1194.0 901.6L1194.8 916.6L1195.6 923.4L1196.4 936.2L1197.2 944.2L1197.6 948.9L1198.0 943.4L1198.8 939.4L1199.6 930.9L1200.4 921.6L1201.2 911.8L1202.0 904.8L1202.8 917.9L1203.6 925.5L1204.4 941.4L1205.2 950.4L1206.0 942.9L1206.8 939.8L1207.6 930.4L1208.4 929.3L1209.0 923.0L1209.2 925.4L1210.0 926.8L1210.8 934.9L1211.6 944.0L1212.4 940.5L1213.2 934.8L1214.0 936.9L1214.8 932.0L1215.4 928.2L1215.6 929.1L1216.4 929.1L1217.2 931.4L1218.0 932.9L1218.8 933.0L1219.6 933.4L1220.4 933.6L1220.5 936.6L1221.2 935.4L1222.0 935.0L1222.8 935.9L1223.6 935.3L1224.4 935.8L1225.2 935.6L1226.0 939.9L1226.8 937.4L1227.6 934.7L1228.4 936.6L1229.2 936.2L1230.0 933.7L1230.8 935.7L1231.6 933.0L1232.4 936.3L1233.2 933.1L1234.0 931.4L1234.8 931.2L1235.6 930.8L1236.4 932.0L1237.2 928.3L1238.0 932.1L1238.2 932.6L1238.8 930.7L1239.6 935.1L1240.4 931.2L1241.2 935.1L1242.0 935.3L1242.8 933.1L1243.6 936.9L1244.4 934.3L1245.2 932.7L1245.9 936.1L1246.0 936.4L1246.8 936.8L1247.6 936.4L1248.4 937.6L1249.2 937.7L1250.0 935.3L1250.8 934.6L1251.6 934.7L1252.4 936.9L1253.2 940.0L1254.0 938.2L1254.8 940.2L1255.6 935.2L1256.4 932.0L1257.2 937.3L1258.0 938.0L1258.8 938.8L1259.6 937.4L1260.4 938.1L1261.2 936.9L1262.0 936.4L1262.8 936.7L1263.6 936.2L1264.4 938.3L1265.2 936.7L1266.0 937.7L1266.8 937.4L1267.6 936.5L1268.4 935.1L1269.2 939.6L1270.0 936.8L1270.8 937.9L1271.6 936.8L1272.4 938.8L1273.2 936.5L1274.0 937.1L1274.8 939.0L1275.6 938.3L1276.4 936.7L1277.2 938.5L1278.0 934.7L1278.8 941.1L1279.6 941.9L1280.4 938.4L1281.2 941.1L1282.0 940.5L1282.8 942.6L1283.6 943.9L1284.4 940.0L1285.2 943.1L1286.0 940.3L1286.8 942.0L1287.6 940.2L1288.4 940.4L1289.2 937.6L1290.0 938.9L1290.8 939.5L1291.6 939.6L1292.4 938.7L1293.2 937.9L1294.0 941.2L1294.8 941.4L1295.6 937.4L1296.4 944.7L1297.2 941.8L1298.0 942.7L1298.8 940.5L1299.6 939.1L1300.4 938.6L1301.2 939.9L1302.0 939.3L1302.8 941.9L1303.6 937.9L1304.4 940.9L1305.2 941.5L1306.0 939.3L1306.8 940.3L1307.6 940.7L1308.4 941.2L1309.2 942.3L1310.0 939.2L1310.8 939.8L1311.6 940.3L1312.4 942.7L1313.2 941.6L1314.0 940.9L1314.8 939.9L1315.6 941.4L1316.4 942.4L1317.2 936.3L1318.0 941.4L1318.8 940.1L1319.5 941.7" fill="none" stroke="#000" stroke-width="3.2" stroke-linejoin="round" stroke-linecap="round"/>
<path d="M1094.8 1040.7L1095.6 1040.7L1096.4 1043.0L1097.2 1038.5L1098.0 1041.2L1098.8 1043.1L1099.6 1040.7L1100.4 1039.3L1101.2 1042.1L1102.0 1040.0L1102.8 1041.3L1103.6 1040.4L1104.4 1042.5L1105.2 1042.8L1106.0 1040.6L1106.8 1041.9L1107.6 1036.7L1108.4 1039.2L1109.2 1040.3L1110.0 1042.7L1110.8 1039.9L1111.6 1038.4L1112.4 1040.6L1113.2 1038.9L1114.0 1041.1L1114.8 1039.4L1115.6 1043.2L1116.4 1039.2L1117.2 1039.9L1118.0 1043.1L1118.8 1040.6L1119.6 1039.7L1120.4 1043.0L1121.2 1040.0L1122.0 1039.1L1122.8 1040.0L1123.6 1040.7L1124.4 1041.0L1125.2 1044.0L1126.0 1042.4L1126.8 1042.2L1127.6 1041.2L1128.4 1042.1L1129.2 1037.9L1130.0 1040.4L1130.8 1042.4L1131.6 1039.1L1132.4 1038.2L1133.2 1042.7L1134.0 1040.8L1134.8 1037.6L1135.6 1040.9L1136.4 1042.4L1137.2 1040.6L1138.0 1042.1L1138.8 1041.5L1139.6 1039.5L1140.4 1041.1L1141.2 1040.2L1142.0 1037.3L1142.8 1038.6L1143.6 1038.3L1144.4 1043.6L1145.2 1040.9L1146.0 1040.3L1146.8 1040.0L1147.6 1040.4L1148.4 1041.3L1149.2 1040.2L1150.0 1038.2L1150.8 1039.9L1151.6 1040.8L1152.4 1040.9L1153.2 1042.7L1154.0 1040.4L1154.8 1037.9L1155.6 1041.4L1156.4 1043.8L1157.2 1040.1L1158.0 1038.8L1158.8 1044.4L1159.6 1039.1L1160.4 1039.0L1161.2 1041.1L1162.0 1039.5L1162.8 1041.1L1163.6 1043.1L1164.4 1044.8L1165.2 1043.0L1166.0 1038.4L1166.8 1038.9L1167.6 1040.9L1168.4 1041.1L1169.2 1038.4L1170.0 1040.9L1170.8 1039.1L1171.6 1041.1L1172.4 1040.6L1173.2 1041.5L1174.0 1042.3L1174.8 1042.2L1175.6 1041.8L1176.4 1041.4L1177.2 1039.8L1178.0 1039.9L1178.8 1039.3L1179.6 1040.6L1180.4 1041.3L1181.0 1040.3L1181.2 1041.2L1182.0 1040.5L1182.8 1037.6L1182.9 1038.5L1183.6 1015.8L1184.4 988.8L1185.0 972.0L1185.2 971.9L1186.0 968.3L1186.8 965.1L1187.6 960.9L1188.0 962.5L1188.4 963.6L1189.2 963.5L1190.0 971.1L1190.8 970.8L1191.3 973.2L1191.6 973.6L1192.4 977.0L1193.2 982.1L1194.0 982.4L1194.6 989.3L1194.8 989.9L1195.6 1002.3L1196.4 1007.8L1197.2 1016.6L1197.6 1020.2L1198.0 1018.6L1198.8 1018.0L1199.6 1011.3L1200.4 1009.1L1201.2 1004.4L1202.0 1002.8L1202.7 996.0L1202.8 998.8L1203.6 1000.1L1204.4 1011.2L1205.2 1018.2L1206.0 1021.6L1206.5 1027.1L1206.8 1021.9L1207.6 1019.8L1208.4 1016.6L1209.2 1010.9L1210.0 1009.4L1210.3 1005.9L1210.8 1008.6L1211.6 1014.8L1212.4 1018.8L1213.2 1023.0L1214.0 1025.9L1214.1 1027.5L1214.8 1025.5L1215.6 1023.1L1216.4 1022.5L1217.2 1018.9L1218.0 1014.6L1218.8 1016.0L1219.6 1016.6L1220.4 1013.9L1221.2 1016.5L1222.0 1016.3L1222.8 1016.8L1223.6 1015.8L1224.4 1017.6L1225.2 1017.0L1226.0 1017.7L1226.8 1016.4L1227.6 1013.4L1228.4 1020.1L1229.2 1019.1L1230.0 1018.2L1230.8 1016.5L1231.6 1019.3L1232.4 1019.6L1233.2 1021.2L1234.0 1022.4L1234.8 1022.7L1235.6 1018.5L1235.7 1020.1L1236.4 1021.7L1237.2 1022.0L1238.0 1019.1L1238.8 1024.0L1239.6 1019.1L1240.4 1020.0L1241.2 1018.7L1242.0 1021.1L1242.8 1020.2L1243.6 1020.9L1244.4 1021.0L1245.2 1021.5L1246.0 1023.0L1246.8 1021.1L1247.6 1023.1L1248.4 1023.4L1249.2 1019.8L1250.0 1020.4L1250.8 1019.4L1251.6 1020.4L1252.4 1020.4L1253.2 1019.2L1254.0 1021.3L1254.8 1019.0L1255.6 1021.8L1256.4 1019.4L1257.2 1020.6L1258.0 1021.0L1258.8 1019.8L1259.6 1021.7L1260.4 1021.1L1261.2 1023.1L1262.0 1021.8L1262.8 1021.0L1263.6 1023.4L1264.4 1022.2L1265.2 1020.5L1266.0 1020.7L1266.8 1022.2L1267.6 1021.5L1268.4 1023.6L1269.2 1018.2L1270.0 1020.2L1270.8 1023.6L1271.6 1020.2L1272.4 1020.0L1273.2 1019.6L1274.0 1019.2L1274.8 1020.9L1275.6 1019.1L1276.4 1021.3L1277.2 1022.4L1278.0 1022.7L1278.8 1021.9L1279.6 1022.6L1280.4 1019.3L1281.2 1018.8L1282.0 1022.5L1282.8 1020.0L1283.6 1021.2L1284.4 1018.5L1285.2 1018.4L1286.0 1022.9L1286.8 1020.0L1287.6 1022.5L1288.4 1021.9L1289.2 1020.6L1290.0 1021.9L1290.8 1023.8L1291.6 1024.5L1292.4 1019.7L1293.2 1022.5L1294.0 1023.4L1294.8 1020.9L1295.6 1021.2L1296.4 1021.5L1297.2 1022.7L1298.0 1022.4L1298.8 1021.0L1299.6 1021.8L1300.4 1020.2L1301.2 1022.5L1302.0 1021.7L1302.8 1022.2L1303.6 1020.7L1304.4 1019.9L1305.2 1021.8L1306.0 1020.5L1306.8 1021.6L1307.6 1021.1L1308.4 1023.0L1309.2 1020.9L1310.0 1020.2L1310.8 1022.1L1311.6 1018.3L1312.4 1022.3L1313.2 1022.0L1314.0 1023.1L1314.8 1022.2L1315.6 1021.2L1316.4 1021.9L1317.2 1024.0L1318.0 1024.7L1318.8 1021.5L1319.5 1022.5" fill="none" stroke="#000" stroke-width="3.2" stroke-linejoin="round" stroke-linecap="round"/>
<path d="M1094.8 1133.4L1095.6 1136.6L1096.4 1133.1L1097.2 1133.0L1098.0 1136.3L1098.8 1133.2L1099.6 1133.2L1100.4 1134.8L1101.2 1136.8L1102.0 1135.6L1102.8 1134.4L1103.6 1135.0L1104.4 1131.5L1105.2 1133.5L1106.0 1135.2L1106.8 1132.2L1107.6 1136.0L1108.4 1135.0L1109.2 1134.5L1110.0 1133.2L1110.8 1132.5L1111.6 1132.8L1112.4 1133.1L1113.2 1135.5L1114.0 1134.7L1114.8 1132.8L1115.6 1134.2L1116.4 1132.2L1117.2 1134.1L1118.0 1133.8L1118.8 1132.4L1119.6 1134.5L1120.4 1133.8L1121.2 1134.2L1122.0 1134.2L1122.8 1129.5L1123.6 1133.9L1124.4 1137.0L1125.2 1129.4L1126.0 1133.4L1126.8 1137.0L1127.6 1131.8L1128.4 1133.2L1129.2 1132.7L1130.0 1132.5L1130.8 1134.1L1131.6 1133.8L1132.4 1135.1L1133.2 1134.7L1134.0 1132.9L1134.8 1133.2L1135.6 1134.7L1136.4 1135.0L1137.2 1134.8L1138.0 1132.7L1138.8 1133.6L1139.6 1132.1L1140.4 1132.8L1141.2 1137.8L1142.0 1134.3L1142.8 1135.2L1143.6 1132.0L1144.4 1134.2L1145.2 1133.1L1146.0 1132.9L1146.8 1134.8L1147.6 1134.3L1148.4 1133.9L1149.2 1134.4L1150.0 1134.5L1150.8 1134.3L1151.6 1134.3L1152.4 1134.5L1153.2 1132.3L1154.0 1133.6L1154.8 1131.7L1155.6 1133.5L1156.4 1134.7L1157.2 1134.5L1158.0 1132.3L1158.8 1131.5L1159.6 1133.5L1160.4 1130.9L1161.2 1133.8L1162.0 1131.0L1162.8 1131.6L1163.6 1131.7L1164.4 1131.2L1165.2 1132.8L1166.0 1133.7L1166.8 1131.1L1167.6 1134.8L1168.4 1135.3L1169.2 1134.0L1170.0 1133.9L1170.8 1136.5L1171.6 1129.3L1172.4 1132.0L1173.2 1135.7L1174.0 1131.1L1174.8 1133.1L1175.6 1134.4L1176.4 1134.3L1177.2 1135.7L1178.0 1131.7L1178.8 1133.2L1179.6 1133.6L1180.4 1135.2L1181.2 1132.8L1181.5 1134.1L1182.0 1131.6L1182.8 1130.8L1183.2 1131.2L1183.6 1117.0L1184.4 1083.9L1185.0 1057.8L1185.2 1057.9L1186.0 1053.4L1186.8 1051.7L1187.5 1049.1L1187.6 1048.1L1188.4 1048.1L1189.2 1054.3L1190.0 1054.2L1190.8 1057.6L1191.6 1057.6L1192.4 1057.8L1192.5 1060.5L1193.2 1063.8L1194.0 1070.7L1194.8 1072.6L1195.1 1075.7L1195.6 1083.7L1196.4 1097.3L1197.2 1116.8L1197.6 1119.1L1198.0 1114.3L1198.8 1100.1L1199.6 1083.4L1200.4 1076.8L1200.7 1074.6L1201.2 1080.6L1202.0 1092.3L1202.8 1099.8L1203.6 1113.2L1204.4 1125.7L1204.7 1127.9L1205.2 1122.5L1206.0 1111.7L1206.8 1102.9L1207.6 1093.2L1208.3 1086.8L1208.4 1088.2L1209.2 1097.5L1210.0 1108.0L1210.8 1116.6L1211.6 1127.3L1212.4 1114.7L1213.2 1111.2L1214.0 1099.9L1214.6 1096.1L1214.8 1101.2L1215.6 1104.6L1216.4 1112.8L1217.2 1118.4L1218.0 1124.1L1218.8 1112.0L1219.6 1101.1L1220.4 1093.9L1220.5 1093.8L1221.2 1097.6L1222.0 1105.5L1222.8 1107.7L1223.6 1114.3L1224.3 1119.8L1224.4 1120.9L1225.2 1116.5L1226.0 1111.5L1226.8 1107.3L1227.6 1103.2L1228.1 1103.0L1228.4 1101.9L1229.2 1102.5L1230.0 1105.2L1230.8 1105.5L1231.6 1106.5L1232.4 1101.3L1233.2 1105.9L1234.0 1106.5L1234.8 1105.4L1235.6 1106.4L1235.7 1108.1L1236.4 1108.8L1237.2 1107.0L1238.0 1109.3L1238.8 1109.1L1239.6 1108.4L1240.4 1108.6L1241.2 1107.9L1242.0 1108.3L1242.8 1106.5L1243.6 1111.9L1244.4 1108.9L1245.2 1108.2L1246.0 1106.5L1246.8 1109.6L1247.6 1111.4L1248.4 1108.4L1249.2 1109.3L1250.0 1106.5L1250.8 1106.5L1250.9 1108.8L1251.6 1106.8L1252.4 1105.6L1253.2 1106.5L1254.0 1105.5L1254.8 1109.7L1255.6 1108.7L1256.4 1105.4L1257.2 1111.1L1258.0 1112.6L1258.8 1111.7L1259.6 1107.8L1260.4 1111.7L1261.2 1108.9L1262.0 1113.3L1262.8 1110.6L1263.6 1107.6L1264.4 1111.4L1265.2 1109.5L1266.0 1112.0L1266.8 1111.7L1267.6 1113.7L1268.4 1109.8L1269.2 1110.1L1270.0 1110.4L1270.8 1111.4L1271.6 1111.9L1272.4 1110.7L1273.2 1113.9L1274.0 1112.3L1274.8 1113.9L1275.6 1112.9L1276.4 1114.0L1277.2 1111.5L1278.0 1115.1L1278.8 1111.9L1279.6 1113.5L1280.4 1110.9L1281.2 1112.5L1282.0 1111.9L1282.8 1111.9L1283.6 1114.9L1284.4 1111.3L1285.2 1111.1L1286.0 1108.4L1286.8 1111.8L1287.6 1116.1L1288.4 1112.1L1289.2 1113.8L1290.0 1112.5L1290.8 1112.9L1291.6 1112.1L1292.4 1112.1L1293.2 1113.0L1294.0 1108.8L1294.8 1112.8L1295.6 1112.5L1296.4 1112.1L1297.2 1113.9L1298.0 1113.3L1298.8 1117.3L1299.6 1116.6L1300.4 1116.3L1301.2 1114.1L1302.0 1113.6L1302.8 1114.8L1303.6 1114.2L1304.4 1112.1L1305.2 1114.9L1306.0 1114.7L1306.8 1114.1L1307.6 1113.3L1308.4 1112.4L1309.2 1112.8L1310.0 1114.2L1310.8 1116.5L1311.6 1115.3L1312.4 1115.0L1313.2 1115.2L1314.0 1114.6L1314.8 1114.2L1315.6 1116.1L1316.4 1112.6L1317.2 1114.2L1318.0 1116.2L1318.8 1111.0L1319.5 1116.1" fill="none" stroke="#000" stroke-width="3.2" stroke-linejoin="round" stroke-linecap="round"/>
<path d="M1094.8 1207.9L1095.6 1204.7L1096.4 1208.1L1097.2 1208.0L1098.0 1207.5L1098.8 1207.1L1099.6 1209.5L1100.4 1208.5L1101.2 1210.0L1102.0 1208.9L1102.8 1206.5L1103.6 1206.0L1104.4 1207.3L1105.2 1208.6L1106.0 1209.3L1106.8 1208.5L1107.6 1207.7L1108.4 1210.0L1109.2 1209.6L1110.0 1205.0L1110.8 1208.9L1111.6 1208.1L1112.4 1207.2L1113.2 1210.1L1114.0 1208.5L1114.8 1207.8L1115.6 1208.2L1116.4 1209.5L1117.2 1208.8L1118.0 1207.3L1118.8 1207.4L1119.6 1211.1L1120.4 1207.2L1121.2 1206.4L1122.0 1210.8L1122.8 1207.1L1123.6 1207.2L1124.4 1206.4L1125.2 1209.8L1126.0 1207.2L1126.8 1206.3L1127.6 1207.0L1128.4 1208.2L1129.2 1209.4L1130.0 1209.6L1130.8 1206.9L1131.6 1212.2L1132.4 1209.5L1133.2 1205.8L1134.0 1209.7L1134.8 1209.8L1135.6 1208.7L1136.4 1206.5L1137.2 1205.5L1138.0 1207.1L1138.8 1206.3L1139.6 1208.2L1140.4 1206.0L1141.2 1205.0L1142.0 1205.2L1142.8 1209.3L1143.6 1210.5L1144.4 1208.9L1145.2 1209.5L1146.0 1206.2L1146.8 1207.4L1147.6 1210.1L1148.4 1209.1L1149.2 1203.4L1150.0 1207.1L1150.8 1206.4L1151.6 1206.1L1152.4 1208.7L1153.2 1207.5L1154.0 1208.2L1154.8 1209.5L1155.6 1206.7L1156.4 1208.2L1157.2 1208.3L1158.0 1208.2L1158.8 1206.6L1159.6 1203.5L1160.4 1208.1L1161.2 1209.6L1162.0 1207.4L1162.8 1209.0L1163.6 1209.8L1164.4 1208.3L1165.2 1207.3L1166.0 1208.5L1166.8 1208.0L1167.6 1209.2L1168.4 1210.7L1169.2 1205.8L1170.0 1210.0L1170.8 1205.9L1171.6 1208.0L1172.4 1207.4L1173.2 1207.2L1174.0 1207.7L1174.8 1207.9L1175.6 1209.4L1176.4 1208.8L1177.2 1208.3L1178.0 1207.9L1178.8 1204.1L1179.6 1208.1L1180.4 1208.5L1180.5 1208.1L1181.2 1203.7L1182.0 1207.1L1182.4 1205.4L1182.8 1194.5L1183.6 1179.7L1184.4 1163.8L1185.0 1151.0L1185.2 1151.0L1186.0 1147.2L1186.8 1139.6L1187.0 1140.5L1187.6 1144.9L1188.4 1142.1L1189.2 1147.4L1190.0 1150.6L1190.8 1162.4L1191.6 1160.4L1192.4 1164.6L1192.5 1168.1L1193.2 1169.3L1194.0 1175.2L1194.8 1178.2L1195.6 1178.5L1196.4 1184.0L1197.2 1178.6L1198.0 1180.2L1198.8 1176.3L1198.9 1176.4L1199.6 1178.2L1200.4 1183.6L1201.2 1184.4L1202.0 1187.1L1202.7 1191.2L1202.8 1191.4L1203.6 1185.0L1204.4 1180.5L1205.2 1176.3L1206.0 1177.7L1206.8 1181.6L1207.6 1183.8L1208.4 1186.7L1209.2 1189.6L1210.0 1194.7L1210.3 1192.6L1210.8 1193.2L1211.6 1187.3L1212.4 1187.8L1213.2 1184.5L1214.0 1185.5L1214.8 1183.2L1215.4 1178.5L1215.6 1184.7L1216.4 1182.6L1217.2 1182.5L1218.0 1183.8L1218.8 1187.7L1219.6 1190.0L1220.4 1194.0L1220.5 1192.3L1221.2 1192.3L1222.0 1190.4L1222.8 1191.8L1223.6 1189.7L1224.4 1188.0L1225.2 1184.1L1226.0 1186.3L1226.8 1182.3L1227.6 1179.1L1228.4 1183.4L1229.2 1181.6L1230.0 1179.7L1230.6 1179.3L1230.8 1178.5L1231.6 1180.1L1232.4 1184.4L1233.2 1184.0L1234.0 1185.8L1234.8 1186.2L1235.6 1192.4L1235.7 1191.7L1236.4 1194.8L1237.2 1189.1L1238.0 1189.9L1238.8 1188.1L1239.6 1189.7L1240.4 1186.9L1241.2 1186.2L1242.0 1187.6L1242.8 1186.7L1243.6 1184.0L1244.4 1184.8L1245.2 1185.4L1245.9 1185.0L1246.0 1183.0L1246.8 1185.8L1247.6 1187.0L1248.4 1183.9L1249.2 1185.6L1250.0 1184.4L1250.8 1184.9L1251.6 1185.1L1252.4 1182.6L1253.2 1185.8L1254.0 1187.6L1254.8 1186.3L1255.6 1184.8L1256.4 1188.3L1257.2 1188.6L1258.0 1186.1L1258.8 1186.4L1259.6 1186.3L1260.4 1185.4L1261.2 1186.8L1262.0 1185.6L1262.8 1189.9L1263.6 1190.1L1264.4 1189.2L1265.2 1184.8L1266.0 1184.2L1266.8 1183.6L1267.6 1187.4L1268.4 1189.1L1269.2 1188.8L1270.0 1189.0L1270.8 1191.6L1271.6 1191.1L1272.4 1187.8L1273.2 1188.4L1274.0 1188.6L1274.8 1190.2L1275.6 1188.9L1276.4 1186.8L1277.2 1189.5L1278.0 1188.3L1278.8 1188.3L1279.6 1187.2L1280.4 1189.6L1281.2 1191.1L1282.0 1192.1L1282.8 1189.3L1283.6 1188.5L1284.4 1186.6L1285.2 1187.0L1286.0 1188.8L1286.8 1187.4L1287.6 1191.6L1288.4 1192.9L1289.2 1189.0L1290.0 1190.4L1290.8 1186.7L1291.6 1191.0L1292.4 1190.2L1293.2 1189.6L1294.0 1191.5L1294.8 1192.7L1295.6 1190.2L1296.4 1187.2L1297.2 1191.7L1298.0 1189.7L1298.8 1189.8L1299.6 1187.8L1300.4 1190.3L1301.2 1190.8L1302.0 1189.0L1302.8 1191.0L1303.6 1187.6L1304.4 1191.5L1305.2 1190.2L1306.0 1192.1L1306.8 1193.4L1307.6 1192.3L1308.4 1193.1L1309.2 1191.7L1310.0 1192.7L1310.8 1192.8L1311.6 1193.5L1312.4 1193.3L1313.2 1192.1L1314.0 1191.0L1314.8 1193.6L1315.6 1192.7L1316.4 1192.2L1317.2 1195.8L1318.0 1191.8L1318.8 1191.8L1319.5 1193.0" fill="none" stroke="#000" stroke-width="3.2" stroke-linejoin="round" stroke-linecap="round"/>
<path d="M1094.8 1290.9L1095.6 1291.1L1096.4 1289.7L1097.2 1291.4L1098.0 1289.4L1098.8 1290.2L1099.6 1290.6L1100.4 1288.4L1101.2 1290.6L1102.0 1287.5L1102.8 1293.4L1103.6 1292.0L1104.4 1292.8L1105.2 1290.0L1106.0 1288.7L1106.8 1290.7L1107.6 1291.9L1108.4 1291.0L1109.2 1290.3L1110.0 1289.8L1110.8 1294.2L1111.6 1292.4L1112.4 1289.7L1113.2 1291.5L1114.0 1290.6L1114.8 1290.0L1115.6 1289.7L1116.4 1290.4L1117.2 1292.0L1118.0 1291.4L1118.8 1289.0L1119.6 1287.9L1120.4 1291.2L1121.2 1290.8L1122.0 1286.7L1122.8 1288.2L1123.6 1292.0L1124.4 1288.7L1125.2 1288.6L1126.0 1288.8L1126.8 1288.4L1127.6 1289.7L1128.4 1289.4L1129.2 1285.2L1130.0 1289.2L1130.8 1289.8L1131.6 1288.2L1132.4 1290.3L1133.2 1291.9L1134.0 1290.5L1134.8 1289.6L1135.6 1289.8L1136.4 1289.4L1137.2 1291.2L1138.0 1292.0L1138.8 1290.7L1139.6 1292.4L1140.4 1292.6L1141.2 1292.9L1142.0 1292.0L1142.8 1289.7L1143.6 1291.7L1144.4 1289.8L1145.2 1290.6L1146.0 1292.2L1146.8 1286.5L1147.6 1287.3L1148.4 1290.5L1149.2 1291.5L1150.0 1291.2L1150.8 1293.7L1151.6 1289.9L1152.4 1288.8L1153.2 1292.0L1154.0 1288.9L1154.8 1289.6L1155.6 1291.4L1156.4 1291.4L1157.2 1285.1L1158.0 1291.2L1158.8 1290.9L1159.6 1289.8L1160.4 1292.0L1161.2 1291.5L1162.0 1290.7L1162.8 1292.6L1163.6 1287.2L1164.4 1289.4L1165.2 1291.5L1166.0 1288.9L1166.8 1289.2L1167.6 1290.6L1168.4 1292.7L1169.2 1289.0L1170.0 1291.2L1170.8 1292.6L1171.6 1291.6L1172.4 1290.2L1173.2 1289.9L1174.0 1291.1L1174.8 1289.9L1175.6 1289.7L1176.4 1289.9L1177.2 1289.9L1178.0 1292.0L1178.8 1293.4L1179.6 1290.8L1180.4 1293.7L1181.0 1290.9L1181.2 1288.7L1182.0 1289.6L1182.8 1285.2L1182.9 1288.5L1183.6 1265.9L1184.4 1246.8L1185.0 1227.4L1185.2 1223.5L1186.0 1215.0L1186.2 1215.3L1186.8 1217.0L1187.6 1220.4L1188.4 1219.0L1189.2 1215.0L1190.0 1217.0L1190.8 1215.3L1191.6 1217.5L1192.4 1215.8L1192.5 1216.8L1193.2 1225.4L1194.0 1226.1L1194.8 1234.2L1195.1 1234.5L1195.6 1243.5L1196.4 1252.5L1197.2 1260.6L1198.0 1266.5L1198.4 1273.8L1198.8 1271.8L1199.6 1269.4L1200.4 1262.2L1201.2 1255.4L1202.0 1254.8L1202.7 1248.8L1202.8 1251.0L1203.6 1255.6L1204.4 1260.5L1205.2 1267.4L1206.0 1269.8L1206.8 1271.9L1207.6 1269.1L1208.4 1265.8L1209.2 1266.5L1210.0 1266.6L1210.3 1266.1L1210.8 1267.6L1211.6 1266.8L1212.4 1265.6L1213.2 1267.6L1214.0 1266.8L1214.8 1269.1L1215.6 1267.0L1216.4 1264.6L1217.2 1266.1L1218.0 1267.7L1218.8 1269.8L1219.6 1267.5L1220.4 1264.2L1221.2 1267.2L1222.0 1264.8L1222.8 1264.1L1223.6 1266.5L1224.4 1266.3L1225.2 1267.3L1226.0 1266.6L1226.8 1265.1L1227.6 1268.9L1228.4 1267.0L1229.2 1267.3L1230.0 1265.2L1230.8 1267.8L1231.6 1265.9L1232.4 1267.1L1233.2 1262.1L1234.0 1267.9L1234.8 1267.9L1235.6 1262.9L1236.4 1265.7L1237.2 1265.7L1238.0 1266.5L1238.8 1262.4L1239.6 1263.6L1240.4 1264.5L1241.2 1265.0L1242.0 1267.7L1242.8 1266.8L1243.6 1269.4L1244.4 1268.7L1245.2 1267.5L1245.9 1266.2L1246.0 1267.5L1246.8 1264.5L1247.6 1265.1L1248.4 1267.0L1249.2 1270.2L1250.0 1270.5L1250.8 1265.7L1251.6 1267.7L1252.4 1265.7L1253.2 1265.3L1254.0 1265.9L1254.8 1267.7L1255.6 1265.6L1256.4 1267.8L1257.2 1267.9L1258.0 1266.6L1258.8 1268.4L1259.6 1268.3L1260.4 1267.2L1261.2 1266.5L1262.0 1266.8L1262.8 1266.4L1263.6 1267.7L1264.4 1268.3L1265.2 1266.9L1266.0 1267.7L1266.8 1268.2L1267.6 1269.8L1268.4 1271.5L1269.2 1265.7L1270.0 1269.1L1270.8 1271.5L1271.6 1267.6L1272.4 1266.8L1273.2 1266.2L1274.0 1268.8L1274.8 1270.4L1275.6 1269.5L1276.4 1264.2L1277.2 1269.1L1278.0 1268.3L1278.8 1267.2L1279.6 1267.6L1280.4 1271.0L1281.2 1269.7L1282.0 1268.8L1282.8 1271.1L1283.6 1270.5L1284.4 1269.6L1285.2 1270.2L1286.0 1266.9L1286.8 1267.5L1287.6 1268.1L1288.4 1272.7L1289.2 1268.3L1290.0 1268.7L1290.8 1269.1L1291.6 1270.1L1292.4 1269.3L1293.2 1273.4L1294.0 1273.3L1294.8 1273.3L1295.6 1269.0L1296.4 1271.4L1297.2 1270.9L1298.0 1270.4L1298.8 1270.7L1299.6 1270.8L1300.4 1270.3L1301.2 1269.7L1302.0 1272.0L1302.8 1270.7L1303.6 1270.1L1304.4 1271.9L1305.2 1272.7L1306.0 1268.7L1306.8 1268.9L1307.6 1272.9L1308.4 1271.8L1309.2 1272.9L1310.0 1272.6L1310.8 1271.4L1311.6 1272.7L1312.4 1272.2L1313.2 1272.4L1314.0 1274.3L1314.8 1274.9L1315.6 1273.0L1316.4 1275.7L1317.2 1270.2L1318.0 1272.0L1318.8 1273.2L1319.5 1272.6" fill="none" stroke="#000" stroke-width="3.2" stroke-linejoin="round" stroke-linecap="round"/>
<line x1="323.4" y1="739.5" x2="339.4" y2="702.5" stroke="#000" stroke-width="2.4"/>
<line x1="342.4" y1="739.5" x2="358.4" y2="702.5" stroke="#000" stroke-width="2.4"/>
<line x1="323.4" y1="825.5" x2="339.4" y2="788.5" stroke="#000" stroke-width="2.4"/>
<line x1="342.4" y1="825.5" x2="358.4" y2="788.5" stroke="#000" stroke-width="2.4"/>
<line x1="323.4" y1="893.0" x2="339.4" y2="856.0" stroke="#000" stroke-width="2.4"/>
<line x1="342.4" y1="893.0" x2="358.4" y2="856.0" stroke="#000" stroke-width="2.4"/>
<line x1="323.4" y1="977.0" x2="339.4" y2="940.0" stroke="#000" stroke-width="2.4"/>
<line x1="342.4" y1="977.0" x2="358.4" y2="940.0" stroke="#000" stroke-width="2.4"/>
<line x1="323.4" y1="1052.7" x2="339.4" y2="1015.7" stroke="#000" stroke-width="2.4"/>
<line x1="342.4" y1="1052.7" x2="358.4" y2="1015.7" stroke="#000" stroke-width="2.4"/>
<line x1="323.4" y1="1139.0" x2="339.4" y2="1102.0" stroke="#000" stroke-width="2.4"/>
<line x1="342.4" y1="1139.0" x2="358.4" y2="1102.0" stroke="#000" stroke-width="2.4"/>
<line x1="323.4" y1="1226.5" x2="339.4" y2="1189.5" stroke="#000" stroke-width="2.4"/>
<line x1="342.4" y1="1226.5" x2="358.4" y2="1189.5" stroke="#000" stroke-width="2.4"/>
<line x1="323.4" y1="1310.8" x2="339.4" y2="1273.8" stroke="#000" stroke-width="2.4"/>
<line x1="342.4" y1="1310.8" x2="358.4" y2="1273.8" stroke="#000" stroke-width="2.4"/>
<line x1="1062.0" y1="738.2" x2="1078.2" y2="701.2" stroke="#000" stroke-width="2.4"/>
<line x1="1080.4" y1="738.2" x2="1096.6" y2="701.2" stroke="#000" stroke-width="2.4"/>
<line x1="1062.0" y1="804.9" x2="1078.2" y2="767.9" stroke="#000" stroke-width="2.4"/>
<line x1="1080.4" y1="804.9" x2="1096.6" y2="767.9" stroke="#000" stroke-width="2.4"/>
<line x1="1062.0" y1="892.5" x2="1078.2" y2="855.5" stroke="#000" stroke-width="2.4"/>
<line x1="1080.4" y1="892.5" x2="1096.6" y2="855.5" stroke="#000" stroke-width="2.4"/>
<line x1="1062.0" y1="977.5" x2="1078.2" y2="940.5" stroke="#000" stroke-width="2.4"/>
<line x1="1080.4" y1="977.5" x2="1096.6" y2="940.5" stroke="#000" stroke-width="2.4"/>
<line x1="1062.0" y1="1060.5" x2="1078.2" y2="1023.5" stroke="#000" stroke-width="2.4"/>
<line x1="1080.4" y1="1060.5" x2="1096.6" y2="1023.5" stroke="#000" stroke-width="2.4"/>
<line x1="1062.0" y1="1151.5" x2="1078.2" y2="1114.5" stroke="#000" stroke-width="2.4"/>
<line x1="1080.4" y1="1151.5" x2="1096.6" y2="1114.5" stroke="#000" stroke-width="2.4"/>
<line x1="1062.0" y1="1224.5" x2="1078.2" y2="1187.5" stroke="#000" stroke-width="2.4"/>
<line x1="1080.4" y1="1224.5" x2="1096.6" y2="1187.5" stroke="#000" stroke-width="2.4"/>
<line x1="1062.0" y1="1311.5" x2="1078.2" y2="1274.5" stroke="#000" stroke-width="2.4"/>
<line x1="1080.4" y1="1311.5" x2="1096.6" y2="1274.5" stroke="#000" stroke-width="2.4"/>
<text x="68.0" y="735.0" font-size="25" text-anchor="start" fill="#f08a12" font-weight="normal" >a</text>
<text x="68.0" y="815.0" font-size="25" text-anchor="start" fill="#f08a12" font-weight="normal" >b</text>
<text x="68.0" y="880.0" font-size="25" text-anchor="start" fill="#f08a12" font-weight="normal" >c</text>
<text x="68.0" y="964.0" font-size="25" text-anchor="start" fill="#f08a12" font-weight="normal" >d</text>
<text x="68.0" y="1038.0" font-size="25" text-anchor="start" fill="#f08a12" font-weight="normal" >e</text>
<text x="68.0" y="1129.0" font-size="25" text-anchor="start" fill="#f08a12" font-weight="normal" >f</text>
<text x="68.0" y="1217.0" font-size="25" text-anchor="start" fill="#f08a12" font-weight="normal" >g</text>
<text x="68.0" y="1301.5" font-size="25" text-anchor="start" fill="#f08a12" font-weight="normal" >h</text>
<text x="813.0" y="729.0" font-size="25" text-anchor="start" fill="#f08a12" font-weight="normal" >a</text>
<text x="813.0" y="796.5" font-size="25" text-anchor="start" fill="#f08a12" font-weight="normal" >b</text>
<text x="813.0" y="881.5" font-size="25" text-anchor="start" fill="#f08a12" font-weight="normal" >c</text>
<text x="813.0" y="965.0" font-size="25" text-anchor="start" fill="#f08a12" font-weight="normal" >d</text>
<text x="813.0" y="1049.0" font-size="25" text-anchor="start" fill="#f08a12" font-weight="normal" >e</text>
<text x="813.0" y="1145.5" font-size="25" text-anchor="start" fill="#f08a12" font-weight="normal" >f</text>
<text x="813.0" y="1210.0" font-size="25" text-anchor="start" fill="#f08a12" font-weight="normal" >g</text>
<text x="813.0" y="1298.0" font-size="25" text-anchor="start" fill="#f08a12" font-weight="normal" >h</text>
<path d="M604.7 1252.3 V1286.7 H642.2" fill="none" stroke="#000" stroke-width="2"/>
<text x="610.0" y="1273.5" font-size="25" text-anchor="start" fill="#000" font-weight="normal" >1Δ<tspan font-style="italic">F</tspan>/<tspan font-style="italic">F</tspan></text>
<text x="591.0" y="1310.0" font-size="25" text-anchor="start" fill="#000" font-weight="normal" >1 min</text>
<path d="M1341.6 1249.8 V1284.8 H1378.4" fill="none" stroke="#000" stroke-width="2"/>
<text x="1348.0" y="1274.0" font-size="25" text-anchor="start" fill="#000" font-weight="normal" >1Δ<tspan font-style="italic">F</tspan>/<tspan font-style="italic">F</tspan></text>
<text x="1331.0" y="1310.2" font-size="25" text-anchor="start" fill="#000" font-weight="normal" >1 min</text>
<line x1="470.7" y1="1801.3" x2="731.4" y2="1542.3" stroke="#000" stroke-width="2.6"/>
<circle cx="540.0" cy="1675.6" r="3.6" fill="#6ecde0" stroke="#111" stroke-width="0.9"/>
<circle cx="548.3" cy="1770.2" r="3.6" fill="#6ecde0" stroke="#111" stroke-width="0.9"/>
<circle cx="529.6" cy="1732.3" r="3.6" fill="#6ecde0" stroke="#111" stroke-width="0.9"/>
<circle cx="565.6" cy="1694.1" r="3.6" fill="#6ecde0" stroke="#111" stroke-width="0.9"/>
<circle cx="521.9" cy="1749.3" r="3.6" fill="#6ecde0" stroke="#111" stroke-width="0.9"/>
<circle cx="549.0" cy="1695.2" r="3.6" fill="#6ecde0" stroke="#111" stroke-width="0.9"/>
<circle cx="545.8" cy="1706.6" r="3.6" fill="#6ecde0" stroke="#111" stroke-width="0.9"/>
<circle cx="516.4" cy="1737.0" r="3.6" fill="#6ecde0" stroke="#111" stroke-width="0.9"/>
<circle cx="556.4" cy="1679.6" r="3.6" fill="#6ecde0" stroke="#111" stroke-width="0.9"/>
<circle cx="534.8" cy="1695.7" r="3.6" fill="#6ecde0" stroke="#111" stroke-width="0.9"/>
<circle cx="543.4" cy="1712.0" r="3.6" fill="#6ecde0" stroke="#111" stroke-width="0.9"/>
<circle cx="565.6" cy="1692.7" r="3.6" fill="#6ecde0" stroke="#111" stroke-width="0.9"/>
<circle cx="579.7" cy="1683.5" r="3.6" fill="#6ecde0" stroke="#111" stroke-width="0.9"/>
<circle cx="579.7" cy="1681.6" r="3.6" fill="#6ecde0" stroke="#111" stroke-width="0.9"/>
<circle cx="538.4" cy="1707.9" r="3.6" fill="#6ecde0" stroke="#111" stroke-width="0.9"/>
<circle cx="563.8" cy="1709.5" r="3.6" fill="#6ecde0" stroke="#111" stroke-width="0.9"/>
<circle cx="551.8" cy="1698.9" r="3.6" fill="#6ecde0" stroke="#111" stroke-width="0.9"/>
<circle cx="579.1" cy="1677.9" r="3.6" fill="#6ecde0" stroke="#111" stroke-width="0.9"/>
<circle cx="543.5" cy="1698.1" r="3.6" fill="#6ecde0" stroke="#111" stroke-width="0.9"/>
<circle cx="569.6" cy="1690.3" r="3.6" fill="#6ecde0" stroke="#111" stroke-width="0.9"/>
<circle cx="582.0" cy="1673.1" r="3.6" fill="#6ecde0" stroke="#111" stroke-width="0.9"/>
<circle cx="528.0" cy="1738.8" r="3.6" fill="#6ecde0" stroke="#111" stroke-width="0.9"/>
<circle cx="532.2" cy="1740.3" r="3.6" fill="#6ecde0" stroke="#111" stroke-width="0.9"/>
<circle cx="551.0" cy="1696.0" r="3.6" fill="#6ecde0" stroke="#111" stroke-width="0.9"/>
<circle cx="543.3" cy="1719.1" r="3.6" fill="#6ecde0" stroke="#111" stroke-width="0.9"/>
<circle cx="557.0" cy="1717.3" r="3.6" fill="#6ecde0" stroke="#111" stroke-width="0.9"/>
<circle cx="580.6" cy="1679.7" r="3.6" fill="#6ecde0" stroke="#111" stroke-width="0.9"/>
<circle cx="533.6" cy="1722.5" r="3.6" fill="#6ecde0" stroke="#111" stroke-width="0.9"/>
<circle cx="538.5" cy="1722.4" r="3.6" fill="#6ecde0" stroke="#111" stroke-width="0.9"/>
<circle cx="529.0" cy="1738.9" r="3.6" fill="#6ecde0" stroke="#111" stroke-width="0.9"/>
<circle cx="574.8" cy="1688.0" r="3.6" fill="#6ecde0" stroke="#111" stroke-width="0.9"/>
<circle cx="547.4" cy="1701.1" r="3.6" fill="#6ecde0" stroke="#111" stroke-width="0.9"/>
<circle cx="535.6" cy="1757.6" r="3.6" fill="#6ecde0" stroke="#111" stroke-width="0.9"/>
<circle cx="517.6" cy="1734.0" r="3.6" fill="#6ecde0" stroke="#111" stroke-width="0.9"/>
<circle cx="520.9" cy="1740.9" r="3.6" fill="#6ecde0" stroke="#111" stroke-width="0.9"/>
<circle cx="558.2" cy="1703.9" r="3.6" fill="#6ecde0" stroke="#111" stroke-width="0.9"/>
<circle cx="551.6" cy="1686.0" r="3.6" fill="#6ecde0" stroke="#111" stroke-width="0.9"/>
<circle cx="560.2" cy="1711.1" r="3.6" fill="#6ecde0" stroke="#111" stroke-width="0.9"/>
<circle cx="529.4" cy="1722.8" r="3.6" fill="#6ecde0" stroke="#111" stroke-width="0.9"/>
<circle cx="528.0" cy="1744.0" r="3.6" fill="#6ecde0" stroke="#111" stroke-width="0.9"/>
<circle cx="547.0" cy="1701.8" r="3.6" fill="#6ecde0" stroke="#111" stroke-width="0.9"/>
<circle cx="558.6" cy="1677.4" r="3.6" fill="#6ecde0" stroke="#111" stroke-width="0.9"/>
<circle cx="558.2" cy="1678.3" r="3.6" fill="#6ecde0" stroke="#111" stroke-width="0.9"/>
<circle cx="529.2" cy="1726.7" r="3.6" fill="#6ecde0" stroke="#111" stroke-width="0.9"/>
<circle cx="537.1" cy="1719.0" r="3.6" fill="#6ecde0" stroke="#111" stroke-width="0.9"/>
<circle cx="546.3" cy="1706.3" r="3.6" fill="#6ecde0" stroke="#111" stroke-width="0.9"/>
<circle cx="583.7" cy="1647.8" r="3.6" fill="#6ecde0" stroke="#111" stroke-width="0.9"/>
<circle cx="545.8" cy="1706.8" r="3.6" fill="#6ecde0" stroke="#111" stroke-width="0.9"/>
<circle cx="571.9" cy="1713.5" r="3.6" fill="#6ecde0" stroke="#111" stroke-width="0.9"/>
<circle cx="577.3" cy="1647.3" r="3.6" fill="#6ecde0" stroke="#111" stroke-width="0.9"/>
<circle cx="561.7" cy="1664.2" r="3.6" fill="#6ecde0" stroke="#111" stroke-width="0.9"/>
<circle cx="556.7" cy="1714.0" r="3.6" fill="#6ecde0" stroke="#111" stroke-width="0.9"/>
<circle cx="583.4" cy="1656.9" r="3.6" fill="#6ecde0" stroke="#111" stroke-width="0.9"/>
<circle cx="554.2" cy="1694.0" r="3.6" fill="#6ecde0" stroke="#111" stroke-width="0.9"/>
<circle cx="555.2" cy="1704.8" r="3.6" fill="#6ecde0" stroke="#111" stroke-width="0.9"/>
<circle cx="551.9" cy="1671.4" r="3.6" fill="#6ecde0" stroke="#111" stroke-width="0.9"/>
<circle cx="554.9" cy="1670.3" r="3.6" fill="#6ecde0" stroke="#111" stroke-width="0.9"/>
<circle cx="564.9" cy="1696.5" r="3.6" fill="#6ecde0" stroke="#111" stroke-width="0.9"/>
<circle cx="587.8" cy="1662.9" r="3.6" fill="#6ecde0" stroke="#111" stroke-width="0.9"/>
<circle cx="550.1" cy="1728.4" r="3.6" fill="#6ecde0" stroke="#111" stroke-width="0.9"/>
<circle cx="559.9" cy="1700.2" r="3.6" fill="#6ecde0" stroke="#111" stroke-width="0.9"/>
<circle cx="579.7" cy="1699.9" r="3.6" fill="#6ecde0" stroke="#111" stroke-width="0.9"/>
<circle cx="515.1" cy="1768.2" r="3.6" fill="#6ecde0" stroke="#111" stroke-width="0.9"/>
<circle cx="551.9" cy="1692.0" r="3.6" fill="#6ecde0" stroke="#111" stroke-width="0.9"/>
<circle cx="547.0" cy="1716.9" r="3.6" fill="#6ecde0" stroke="#111" stroke-width="0.9"/>
<circle cx="584.5" cy="1584.5" r="3.6" fill="#6ecde0" stroke="#111" stroke-width="0.9"/>
<circle cx="543.1" cy="1705.6" r="3.6" fill="#6ecde0" stroke="#111" stroke-width="0.9"/>
<circle cx="542.9" cy="1725.6" r="3.6" fill="#6ecde0" stroke="#111" stroke-width="0.9"/>
<circle cx="588.3" cy="1706.0" r="3.6" fill="#6ecde0" stroke="#111" stroke-width="0.9"/>
<circle cx="530.7" cy="1739.1" r="3.6" fill="#6ecde0" stroke="#111" stroke-width="0.9"/>
<circle cx="555.4" cy="1693.1" r="3.6" fill="#6ecde0" stroke="#111" stroke-width="0.9"/>
<circle cx="537.3" cy="1731.3" r="3.6" fill="#6ecde0" stroke="#111" stroke-width="0.9"/>
<circle cx="558.3" cy="1686.7" r="3.6" fill="#6ecde0" stroke="#111" stroke-width="0.9"/>
<circle cx="518.1" cy="1748.9" r="3.6" fill="#6ecde0" stroke="#111" stroke-width="0.9"/>
<circle cx="549.6" cy="1725.7" r="3.6" fill="#6ecde0" stroke="#111" stroke-width="0.9"/>
<circle cx="564.1" cy="1716.6" r="3.6" fill="#6ecde0" stroke="#111" stroke-width="0.9"/>
<circle cx="554.9" cy="1733.1" r="3.6" fill="#6ecde0" stroke="#111" stroke-width="0.9"/>
<circle cx="569.3" cy="1691.8" r="3.6" fill="#6ecde0" stroke="#111" stroke-width="0.9"/>
<circle cx="608.4" cy="1663.6" r="3.6" fill="#6ecde0" stroke="#111" stroke-width="0.9"/>
<circle cx="550.7" cy="1722.7" r="3.6" fill="#6ecde0" stroke="#111" stroke-width="0.9"/>
<circle cx="549.6" cy="1663.2" r="3.6" fill="#6ecde0" stroke="#111" stroke-width="0.9"/>
<circle cx="541.3" cy="1704.4" r="3.6" fill="#6ecde0" stroke="#111" stroke-width="0.9"/>
<circle cx="558.0" cy="1684.4" r="3.6" fill="#6ecde0" stroke="#111" stroke-width="0.9"/>
<circle cx="554.3" cy="1702.1" r="3.6" fill="#6ecde0" stroke="#111" stroke-width="0.9"/>
<circle cx="553.0" cy="1690.4" r="3.6" fill="#6ecde0" stroke="#111" stroke-width="0.9"/>
<circle cx="559.8" cy="1668.1" r="3.6" fill="#6ecde0" stroke="#111" stroke-width="0.9"/>
<circle cx="556.5" cy="1690.5" r="3.6" fill="#6ecde0" stroke="#111" stroke-width="0.9"/>
<circle cx="599.3" cy="1669.0" r="3.6" fill="#6ecde0" stroke="#111" stroke-width="0.9"/>
<circle cx="550.5" cy="1710.0" r="3.6" fill="#6ecde0" stroke="#111" stroke-width="0.9"/>
<circle cx="531.9" cy="1716.4" r="3.6" fill="#6ecde0" stroke="#111" stroke-width="0.9"/>
<circle cx="578.7" cy="1649.5" r="3.6" fill="#6ecde0" stroke="#111" stroke-width="0.9"/>
<circle cx="632.1" cy="1629.0" r="3.6" fill="#6ecde0" stroke="#111" stroke-width="0.9"/>
<circle cx="556.5" cy="1676.8" r="3.6" fill="#6ecde0" stroke="#111" stroke-width="0.9"/>
<circle cx="569.7" cy="1673.6" r="3.6" fill="#6ecde0" stroke="#111" stroke-width="0.9"/>
<circle cx="551.1" cy="1688.2" r="3.6" fill="#6ecde0" stroke="#111" stroke-width="0.9"/>
<circle cx="536.5" cy="1737.9" r="3.6" fill="#6ecde0" stroke="#111" stroke-width="0.9"/>
<circle cx="555.1" cy="1704.9" r="3.6" fill="#6ecde0" stroke="#111" stroke-width="0.9"/>
<circle cx="532.6" cy="1743.0" r="3.6" fill="#6ecde0" stroke="#111" stroke-width="0.9"/>
<circle cx="575.9" cy="1690.7" r="3.6" fill="#6ecde0" stroke="#111" stroke-width="0.9"/>
<circle cx="581.2" cy="1661.7" r="3.6" fill="#6ecde0" stroke="#111" stroke-width="0.9"/>
<circle cx="524.0" cy="1770.2" r="3.6" fill="#6ecde0" stroke="#111" stroke-width="0.9"/>
<circle cx="554.0" cy="1697.6" r="3.6" fill="#6ecde0" stroke="#111" stroke-width="0.9"/>
<circle cx="567.0" cy="1678.7" r="3.6" fill="#6ecde0" stroke="#111" stroke-width="0.9"/>
<circle cx="604.0" cy="1654.7" r="3.6" fill="#6ecde0" stroke="#111" stroke-width="0.9"/>
<circle cx="552.4" cy="1687.5" r="3.6" fill="#6ecde0" stroke="#111" stroke-width="0.9"/>
<circle cx="569.2" cy="1701.8" r="3.6" fill="#6ecde0" stroke="#111" stroke-width="0.9"/>
<circle cx="589.6" cy="1672.3" r="3.6" fill="#6ecde0" stroke="#111" stroke-width="0.9"/>
<circle cx="579.4" cy="1716.0" r="3.6" fill="#6ecde0" stroke="#111" stroke-width="0.9"/>
<circle cx="539.4" cy="1727.2" r="3.6" fill="#6ecde0" stroke="#111" stroke-width="0.9"/>
<circle cx="562.6" cy="1695.6" r="3.6" fill="#6ecde0" stroke="#111" stroke-width="0.9"/>
<circle cx="553.8" cy="1699.3" r="3.6" fill="#6ecde0" stroke="#111" stroke-width="0.9"/>
<circle cx="575.3" cy="1690.3" r="3.6" fill="#6ecde0" stroke="#111" stroke-width="0.9"/>
<circle cx="550.2" cy="1710.2" r="3.6" fill="#6ecde0" stroke="#111" stroke-width="0.9"/>
<circle cx="559.7" cy="1645.8" r="3.6" fill="#6ecde0" stroke="#111" stroke-width="0.9"/>
<circle cx="530.9" cy="1759.5" r="3.6" fill="#6ecde0" stroke="#111" stroke-width="0.9"/>
<circle cx="571.2" cy="1685.8" r="3.6" fill="#6ecde0" stroke="#111" stroke-width="0.9"/>
<circle cx="592.9" cy="1676.8" r="3.6" fill="#6ecde0" stroke="#111" stroke-width="0.9"/>
<circle cx="544.6" cy="1733.5" r="3.6" fill="#6ecde0" stroke="#111" stroke-width="0.9"/>
<circle cx="536.7" cy="1716.6" r="3.6" fill="#6ecde0" stroke="#111" stroke-width="0.9"/>
<circle cx="553.5" cy="1710.5" r="3.6" fill="#6ecde0" stroke="#111" stroke-width="0.9"/>
<circle cx="562.5" cy="1684.1" r="3.6" fill="#6ecde0" stroke="#111" stroke-width="0.9"/>
<circle cx="548.2" cy="1690.7" r="3.6" fill="#6ecde0" stroke="#111" stroke-width="0.9"/>
<circle cx="547.0" cy="1730.1" r="3.6" fill="#6ecde0" stroke="#111" stroke-width="0.9"/>
<circle cx="534.7" cy="1707.3" r="3.6" fill="#6ecde0" stroke="#111" stroke-width="0.9"/>
<circle cx="537.0" cy="1730.9" r="3.6" fill="#6ecde0" stroke="#111" stroke-width="0.9"/>
<circle cx="590.8" cy="1663.4" r="3.6" fill="#6ecde0" stroke="#111" stroke-width="0.9"/>
<circle cx="564.2" cy="1716.5" r="3.6" fill="#6ecde0" stroke="#111" stroke-width="0.9"/>
<circle cx="549.7" cy="1702.6" r="3.6" fill="#6ecde0" stroke="#111" stroke-width="0.9"/>
<circle cx="565.5" cy="1664.6" r="3.6" fill="#6ecde0" stroke="#111" stroke-width="0.9"/>
<circle cx="562.9" cy="1718.4" r="3.6" fill="#6ecde0" stroke="#111" stroke-width="0.9"/>
<circle cx="542.7" cy="1709.8" r="3.6" fill="#6ecde0" stroke="#111" stroke-width="0.9"/>
<circle cx="584.6" cy="1649.4" r="3.6" fill="#6ecde0" stroke="#111" stroke-width="0.9"/>
<circle cx="553.7" cy="1680.3" r="3.6" fill="#b64ea4" stroke="#111" stroke-width="0.9"/>
<circle cx="554.5" cy="1701.8" r="3.6" fill="#b64ea4" stroke="#111" stroke-width="0.9"/>
<circle cx="551.3" cy="1711.7" r="3.6" fill="#b64ea4" stroke="#111" stroke-width="0.9"/>
<circle cx="588.9" cy="1691.1" r="3.6" fill="#b64ea4" stroke="#111" stroke-width="0.9"/>
<circle cx="531.2" cy="1739.5" r="3.6" fill="#b64ea4" stroke="#111" stroke-width="0.9"/>
<circle cx="582.4" cy="1681.1" r="3.6" fill="#b64ea4" stroke="#111" stroke-width="0.9"/>
<circle cx="562.9" cy="1696.4" r="3.6" fill="#b64ea4" stroke="#111" stroke-width="0.9"/>
<circle cx="527.9" cy="1741.7" r="3.6" fill="#b64ea4" stroke="#111" stroke-width="0.9"/>
<circle cx="639.8" cy="1587.5" r="3.6" fill="#b64ea4" stroke="#111" stroke-width="0.9"/>
<circle cx="502.7" cy="1755.4" r="3.6" fill="#b64ea4" stroke="#111" stroke-width="0.9"/>
<circle cx="531.9" cy="1727.8" r="3.6" fill="#b64ea4" stroke="#111" stroke-width="0.9"/>
<circle cx="541.8" cy="1710.8" r="3.6" fill="#b64ea4" stroke="#111" stroke-width="0.9"/>
<circle cx="533.2" cy="1742.8" r="3.6" fill="#b64ea4" stroke="#111" stroke-width="0.9"/>
<circle cx="499.4" cy="1759.9" r="3.6" fill="#b64ea4" stroke="#111" stroke-width="0.9"/>
<circle cx="565.9" cy="1703.3" r="3.6" fill="#b64ea4" stroke="#111" stroke-width="0.9"/>
<circle cx="601.3" cy="1649.8" r="3.6" fill="#b64ea4" stroke="#111" stroke-width="0.9"/>
<circle cx="570.3" cy="1694.2" r="3.6" fill="#b64ea4" stroke="#111" stroke-width="0.9"/>
<circle cx="551.7" cy="1702.7" r="3.6" fill="#b64ea4" stroke="#111" stroke-width="0.9"/>
<circle cx="586.6" cy="1681.0" r="3.6" fill="#b64ea4" stroke="#111" stroke-width="0.9"/>
<circle cx="539.0" cy="1722.2" r="3.6" fill="#b64ea4" stroke="#111" stroke-width="0.9"/>
<circle cx="574.0" cy="1710.7" r="3.6" fill="#b64ea4" stroke="#111" stroke-width="0.9"/>
<circle cx="615.3" cy="1637.5" r="3.6" fill="#b64ea4" stroke="#111" stroke-width="0.9"/>
<circle cx="539.0" cy="1749.3" r="3.6" fill="#b64ea4" stroke="#111" stroke-width="0.9"/>
<circle cx="525.6" cy="1732.3" r="3.6" fill="#b64ea4" stroke="#111" stroke-width="0.9"/>
<circle cx="589.8" cy="1697.7" r="3.6" fill="#b64ea4" stroke="#111" stroke-width="0.9"/>
<circle cx="628.6" cy="1611.2" r="3.6" fill="#b64ea4" stroke="#111" stroke-width="0.9"/>
<circle cx="556.2" cy="1714.3" r="3.6" fill="#b64ea4" stroke="#111" stroke-width="0.9"/>
<circle cx="559.0" cy="1696.3" r="3.6" fill="#b64ea4" stroke="#111" stroke-width="0.9"/>
<circle cx="556.3" cy="1696.6" r="3.6" fill="#b64ea4" stroke="#111" stroke-width="0.9"/>
<circle cx="537.4" cy="1703.5" r="3.6" fill="#b64ea4" stroke="#111" stroke-width="0.9"/>
<circle cx="542.6" cy="1738.3" r="3.6" fill="#b64ea4" stroke="#111" stroke-width="0.9"/>
<circle cx="588.2" cy="1667.4" r="3.6" fill="#b64ea4" stroke="#111" stroke-width="0.9"/>
<circle cx="549.1" cy="1718.2" r="3.6" fill="#b64ea4" stroke="#111" stroke-width="0.9"/>
<circle cx="568.7" cy="1664.1" r="3.6" fill="#b64ea4" stroke="#111" stroke-width="0.9"/>
<circle cx="565.2" cy="1676.2" r="3.6" fill="#b64ea4" stroke="#111" stroke-width="0.9"/>
<circle cx="511.6" cy="1723.7" r="3.6" fill="#b64ea4" stroke="#111" stroke-width="0.9"/>
<circle cx="550.1" cy="1720.1" r="3.6" fill="#b64ea4" stroke="#111" stroke-width="0.9"/>
<circle cx="545.9" cy="1719.8" r="3.6" fill="#b64ea4" stroke="#111" stroke-width="0.9"/>
<circle cx="539.1" cy="1703.8" r="3.6" fill="#b64ea4" stroke="#111" stroke-width="0.9"/>
<circle cx="563.1" cy="1638.4" r="3.6" fill="#b64ea4" stroke="#111" stroke-width="0.9"/>
<circle cx="596.8" cy="1675.7" r="3.6" fill="#b64ea4" stroke="#111" stroke-width="0.9"/>
<circle cx="577.8" cy="1665.0" r="3.6" fill="#b64ea4" stroke="#111" stroke-width="0.9"/>
<circle cx="544.6" cy="1737.0" r="3.6" fill="#b64ea4" stroke="#111" stroke-width="0.9"/>
<circle cx="534.5" cy="1701.8" r="3.6" fill="#b64ea4" stroke="#111" stroke-width="0.9"/>
<circle cx="569.5" cy="1703.8" r="3.6" fill="#b64ea4" stroke="#111" stroke-width="0.9"/>
<circle cx="550.6" cy="1702.9" r="3.6" fill="#b64ea4" stroke="#111" stroke-width="0.9"/>
<circle cx="560.5" cy="1688.4" r="3.6" fill="#b64ea4" stroke="#111" stroke-width="0.9"/>
<circle cx="535.5" cy="1729.3" r="3.6" fill="#b64ea4" stroke="#111" stroke-width="0.9"/>
<circle cx="550.9" cy="1724.8" r="3.6" fill="#b64ea4" stroke="#111" stroke-width="0.9"/>
<circle cx="533.1" cy="1725.2" r="3.6" fill="#b64ea4" stroke="#111" stroke-width="0.9"/>
<circle cx="514.4" cy="1758.0" r="3.6" fill="#b64ea4" stroke="#111" stroke-width="0.9"/>
<circle cx="563.4" cy="1709.2" r="3.6" fill="#b64ea4" stroke="#111" stroke-width="0.9"/>
<circle cx="546.1" cy="1732.9" r="3.6" fill="#b64ea4" stroke="#111" stroke-width="0.9"/>
<circle cx="521.3" cy="1734.7" r="3.6" fill="#b64ea4" stroke="#111" stroke-width="0.9"/>
<circle cx="514.0" cy="1718.4" r="3.6" fill="#b64ea4" stroke="#111" stroke-width="0.9"/>
<circle cx="546.1" cy="1705.4" r="3.6" fill="#b64ea4" stroke="#111" stroke-width="0.9"/>
<circle cx="550.5" cy="1697.4" r="3.6" fill="#b64ea4" stroke="#111" stroke-width="0.9"/>
<circle cx="585.6" cy="1715.5" r="3.6" fill="#b64ea4" stroke="#111" stroke-width="0.9"/>
<circle cx="547.3" cy="1699.4" r="3.6" fill="#b64ea4" stroke="#111" stroke-width="0.9"/>
<circle cx="542.8" cy="1726.2" r="3.6" fill="#b64ea4" stroke="#111" stroke-width="0.9"/>
<circle cx="679.5" cy="1508.1" r="3.6" fill="#b64ea4" stroke="#111" stroke-width="0.9"/>
<circle cx="535.2" cy="1738.0" r="3.6" fill="#b64ea4" stroke="#111" stroke-width="0.9"/>
<circle cx="532.4" cy="1756.2" r="3.6" fill="#b64ea4" stroke="#111" stroke-width="0.9"/>
<circle cx="536.7" cy="1691.1" r="3.6" fill="#b64ea4" stroke="#111" stroke-width="0.9"/>
<circle cx="559.6" cy="1647.3" r="3.6" fill="#b64ea4" stroke="#111" stroke-width="0.9"/>
<circle cx="536.8" cy="1706.2" r="3.6" fill="#b64ea4" stroke="#111" stroke-width="0.9"/>
<circle cx="583.6" cy="1711.8" r="3.6" fill="#b64ea4" stroke="#111" stroke-width="0.9"/>
<circle cx="525.0" cy="1730.1" r="3.6" fill="#b64ea4" stroke="#111" stroke-width="0.9"/>
<circle cx="598.1" cy="1623.6" r="3.6" fill="#b64ea4" stroke="#111" stroke-width="0.9"/>
<circle cx="542.9" cy="1695.3" r="3.6" fill="#b64ea4" stroke="#111" stroke-width="0.9"/>
<circle cx="528.5" cy="1702.9" r="3.6" fill="#b64ea4" stroke="#111" stroke-width="0.9"/>
<circle cx="551.1" cy="1705.5" r="3.6" fill="#b64ea4" stroke="#111" stroke-width="0.9"/>
<circle cx="541.9" cy="1722.7" r="3.6" fill="#b64ea4" stroke="#111" stroke-width="0.9"/>
<circle cx="517.6" cy="1754.0" r="3.6" fill="#b64ea4" stroke="#111" stroke-width="0.9"/>
<circle cx="555.4" cy="1710.0" r="3.6" fill="#b64ea4" stroke="#111" stroke-width="0.9"/>
<circle cx="553.8" cy="1704.8" r="3.6" fill="#b64ea4" stroke="#111" stroke-width="0.9"/>
<circle cx="554.5" cy="1706.3" r="3.6" fill="#b64ea4" stroke="#111" stroke-width="0.9"/>
<circle cx="536.1" cy="1706.7" r="3.6" fill="#b64ea4" stroke="#111" stroke-width="0.9"/>
<circle cx="521.9" cy="1745.6" r="3.6" fill="#b64ea4" stroke="#111" stroke-width="0.9"/>
<circle cx="569.7" cy="1675.2" r="3.6" fill="#b64ea4" stroke="#111" stroke-width="0.9"/>
<circle cx="573.7" cy="1692.5" r="3.6" fill="#b64ea4" stroke="#111" stroke-width="0.9"/>
<circle cx="572.7" cy="1722.5" r="3.6" fill="#b64ea4" stroke="#111" stroke-width="0.9"/>
<circle cx="551.6" cy="1700.3" r="3.6" fill="#b64ea4" stroke="#111" stroke-width="0.9"/>
<circle cx="567.4" cy="1684.7" r="3.6" fill="#b64ea4" stroke="#111" stroke-width="0.9"/>
<circle cx="608.2" cy="1644.4" r="3.6" fill="#b64ea4" stroke="#111" stroke-width="0.9"/>
<circle cx="557.6" cy="1739.3" r="3.6" fill="#b64ea4" stroke="#111" stroke-width="0.9"/>
<circle cx="558.7" cy="1702.4" r="3.6" fill="#b64ea4" stroke="#111" stroke-width="0.9"/>
<circle cx="614.4" cy="1613.3" r="3.6" fill="#b64ea4" stroke="#111" stroke-width="0.9"/>
<circle cx="515.6" cy="1728.3" r="3.6" fill="#b64ea4" stroke="#111" stroke-width="0.9"/>
<circle cx="575.0" cy="1661.6" r="3.6" fill="#b64ea4" stroke="#111" stroke-width="0.9"/>
<circle cx="557.2" cy="1729.4" r="3.6" fill="#b64ea4" stroke="#111" stroke-width="0.9"/>
<circle cx="563.9" cy="1676.3" r="3.6" fill="#b64ea4" stroke="#111" stroke-width="0.9"/>
<circle cx="550.6" cy="1699.1" r="3.6" fill="#b64ea4" stroke="#111" stroke-width="0.9"/>
<circle cx="572.7" cy="1711.6" r="3.6" fill="#b64ea4" stroke="#111" stroke-width="0.9"/>
<circle cx="538.6" cy="1728.5" r="3.6" fill="#b64ea4" stroke="#111" stroke-width="0.9"/>
<circle cx="558.9" cy="1686.6" r="3.6" fill="#b64ea4" stroke="#111" stroke-width="0.9"/>
<circle cx="673.6" cy="1523.5" r="3.6" fill="#b64ea4" stroke="#111" stroke-width="0.9"/>
<circle cx="576.7" cy="1648.6" r="3.6" fill="#b64ea4" stroke="#111" stroke-width="0.9"/>
<circle cx="540.1" cy="1702.5" r="3.6" fill="#b64ea4" stroke="#111" stroke-width="0.9"/>
<circle cx="659.4" cy="1580.7" r="3.6" fill="#b64ea4" stroke="#111" stroke-width="0.9"/>
<circle cx="559.0" cy="1700.9" r="3.6" fill="#b64ea4" stroke="#111" stroke-width="0.9"/>
<circle cx="560.3" cy="1733.0" r="3.6" fill="#b64ea4" stroke="#111" stroke-width="0.9"/>
<circle cx="538.0" cy="1708.1" r="3.6" fill="#b64ea4" stroke="#111" stroke-width="0.9"/>
<circle cx="524.3" cy="1708.2" r="3.6" fill="#b64ea4" stroke="#111" stroke-width="0.9"/>
<circle cx="570.5" cy="1617.7" r="3.6" fill="#b64ea4" stroke="#111" stroke-width="0.9"/>
<circle cx="545.2" cy="1717.1" r="3.6" fill="#b64ea4" stroke="#111" stroke-width="0.9"/>
<circle cx="547.2" cy="1695.4" r="3.6" fill="#b64ea4" stroke="#111" stroke-width="0.9"/>
<circle cx="523.9" cy="1726.2" r="3.6" fill="#b64ea4" stroke="#111" stroke-width="0.9"/>
<circle cx="544.6" cy="1717.0" r="3.6" fill="#b64ea4" stroke="#111" stroke-width="0.9"/>
<circle cx="565.9" cy="1677.0" r="3.6" fill="#b64ea4" stroke="#111" stroke-width="0.9"/>
<circle cx="547.1" cy="1696.0" r="3.6" fill="#b64ea4" stroke="#111" stroke-width="0.9"/>
<circle cx="549.3" cy="1684.7" r="3.6" fill="#b64ea4" stroke="#111" stroke-width="0.9"/>
<circle cx="548.4" cy="1715.1" r="3.6" fill="#b64ea4" stroke="#111" stroke-width="0.9"/>
<circle cx="543.7" cy="1693.2" r="3.6" fill="#b64ea4" stroke="#111" stroke-width="0.9"/>
<circle cx="553.6" cy="1716.9" r="3.6" fill="#b64ea4" stroke="#111" stroke-width="0.9"/>
<circle cx="565.8" cy="1697.3" r="3.6" fill="#b64ea4" stroke="#111" stroke-width="0.9"/>
<circle cx="542.5" cy="1711.0" r="3.6" fill="#b64ea4" stroke="#111" stroke-width="0.9"/>
<circle cx="595.7" cy="1611.2" r="3.6" fill="#b64ea4" stroke="#111" stroke-width="0.9"/>
<circle cx="607.0" cy="1693.2" r="3.6" fill="#b64ea4" stroke="#111" stroke-width="0.9"/>
<circle cx="566.0" cy="1663.5" r="3.6" fill="#b64ea4" stroke="#111" stroke-width="0.9"/>
<circle cx="551.4" cy="1722.5" r="3.6" fill="#b64ea4" stroke="#111" stroke-width="0.9"/>
<circle cx="555.1" cy="1685.8" r="3.6" fill="#b64ea4" stroke="#111" stroke-width="0.9"/>
<circle cx="551.1" cy="1697.3" r="3.6" fill="#b64ea4" stroke="#111" stroke-width="0.9"/>
<circle cx="529.8" cy="1750.0" r="3.6" fill="#b64ea4" stroke="#111" stroke-width="0.9"/>
<circle cx="614.4" cy="1610.3" r="3.6" fill="#b64ea4" stroke="#111" stroke-width="0.9"/>
<circle cx="531.9" cy="1735.9" r="3.6" fill="#b64ea4" stroke="#111" stroke-width="0.9"/>
<circle cx="520.2" cy="1764.8" r="3.6" fill="#b64ea4" stroke="#111" stroke-width="0.9"/>
<circle cx="689.9" cy="1537.7" r="3.6" fill="#b64ea4" stroke="#111" stroke-width="0.9"/>
<circle cx="542.9" cy="1708.9" r="3.6" fill="#b64ea4" stroke="#111" stroke-width="0.9"/>
<circle cx="524.5" cy="1735.3" r="3.6" fill="#b64ea4" stroke="#111" stroke-width="0.9"/>
<circle cx="538.6" cy="1722.2" r="3.6" fill="#b64ea4" stroke="#111" stroke-width="0.9"/>
<circle cx="563.5" cy="1716.7" r="3.6" fill="#b64ea4" stroke="#111" stroke-width="0.9"/>
<circle cx="532.5" cy="1745.9" r="3.6" fill="#b64ea4" stroke="#111" stroke-width="0.9"/>
<circle cx="537.5" cy="1718.8" r="3.6" fill="#b64ea4" stroke="#111" stroke-width="0.9"/>
<circle cx="627.1" cy="1587.5" r="3.6" fill="#b64ea4" stroke="#111" stroke-width="0.9"/>
<circle cx="572.3" cy="1664.1" r="3.6" fill="#b64ea4" stroke="#111" stroke-width="0.9"/>
<circle cx="525.7" cy="1726.8" r="3.6" fill="#b64ea4" stroke="#111" stroke-width="0.9"/>
<circle cx="550.9" cy="1726.5" r="3.6" fill="#b64ea4" stroke="#111" stroke-width="0.9"/>
<circle cx="585.5" cy="1665.3" r="3.6" fill="#b64ea4" stroke="#111" stroke-width="0.9"/>
<circle cx="562.6" cy="1686.8" r="3.6" fill="#b64ea4" stroke="#111" stroke-width="0.9"/>
<circle cx="550.5" cy="1693.9" r="3.6" fill="#b64ea4" stroke="#111" stroke-width="0.9"/>
<circle cx="567.4" cy="1696.9" r="3.6" fill="#b64ea4" stroke="#111" stroke-width="0.9"/>
<circle cx="549.7" cy="1674.8" r="3.6" fill="#b64ea4" stroke="#111" stroke-width="0.9"/>
<circle cx="547.3" cy="1706.1" r="3.6" fill="#b64ea4" stroke="#111" stroke-width="0.9"/>
<circle cx="568.1" cy="1707.7" r="3.6" fill="#b64ea4" stroke="#111" stroke-width="0.9"/>
<circle cx="520.5" cy="1739.9" r="3.6" fill="#b64ea4" stroke="#111" stroke-width="0.9"/>
<circle cx="545.3" cy="1720.8" r="3.6" fill="#b64ea4" stroke="#111" stroke-width="0.9"/>
<circle cx="574.4" cy="1629.5" r="3.6" fill="#b64ea4" stroke="#111" stroke-width="0.9"/>
<circle cx="599.0" cy="1695.3" r="3.6" fill="#b64ea4" stroke="#111" stroke-width="0.9"/>
<circle cx="575.9" cy="1664.4" r="3.6" fill="#b64ea4" stroke="#111" stroke-width="0.9"/>
<circle cx="541.9" cy="1734.1" r="3.6" fill="#b64ea4" stroke="#111" stroke-width="0.9"/>
<circle cx="541.9" cy="1699.1" r="3.6" fill="#b64ea4" stroke="#111" stroke-width="0.9"/>
<circle cx="583.2" cy="1683.1" r="3.6" fill="#b64ea4" stroke="#111" stroke-width="0.9"/>
<circle cx="537.4" cy="1774.7" r="3.6" fill="#b64ea4" stroke="#111" stroke-width="0.9"/>
<circle cx="605.5" cy="1594.0" r="3.6" fill="#b64ea4" stroke="#111" stroke-width="0.9"/>
<circle cx="632.7" cy="1610.3" r="3.6" fill="#b64ea4" stroke="#111" stroke-width="0.9"/>
<circle cx="543.0" cy="1737.2" r="3.6" fill="#b64ea4" stroke="#111" stroke-width="0.9"/>
<circle cx="538.8" cy="1719.7" r="3.6" fill="#b64ea4" stroke="#111" stroke-width="0.9"/>
<circle cx="556.5" cy="1714.2" r="3.6" fill="#b64ea4" stroke="#111" stroke-width="0.9"/>
<circle cx="584.7" cy="1646.7" r="3.6" fill="#b64ea4" stroke="#111" stroke-width="0.9"/>
<circle cx="643.4" cy="1612.7" r="3.6" fill="#b64ea4" stroke="#111" stroke-width="0.9"/>
<circle cx="637.5" cy="1531.0" r="3.6" fill="#b64ea4" stroke="#111" stroke-width="0.9"/>
<circle cx="539.7" cy="1716.5" r="3.6" fill="#b64ea4" stroke="#111" stroke-width="0.9"/>
<circle cx="556.1" cy="1686.5" r="3.6" fill="#b64ea4" stroke="#111" stroke-width="0.9"/>
<circle cx="574.0" cy="1683.8" r="3.6" fill="#b64ea4" stroke="#111" stroke-width="0.9"/>
<circle cx="568.4" cy="1689.6" r="3.6" fill="#b64ea4" stroke="#111" stroke-width="0.9"/>
<circle cx="533.8" cy="1727.2" r="3.6" fill="#b64ea4" stroke="#111" stroke-width="0.9"/>
<circle cx="528.3" cy="1734.0" r="3.6" fill="#b64ea4" stroke="#111" stroke-width="0.9"/>
<circle cx="491.4" cy="1761.4" r="3.6" fill="#b64ea4" stroke="#111" stroke-width="0.9"/>
<circle cx="591.5" cy="1668.5" r="3.6" fill="#b64ea4" stroke="#111" stroke-width="0.9"/>
<circle cx="530.4" cy="1729.6" r="3.6" fill="#b64ea4" stroke="#111" stroke-width="0.9"/>
<circle cx="524.7" cy="1734.6" r="3.6" fill="#b64ea4" stroke="#111" stroke-width="0.9"/>
<circle cx="611.4" cy="1698.6" r="3.6" fill="#b64ea4" stroke="#111" stroke-width="0.9"/>
<circle cx="540.7" cy="1724.5" r="3.6" fill="#b64ea4" stroke="#111" stroke-width="0.9"/>
<circle cx="543.8" cy="1695.4" r="3.6" fill="#b64ea4" stroke="#111" stroke-width="0.9"/>
<circle cx="534.1" cy="1698.4" r="3.6" fill="#6ecde0" stroke="#111" stroke-width="0.9"/>
<circle cx="551.1" cy="1680.1" r="3.6" fill="#6ecde0" stroke="#111" stroke-width="0.9"/>
<circle cx="527.7" cy="1738.3" r="3.6" fill="#b64ea4" stroke="#111" stroke-width="0.9"/>
<circle cx="559.7" cy="1680.9" r="3.6" fill="#6ecde0" stroke="#111" stroke-width="0.9"/>
<circle cx="567.5" cy="1700.9" r="3.6" fill="#6ecde0" stroke="#111" stroke-width="0.9"/>
<circle cx="563.5" cy="1702.8" r="3.6" fill="#b64ea4" stroke="#111" stroke-width="0.9"/>
<circle cx="567.0" cy="1691.8" r="3.6" fill="#b64ea4" stroke="#111" stroke-width="0.9"/>
<circle cx="548.1" cy="1709.5" r="3.6" fill="#b64ea4" stroke="#111" stroke-width="0.9"/>
<circle cx="542.8" cy="1712.6" r="3.6" fill="#6ecde0" stroke="#111" stroke-width="0.9"/>
<circle cx="582.7" cy="1604.4" r="3.6" fill="#b64ea4" stroke="#111" stroke-width="0.9"/>
<circle cx="589.0" cy="1645.6" r="3.6" fill="#6ecde0" stroke="#111" stroke-width="0.9"/>
<circle cx="543.4" cy="1738.6" r="3.6" fill="#b64ea4" stroke="#111" stroke-width="0.9"/>
<circle cx="530.6" cy="1727.9" r="3.6" fill="#b64ea4" stroke="#111" stroke-width="0.9"/>
<circle cx="506.8" cy="1728.2" r="3.6" fill="#6ecde0" stroke="#111" stroke-width="0.9"/>
<circle cx="585.9" cy="1686.4" r="3.6" fill="#b64ea4" stroke="#111" stroke-width="0.9"/>
<circle cx="530.9" cy="1744.0" r="3.6" fill="#b64ea4" stroke="#111" stroke-width="0.9"/>
<circle cx="592.1" cy="1690.5" r="3.6" fill="#b64ea4" stroke="#111" stroke-width="0.9"/>
<circle cx="541.5" cy="1707.7" r="3.6" fill="#b64ea4" stroke="#111" stroke-width="0.9"/>
<circle cx="554.2" cy="1739.8" r="3.6" fill="#6ecde0" stroke="#111" stroke-width="0.9"/>
<circle cx="581.0" cy="1645.7" r="3.6" fill="#b64ea4" stroke="#111" stroke-width="0.9"/>
<circle cx="541.8" cy="1703.2" r="3.6" fill="#b64ea4" stroke="#111" stroke-width="0.9"/>
<circle cx="516.6" cy="1748.4" r="3.6" fill="#6ecde0" stroke="#111" stroke-width="0.9"/>
<circle cx="571.3" cy="1646.4" r="3.6" fill="#6ecde0" stroke="#111" stroke-width="0.9"/>
<circle cx="545.8" cy="1685.3" r="3.6" fill="#b64ea4" stroke="#111" stroke-width="0.9"/>
<circle cx="582.2" cy="1701.7" r="3.6" fill="#b64ea4" stroke="#111" stroke-width="0.9"/>
<circle cx="558.4" cy="1710.7" r="3.6" fill="#6ecde0" stroke="#111" stroke-width="0.9"/>
<circle cx="542.7" cy="1714.8" r="3.6" fill="#b64ea4" stroke="#111" stroke-width="0.9"/>
<circle cx="572.1" cy="1653.6" r="3.6" fill="#6ecde0" stroke="#111" stroke-width="0.9"/>
<circle cx="544.9" cy="1740.9" r="3.6" fill="#b64ea4" stroke="#111" stroke-width="0.9"/>
<circle cx="540.4" cy="1709.9" r="3.6" fill="#6ecde0" stroke="#111" stroke-width="0.9"/>
<circle cx="541.5" cy="1719.4" r="3.6" fill="#b64ea4" stroke="#111" stroke-width="0.9"/>
<circle cx="534.3" cy="1722.3" r="3.6" fill="#b64ea4" stroke="#111" stroke-width="0.9"/>
<circle cx="573.6" cy="1682.7" r="3.6" fill="#b64ea4" stroke="#111" stroke-width="0.9"/>
<circle cx="548.7" cy="1702.7" r="3.6" fill="#b64ea4" stroke="#111" stroke-width="0.9"/>
<circle cx="615.3" cy="1640.8" r="3.6" fill="#b64ea4" stroke="#111" stroke-width="0.9"/>
<circle cx="655.3" cy="1506.0" r="3.6" fill="#b64ea4" stroke="#111" stroke-width="0.9"/>
<circle cx="648.4" cy="1587.5" r="3.6" fill="#b64ea4" stroke="#111" stroke-width="0.9"/>
<circle cx="533.4" cy="1714.2" r="3.6" fill="#b64ea4" stroke="#111" stroke-width="0.9"/>
<circle cx="540.2" cy="1730.4" r="3.6" fill="#b64ea4" stroke="#111" stroke-width="0.9"/>
<circle cx="523.6" cy="1725.1" r="3.6" fill="#b64ea4" stroke="#111" stroke-width="0.9"/>
<circle cx="551.6" cy="1712.9" r="3.6" fill="#6ecde0" stroke="#111" stroke-width="0.9"/>
<circle cx="656.7" cy="1608.2" r="3.6" fill="#b64ea4" stroke="#111" stroke-width="0.9"/>
<circle cx="526.0" cy="1721.1" r="3.6" fill="#6ecde0" stroke="#111" stroke-width="0.9"/>
<circle cx="563.1" cy="1679.5" r="3.6" fill="#b64ea4" stroke="#111" stroke-width="0.9"/>
<circle cx="566.0" cy="1661.2" r="3.6" fill="#b64ea4" stroke="#111" stroke-width="0.9"/>
<circle cx="535.0" cy="1716.0" r="3.6" fill="#b64ea4" stroke="#111" stroke-width="0.9"/>
<circle cx="558.2" cy="1704.1" r="3.6" fill="#b64ea4" stroke="#111" stroke-width="0.9"/>
<circle cx="547.8" cy="1711.8" r="3.6" fill="#b64ea4" stroke="#111" stroke-width="0.9"/>
<circle cx="572.3" cy="1685.9" r="3.6" fill="#b64ea4" stroke="#111" stroke-width="0.9"/>
<circle cx="552.0" cy="1705.7" r="3.6" fill="#b64ea4" stroke="#111" stroke-width="0.9"/>
<circle cx="572.9" cy="1680.2" r="3.6" fill="#b64ea4" stroke="#111" stroke-width="0.9"/>
<circle cx="561.8" cy="1690.4" r="3.6" fill="#b64ea4" stroke="#111" stroke-width="0.9"/>
<circle cx="566.1" cy="1693.5" r="3.6" fill="#b64ea4" stroke="#111" stroke-width="0.9"/>
<circle cx="506.3" cy="1763.4" r="3.6" fill="#b64ea4" stroke="#111" stroke-width="0.9"/>
<circle cx="637.5" cy="1602.3" r="3.6" fill="#b64ea4" stroke="#111" stroke-width="0.9"/>
<circle cx="534.7" cy="1694.1" r="3.6" fill="#6ecde0" stroke="#111" stroke-width="0.9"/>
<circle cx="536.4" cy="1704.3" r="3.6" fill="#6ecde0" stroke="#111" stroke-width="0.9"/>
<circle cx="570.3" cy="1660.6" r="3.6" fill="#b64ea4" stroke="#111" stroke-width="0.9"/>
<circle cx="563.2" cy="1696.5" r="3.6" fill="#6ecde0" stroke="#111" stroke-width="0.9"/>
<circle cx="545.2" cy="1704.7" r="3.6" fill="#b64ea4" stroke="#111" stroke-width="0.9"/>
<circle cx="562.1" cy="1725.9" r="3.6" fill="#6ecde0" stroke="#111" stroke-width="0.9"/>
<circle cx="572.4" cy="1697.5" r="3.6" fill="#b64ea4" stroke="#111" stroke-width="0.9"/>
<circle cx="550.4" cy="1722.8" r="3.6" fill="#6ecde0" stroke="#111" stroke-width="0.9"/>
<circle cx="553.1" cy="1694.4" r="3.6" fill="#6ecde0" stroke="#111" stroke-width="0.9"/>
<circle cx="559.7" cy="1688.8" r="3.6" fill="#6ecde0" stroke="#111" stroke-width="0.9"/>
<circle cx="520.1" cy="1739.2" r="3.6" fill="#b64ea4" stroke="#111" stroke-width="0.9"/>
<circle cx="493.8" cy="1765.8" r="3.6" fill="#b64ea4" stroke="#111" stroke-width="0.9"/>
<circle cx="520.8" cy="1762.6" r="3.6" fill="#b64ea4" stroke="#111" stroke-width="0.9"/>
<circle cx="590.3" cy="1715.9" r="3.6" fill="#6ecde0" stroke="#111" stroke-width="0.9"/>
<circle cx="546.9" cy="1706.0" r="3.6" fill="#b64ea4" stroke="#111" stroke-width="0.9"/>
<circle cx="547.6" cy="1687.8" r="3.6" fill="#b64ea4" stroke="#111" stroke-width="0.9"/>
<circle cx="582.7" cy="1651.8" r="3.6" fill="#b64ea4" stroke="#111" stroke-width="0.9"/>
<circle cx="549.4" cy="1736.0" r="3.6" fill="#6ecde0" stroke="#111" stroke-width="0.9"/>
<circle cx="529.8" cy="1742.5" r="3.6" fill="#b64ea4" stroke="#111" stroke-width="0.9"/>
<circle cx="579.6" cy="1675.3" r="3.6" fill="#b64ea4" stroke="#111" stroke-width="0.9"/>
<circle cx="551.6" cy="1701.8" r="3.6" fill="#b64ea4" stroke="#111" stroke-width="0.9"/>
<circle cx="524.9" cy="1752.1" r="3.6" fill="#6ecde0" stroke="#111" stroke-width="0.9"/>
<circle cx="547.2" cy="1717.1" r="3.6" fill="#b64ea4" stroke="#111" stroke-width="0.9"/>
<circle cx="578.4" cy="1691.7" r="3.6" fill="#b64ea4" stroke="#111" stroke-width="0.9"/>
<circle cx="527.8" cy="1736.1" r="3.6" fill="#6ecde0" stroke="#111" stroke-width="0.9"/>
<circle cx="664.7" cy="1557.9" r="3.6" fill="#b64ea4" stroke="#111" stroke-width="0.9"/>
<circle cx="540.5" cy="1677.2" r="3.6" fill="#b64ea4" stroke="#111" stroke-width="0.9"/>
<circle cx="558.0" cy="1690.4" r="3.6" fill="#6ecde0" stroke="#111" stroke-width="0.9"/>
<circle cx="572.5" cy="1684.8" r="3.6" fill="#b64ea4" stroke="#111" stroke-width="0.9"/>
<circle cx="558.6" cy="1695.2" r="3.6" fill="#b64ea4" stroke="#111" stroke-width="0.9"/>
<circle cx="516.8" cy="1759.6" r="3.6" fill="#b64ea4" stroke="#111" stroke-width="0.9"/>
<circle cx="562.3" cy="1691.2" r="3.6" fill="#b64ea4" stroke="#111" stroke-width="0.9"/>
<circle cx="644.0" cy="1637.5" r="3.6" fill="#b64ea4" stroke="#111" stroke-width="0.9"/>
<circle cx="544.8" cy="1712.5" r="3.6" fill="#b64ea4" stroke="#111" stroke-width="0.9"/>
<circle cx="560.3" cy="1725.3" r="3.6" fill="#b64ea4" stroke="#111" stroke-width="0.9"/>
<circle cx="573.5" cy="1698.2" r="3.6" fill="#b64ea4" stroke="#111" stroke-width="0.9"/>
<circle cx="544.8" cy="1760.5" r="3.6" fill="#b64ea4" stroke="#111" stroke-width="0.9"/>
<circle cx="524.9" cy="1732.7" r="3.6" fill="#6ecde0" stroke="#111" stroke-width="0.9"/>
<circle cx="538.4" cy="1729.9" r="3.6" fill="#b64ea4" stroke="#111" stroke-width="0.9"/>
<circle cx="571.3" cy="1664.5" r="3.6" fill="#6ecde0" stroke="#111" stroke-width="0.9"/>
<circle cx="589.3" cy="1655.1" r="3.6" fill="#b64ea4" stroke="#111" stroke-width="0.9"/>
<circle cx="532.3" cy="1740.5" r="3.6" fill="#b64ea4" stroke="#111" stroke-width="0.9"/>
<circle cx="564.2" cy="1677.4" r="3.6" fill="#6ecde0" stroke="#111" stroke-width="0.9"/>
<circle cx="546.6" cy="1676.3" r="3.6" fill="#6ecde0" stroke="#111" stroke-width="0.9"/>
<circle cx="539.2" cy="1702.9" r="3.6" fill="#b64ea4" stroke="#111" stroke-width="0.9"/>
<circle cx="559.1" cy="1716.1" r="3.6" fill="#b64ea4" stroke="#111" stroke-width="0.9"/>
<circle cx="556.5" cy="1675.8" r="3.6" fill="#b64ea4" stroke="#111" stroke-width="0.9"/>
<circle cx="560.5" cy="1694.8" r="3.6" fill="#6ecde0" stroke="#111" stroke-width="0.9"/>
<circle cx="571.0" cy="1646.5" r="3.6" fill="#b64ea4" stroke="#111" stroke-width="0.9"/>
<circle cx="530.0" cy="1698.7" r="3.6" fill="#6ecde0" stroke="#111" stroke-width="0.9"/>
<circle cx="539.5" cy="1733.0" r="3.6" fill="#b64ea4" stroke="#111" stroke-width="0.9"/>
<circle cx="527.6" cy="1736.3" r="3.6" fill="#6ecde0" stroke="#111" stroke-width="0.9"/>
<circle cx="546.4" cy="1706.8" r="3.6" fill="#b64ea4" stroke="#111" stroke-width="0.9"/>
<circle cx="599.0" cy="1662.1" r="3.6" fill="#b64ea4" stroke="#111" stroke-width="0.9"/>
<circle cx="530.6" cy="1734.5" r="3.6" fill="#b64ea4" stroke="#111" stroke-width="0.9"/>
<circle cx="573.3" cy="1691.7" r="3.6" fill="#6ecde0" stroke="#111" stroke-width="0.9"/>
<circle cx="491.4" cy="1776.2" r="3.6" fill="#b64ea4" stroke="#111" stroke-width="0.9"/>
<circle cx="595.6" cy="1657.1" r="3.6" fill="#6ecde0" stroke="#111" stroke-width="0.9"/>
<circle cx="535.8" cy="1737.6" r="3.6" fill="#6ecde0" stroke="#111" stroke-width="0.9"/>
<circle cx="535.3" cy="1710.1" r="3.6" fill="#6ecde0" stroke="#111" stroke-width="0.9"/>
<circle cx="593.6" cy="1637.5" r="3.6" fill="#b64ea4" stroke="#111" stroke-width="0.9"/>
<circle cx="550.8" cy="1716.8" r="3.6" fill="#b64ea4" stroke="#111" stroke-width="0.9"/>
<circle cx="687.5" cy="1498.3" r="3.6" fill="#b64ea4" stroke="#111" stroke-width="0.9"/>
<circle cx="516.5" cy="1739.6" r="3.6" fill="#b64ea4" stroke="#111" stroke-width="0.9"/>
<circle cx="583.6" cy="1652.6" r="3.6" fill="#6ecde0" stroke="#111" stroke-width="0.9"/>
<circle cx="555.3" cy="1706.0" r="3.6" fill="#6ecde0" stroke="#111" stroke-width="0.9"/>
<circle cx="571.1" cy="1717.7" r="3.6" fill="#6ecde0" stroke="#111" stroke-width="0.9"/>
<circle cx="541.1" cy="1701.0" r="3.6" fill="#b64ea4" stroke="#111" stroke-width="0.9"/>
<circle cx="558.9" cy="1709.1" r="3.6" fill="#b64ea4" stroke="#111" stroke-width="0.9"/>
<circle cx="577.7" cy="1713.0" r="3.6" fill="#b64ea4" stroke="#111" stroke-width="0.9"/>
<circle cx="539.6" cy="1745.8" r="3.6" fill="#b64ea4" stroke="#111" stroke-width="0.9"/>
<circle cx="586.8" cy="1650.9" r="3.6" fill="#6ecde0" stroke="#111" stroke-width="0.9"/>
<circle cx="553.6" cy="1682.9" r="3.6" fill="#6ecde0" stroke="#111" stroke-width="0.9"/>
<circle cx="564.4" cy="1710.0" r="3.6" fill="#b64ea4" stroke="#111" stroke-width="0.9"/>
<circle cx="592.9" cy="1681.5" r="3.6" fill="#b64ea4" stroke="#111" stroke-width="0.9"/>
<path d="M470.8 1410.2 V1801.5 H732.4" fill="none" stroke="#000" stroke-width="2.6" stroke-linecap="square"/>
<line x1="470.8" y1="1801.3" x2="476" y2="1801.3" stroke="#000" stroke-width="2.6"/>
<text x="457.8" y="1810.3" font-size="25" text-anchor="end" fill="#000" font-weight="normal" >0</text>
<line x1="470.8" y1="1736.4" x2="476" y2="1736.4" stroke="#000" stroke-width="2.6"/>
<text x="457.8" y="1745.4" font-size="25" text-anchor="end" fill="#000" font-weight="normal" >1</text>
<line x1="470.8" y1="1671.5" x2="476" y2="1671.5" stroke="#000" stroke-width="2.6"/>
<text x="457.8" y="1680.5" font-size="25" text-anchor="end" fill="#000" font-weight="normal" >2</text>
<line x1="470.8" y1="1606.6" x2="476" y2="1606.6" stroke="#000" stroke-width="2.6"/>
<text x="457.8" y="1615.6" font-size="25" text-anchor="end" fill="#000" font-weight="normal" >3</text>
<line x1="470.8" y1="1541.7" x2="476" y2="1541.7" stroke="#000" stroke-width="2.6"/>
<text x="457.8" y="1550.7" font-size="25" text-anchor="end" fill="#000" font-weight="normal" >4</text>
<line x1="470.8" y1="1476.8" x2="476" y2="1476.8" stroke="#000" stroke-width="2.6"/>
<text x="457.8" y="1485.8" font-size="25" text-anchor="end" fill="#000" font-weight="normal" >5</text>
<line x1="470.8" y1="1411.9" x2="476" y2="1411.9" stroke="#000" stroke-width="2.6"/>
<text x="457.8" y="1420.9" font-size="25" text-anchor="end" fill="#000" font-weight="normal" >6</text>
<line x1="470.7" y1="1801.5" x2="470.7" y2="1796.5" stroke="#000" stroke-width="2.6"/>
<text x="470.7" y="1833.0" font-size="25" text-anchor="middle" fill="#000" font-weight="normal" >0</text>
<line x1="535.9" y1="1801.5" x2="535.9" y2="1796.5" stroke="#000" stroke-width="2.6"/>
<text x="535.9" y="1833.0" font-size="25" text-anchor="middle" fill="#000" font-weight="normal" >1</text>
<line x1="601.1" y1="1801.5" x2="601.1" y2="1796.5" stroke="#000" stroke-width="2.6"/>
<text x="601.1" y="1833.0" font-size="25" text-anchor="middle" fill="#000" font-weight="normal" >2</text>
<line x1="666.3" y1="1801.5" x2="666.3" y2="1796.5" stroke="#000" stroke-width="2.6"/>
<text x="666.3" y="1833.0" font-size="25" text-anchor="middle" fill="#000" font-weight="normal" >3</text>
<line x1="731.5" y1="1801.5" x2="731.5" y2="1796.5" stroke="#000" stroke-width="2.6"/>
<text x="731.5" y="1833.0" font-size="25" text-anchor="middle" fill="#000" font-weight="normal" >4</text>
<text x="688.0" y="1419.2" font-size="21" text-anchor="end" fill="#000" font-weight="normal" >Control</text>
<text x="688.0" y="1441.5" font-size="21" text-anchor="end" fill="#000" font-weight="normal" >Ethanol</text>
<line x1="703" y1="1411.7" x2="731.2" y2="1411.7" stroke="#b64ea4" stroke-width="3.2"/>
<line x1="703" y1="1434.1" x2="731.2" y2="1434.1" stroke="#6ecde0" stroke-width="3.2"/>
<text x="601.0" y="1882.5" font-size="25" text-anchor="middle" fill="#000" font-weight="normal" >Peak Ca<tspan font-size="17" dy="-10">2+</tspan><tspan dy="10"> change (ATP) (Δ<tspan font-style="italic">F</tspan>/<tspan font-style="italic">F</tspan>)</tspan></text>
<text transform="translate(415,1610.5) rotate(-90)" font-size="25" text-anchor="middle">Peak Ca<tspan font-size="17" dy="-10">2+</tspan><tspan dy="10"> change (NE) (Δ<tspan font-style="italic">F</tspan>/<tspan font-style="italic">F</tspan>)</tspan></text>
<circle cx="929.0" cy="1468.2" r="3.8" fill="#949494"/>
<circle cx="930.1" cy="1474.1" r="3.8" fill="#949494"/>
<circle cx="933.3" cy="1509.8" r="3.8" fill="#949494"/>
<circle cx="936.6" cy="1575.1" r="3.8" fill="#949494"/>
<circle cx="930.4" cy="1578.7" r="3.8" fill="#949494"/>
<circle cx="930.1" cy="1585.8" r="3.8" fill="#949494"/>
<circle cx="931.5" cy="1591.7" r="3.8" fill="#949494"/>
<circle cx="937.4" cy="1598.9" r="3.8" fill="#949494"/>
<circle cx="930.5" cy="1601.2" r="3.8" fill="#949494"/>
<circle cx="939.1" cy="1606.0" r="3.8" fill="#949494"/>
<circle cx="936.6" cy="1737.9" r="3.8" fill="#949494"/>
<circle cx="930.4" cy="1743.8" r="3.8" fill="#949494"/>
<circle cx="934.9" cy="1749.7" r="3.8" fill="#949494"/>
<circle cx="933.9" cy="1756.9" r="3.8" fill="#949494"/>
<circle cx="933.5" cy="1765.2" r="3.8" fill="#949494"/>
<circle cx="940.1" cy="1773.5" r="3.8" fill="#949494"/>
<circle cx="929.9" cy="1740.2" r="3.8" fill="#949494"/>
<circle cx="923.6" cy="1731.9" r="3.8" fill="#949494"/>
<circle cx="954.0" cy="1644.7" r="3.8" fill="#949494"/>
<circle cx="930.7" cy="1625.6" r="3.8" fill="#949494"/>
<circle cx="921.3" cy="1699.4" r="3.8" fill="#949494"/>
<circle cx="927.2" cy="1703.1" r="3.8" fill="#949494"/>
<circle cx="928.4" cy="1659.1" r="3.8" fill="#949494"/>
<circle cx="946.3" cy="1610.7" r="3.8" fill="#949494"/>
<circle cx="921.5" cy="1657.3" r="3.8" fill="#949494"/>
<circle cx="923.1" cy="1712.4" r="3.8" fill="#949494"/>
<circle cx="938.2" cy="1698.7" r="3.8" fill="#949494"/>
<circle cx="936.6" cy="1673.4" r="3.8" fill="#949494"/>
<circle cx="954.2" cy="1638.2" r="3.8" fill="#949494"/>
<circle cx="949.7" cy="1671.8" r="3.8" fill="#949494"/>
<circle cx="928.0" cy="1684.1" r="3.8" fill="#949494"/>
<circle cx="921.2" cy="1679.4" r="3.8" fill="#949494"/>
<circle cx="949.6" cy="1665.5" r="3.8" fill="#949494"/>
<circle cx="956.1" cy="1697.5" r="3.8" fill="#949494"/>
<circle cx="913.4" cy="1671.4" r="3.8" fill="#949494"/>
<circle cx="945.1" cy="1662.1" r="3.8" fill="#949494"/>
<circle cx="945.5" cy="1614.1" r="3.8" fill="#949494"/>
<circle cx="941.3" cy="1673.4" r="3.8" fill="#949494"/>
<circle cx="922.3" cy="1637.6" r="3.8" fill="#949494"/>
<circle cx="947.0" cy="1707.4" r="3.8" fill="#949494"/>
<circle cx="944.6" cy="1641.4" r="3.8" fill="#949494"/>
<circle cx="920.7" cy="1665.8" r="3.8" fill="#949494"/>
<circle cx="940.8" cy="1690.2" r="3.8" fill="#949494"/>
<circle cx="921.9" cy="1672.2" r="3.8" fill="#949494"/>
<circle cx="914.5" cy="1639.9" r="3.8" fill="#949494"/>
<circle cx="927.1" cy="1682.7" r="3.8" fill="#949494"/>
<circle cx="927.4" cy="1635.5" r="3.8" fill="#949494"/>
<circle cx="931.0" cy="1618.2" r="3.8" fill="#949494"/>
<circle cx="939.0" cy="1614.7" r="3.8" fill="#949494"/>
<circle cx="944.8" cy="1614.8" r="3.8" fill="#949494"/>
<circle cx="952.2" cy="1715.7" r="3.8" fill="#949494"/>
<circle cx="955.9" cy="1659.4" r="3.8" fill="#949494"/>
<circle cx="956.4" cy="1695.1" r="3.8" fill="#949494"/>
<circle cx="947.1" cy="1638.3" r="3.8" fill="#949494"/>
<circle cx="925.8" cy="1668.7" r="3.8" fill="#949494"/>
<circle cx="919.9" cy="1663.5" r="3.8" fill="#949494"/>
<circle cx="940.1" cy="1655.2" r="3.8" fill="#949494"/>
<circle cx="936.5" cy="1692.0" r="3.8" fill="#949494"/>
<circle cx="942.4" cy="1667.9" r="3.8" fill="#949494"/>
<circle cx="916.5" cy="1696.5" r="3.8" fill="#949494"/>
<circle cx="920.7" cy="1687.2" r="3.8" fill="#949494"/>
<circle cx="953.4" cy="1670.7" r="3.8" fill="#949494"/>
<circle cx="936.7" cy="1733.0" r="3.8" fill="#949494"/>
<circle cx="941.0" cy="1722.9" r="3.8" fill="#949494"/>
<circle cx="916.8" cy="1700.5" r="3.8" fill="#949494"/>
<circle cx="930.0" cy="1643.4" r="3.8" fill="#949494"/>
<circle cx="952.7" cy="1644.3" r="3.8" fill="#949494"/>
<circle cx="941.2" cy="1661.4" r="3.8" fill="#949494"/>
<circle cx="956.4" cy="1693.7" r="3.8" fill="#949494"/>
<circle cx="928.5" cy="1606.5" r="3.8" fill="#949494"/>
<circle cx="932.6" cy="1707.1" r="3.8" fill="#949494"/>
<circle cx="947.6" cy="1701.2" r="3.8" fill="#949494"/>
<circle cx="932.0" cy="1654.2" r="3.8" fill="#949494"/>
<circle cx="946.8" cy="1706.1" r="3.8" fill="#949494"/>
<circle cx="937.3" cy="1661.9" r="3.8" fill="#949494"/>
<circle cx="918.0" cy="1637.3" r="3.8" fill="#949494"/>
<circle cx="916.4" cy="1673.7" r="3.8" fill="#949494"/>
<circle cx="956.2" cy="1657.0" r="3.8" fill="#949494"/>
<circle cx="917.4" cy="1669.9" r="3.8" fill="#949494"/>
<circle cx="920.9" cy="1694.8" r="3.8" fill="#949494"/>
<circle cx="928.0" cy="1714.0" r="3.8" fill="#949494"/>
<circle cx="944.1" cy="1671.5" r="3.8" fill="#949494"/>
<circle cx="944.0" cy="1728.8" r="3.8" fill="#949494"/>
<circle cx="933.4" cy="1691.0" r="3.8" fill="#949494"/>
<circle cx="934.4" cy="1664.0" r="3.8" fill="#949494"/>
<circle cx="945.6" cy="1624.4" r="3.8" fill="#949494"/>
<circle cx="926.5" cy="1719.2" r="3.8" fill="#949494"/>
<circle cx="928.8" cy="1689.8" r="3.8" fill="#949494"/>
<circle cx="939.6" cy="1663.3" r="3.8" fill="#949494"/>
<circle cx="940.6" cy="1652.8" r="3.8" fill="#949494"/>
<circle cx="918.0" cy="1719.7" r="3.8" fill="#949494"/>
<circle cx="927.1" cy="1606.0" r="3.8" fill="#949494"/>
<circle cx="918.6" cy="1699.9" r="3.8" fill="#949494"/>
<circle cx="944.0" cy="1633.0" r="3.8" fill="#949494"/>
<circle cx="943.2" cy="1678.3" r="3.8" fill="#949494"/>
<circle cx="955.8" cy="1656.9" r="3.8" fill="#949494"/>
<circle cx="942.1" cy="1612.7" r="3.8" fill="#949494"/>
<circle cx="923.6" cy="1646.3" r="3.8" fill="#949494"/>
<circle cx="946.4" cy="1666.7" r="3.8" fill="#949494"/>
<circle cx="955.0" cy="1706.6" r="3.8" fill="#949494"/>
<circle cx="927.8" cy="1694.3" r="3.8" fill="#949494"/>
<circle cx="917.7" cy="1721.4" r="3.8" fill="#949494"/>
<circle cx="930.7" cy="1725.9" r="3.8" fill="#949494"/>
<circle cx="928.2" cy="1613.4" r="3.8" fill="#949494"/>
<circle cx="921.8" cy="1626.3" r="3.8" fill="#949494"/>
<circle cx="914.1" cy="1683.9" r="3.8" fill="#949494"/>
<circle cx="918.0" cy="1641.8" r="3.8" fill="#949494"/>
<circle cx="950.5" cy="1700.3" r="3.8" fill="#949494"/>
<circle cx="914.4" cy="1691.6" r="3.8" fill="#949494"/>
<circle cx="939.6" cy="1653.6" r="3.8" fill="#949494"/>
<circle cx="921.3" cy="1657.4" r="3.8" fill="#949494"/>
<circle cx="920.7" cy="1687.4" r="3.8" fill="#949494"/>
<circle cx="944.1" cy="1614.1" r="3.8" fill="#949494"/>
<circle cx="925.6" cy="1645.3" r="3.8" fill="#949494"/>
<circle cx="920.3" cy="1666.4" r="3.8" fill="#949494"/>
<circle cx="932.7" cy="1713.0" r="3.8" fill="#949494"/>
<circle cx="943.3" cy="1666.5" r="3.8" fill="#949494"/>
<circle cx="935.6" cy="1682.5" r="3.8" fill="#949494"/>
<circle cx="950.7" cy="1674.0" r="3.8" fill="#949494"/>
<circle cx="930.1" cy="1643.1" r="3.8" fill="#949494"/>
<circle cx="935.6" cy="1691.6" r="3.8" fill="#949494"/>
<circle cx="944.3" cy="1662.0" r="3.8" fill="#949494"/>
<circle cx="932.8" cy="1643.2" r="3.8" fill="#949494"/>
<circle cx="944.3" cy="1658.8" r="3.8" fill="#949494"/>
<circle cx="933.8" cy="1733.0" r="3.8" fill="#949494"/>
<circle cx="918.0" cy="1673.6" r="3.8" fill="#949494"/>
<circle cx="919.5" cy="1713.2" r="3.8" fill="#949494"/>
<circle cx="947.2" cy="1673.8" r="3.8" fill="#949494"/>
<circle cx="940.9" cy="1729.3" r="3.8" fill="#949494"/>
<circle cx="954.4" cy="1681.7" r="3.8" fill="#949494"/>
<circle cx="943.0" cy="1648.3" r="3.8" fill="#949494"/>
<circle cx="938.1" cy="1668.2" r="3.8" fill="#949494"/>
<circle cx="920.0" cy="1639.1" r="3.8" fill="#949494"/>
<circle cx="945.0" cy="1726.5" r="3.8" fill="#949494"/>
<circle cx="918.1" cy="1637.0" r="3.8" fill="#949494"/>
<circle cx="931.3" cy="1705.3" r="3.8" fill="#949494"/>
<circle cx="920.5" cy="1714.6" r="3.8" fill="#949494"/>
<circle cx="929.2" cy="1651.5" r="3.8" fill="#949494"/>
<circle cx="925.8" cy="1654.6" r="3.8" fill="#949494"/>
<circle cx="931.2" cy="1697.3" r="3.8" fill="#949494"/>
<circle cx="943.7" cy="1700.5" r="3.8" fill="#949494"/>
<circle cx="936.4" cy="1678.7" r="3.8" fill="#949494"/>
<circle cx="922.9" cy="1671.9" r="3.8" fill="#949494"/>
<circle cx="947.0" cy="1677.6" r="3.8" fill="#949494"/>
<circle cx="944.4" cy="1707.5" r="3.8" fill="#949494"/>
<circle cx="947.2" cy="1625.2" r="3.8" fill="#949494"/>
<circle cx="913.5" cy="1665.5" r="3.8" fill="#949494"/>
<circle cx="938.9" cy="1715.6" r="3.8" fill="#949494"/>
<circle cx="945.9" cy="1727.2" r="3.8" fill="#949494"/>
<circle cx="923.8" cy="1696.2" r="3.8" fill="#949494"/>
<circle cx="921.1" cy="1686.4" r="3.8" fill="#949494"/>
<circle cx="946.1" cy="1622.2" r="3.8" fill="#949494"/>
<circle cx="928.4" cy="1656.7" r="3.8" fill="#949494"/>
<circle cx="930.1" cy="1683.2" r="3.8" fill="#949494"/>
<circle cx="948.8" cy="1659.4" r="3.8" fill="#949494"/>
<circle cx="929.3" cy="1663.6" r="3.8" fill="#949494"/>
<circle cx="921.7" cy="1634.2" r="3.8" fill="#949494"/>
<circle cx="921.6" cy="1666.4" r="3.8" fill="#949494"/>
<circle cx="928.4" cy="1627.1" r="3.8" fill="#949494"/>
<circle cx="941.0" cy="1617.1" r="3.8" fill="#949494"/>
<circle cx="928.6" cy="1682.9" r="3.8" fill="#949494"/>
<circle cx="946.7" cy="1687.9" r="3.8" fill="#949494"/>
<circle cx="915.8" cy="1703.1" r="3.8" fill="#949494"/>
<circle cx="923.2" cy="1680.1" r="3.8" fill="#949494"/>
<circle cx="940.0" cy="1697.6" r="3.8" fill="#949494"/>
<circle cx="933.6" cy="1671.6" r="3.8" fill="#949494"/>
<circle cx="934.5" cy="1661.1" r="3.8" fill="#949494"/>
<circle cx="954.0" cy="1652.9" r="3.8" fill="#949494"/>
<circle cx="925.6" cy="1712.9" r="3.8" fill="#949494"/>
<circle cx="921.0" cy="1633.6" r="3.8" fill="#949494"/>
<circle cx="913.5" cy="1682.9" r="3.8" fill="#949494"/>
<circle cx="933.7" cy="1675.9" r="3.8" fill="#949494"/>
<circle cx="925.4" cy="1690.2" r="3.8" fill="#949494"/>
<circle cx="933.3" cy="1663.0" r="3.8" fill="#949494"/>
<circle cx="913.7" cy="1632.8" r="3.8" fill="#949494"/>
<circle cx="912.0" cy="1670.6" r="3.8" fill="#949494"/>
<circle cx="930.6" cy="1616.7" r="3.8" fill="#949494"/>
<circle cx="946.0" cy="1649.0" r="3.8" fill="#949494"/>
<circle cx="925.6" cy="1647.1" r="3.8" fill="#949494"/>
<circle cx="949.8" cy="1622.4" r="3.8" fill="#949494"/>
<circle cx="938.1" cy="1673.5" r="3.8" fill="#949494"/>
<circle cx="931.3" cy="1617.5" r="3.8" fill="#949494"/>
<circle cx="947.0" cy="1676.6" r="3.8" fill="#949494"/>
<circle cx="922.5" cy="1662.9" r="3.8" fill="#949494"/>
<circle cx="939.2" cy="1696.0" r="3.8" fill="#949494"/>
<circle cx="950.0" cy="1652.8" r="3.8" fill="#949494"/>
<circle cx="936.3" cy="1648.3" r="3.8" fill="#949494"/>
<circle cx="926.4" cy="1689.9" r="3.8" fill="#949494"/>
<circle cx="919.4" cy="1717.5" r="3.8" fill="#949494"/>
<circle cx="937.8" cy="1673.4" r="3.8" fill="#949494"/>
<circle cx="920.5" cy="1657.1" r="3.8" fill="#949494"/>
<circle cx="928.8" cy="1677.7" r="3.8" fill="#949494"/>
<circle cx="936.3" cy="1706.7" r="3.8" fill="#949494"/>
<circle cx="954.0" cy="1697.7" r="3.8" fill="#949494"/>
<circle cx="942.3" cy="1681.5" r="3.8" fill="#949494"/>
<circle cx="935.4" cy="1692.9" r="3.8" fill="#949494"/>
<circle cx="947.5" cy="1621.2" r="3.8" fill="#949494"/>
<circle cx="927.4" cy="1717.6" r="3.8" fill="#949494"/>
<circle cx="929.4" cy="1679.9" r="3.8" fill="#949494"/>
<circle cx="939.4" cy="1612.3" r="3.8" fill="#949494"/>
<circle cx="936.9" cy="1647.0" r="3.8" fill="#949494"/>
<circle cx="922.3" cy="1639.5" r="3.8" fill="#949494"/>
<circle cx="930.5" cy="1677.4" r="3.8" fill="#949494"/>
<circle cx="946.2" cy="1719.3" r="3.8" fill="#949494"/>
<circle cx="922.9" cy="1661.5" r="3.8" fill="#949494"/>
<circle cx="943.8" cy="1663.6" r="3.8" fill="#949494"/>
<circle cx="921.1" cy="1613.9" r="3.8" fill="#949494"/>
<circle cx="954.6" cy="1643.4" r="3.8" fill="#949494"/>
<circle cx="942.8" cy="1670.1" r="3.8" fill="#949494"/>
<circle cx="927.3" cy="1711.3" r="3.8" fill="#949494"/>
<circle cx="956.2" cy="1677.7" r="3.8" fill="#949494"/>
<circle cx="947.8" cy="1677.4" r="3.8" fill="#949494"/>
<circle cx="915.1" cy="1696.2" r="3.8" fill="#949494"/>
<circle cx="923.6" cy="1702.9" r="3.8" fill="#949494"/>
<circle cx="934.2" cy="1707.7" r="3.8" fill="#949494"/>
<circle cx="1016.2" cy="1572.7" r="3.8" fill="#949494"/>
<circle cx="1017.8" cy="1587.0" r="3.8" fill="#949494"/>
<circle cx="1018.8" cy="1589.4" r="3.8" fill="#949494"/>
<circle cx="1025.5" cy="1591.7" r="3.8" fill="#949494"/>
<circle cx="1021.0" cy="1598.9" r="3.8" fill="#949494"/>
<circle cx="1025.6" cy="1607.2" r="3.8" fill="#949494"/>
<circle cx="1011.2" cy="1609.6" r="3.8" fill="#949494"/>
<circle cx="1021.1" cy="1756.9" r="3.8" fill="#949494"/>
<circle cx="1024.9" cy="1743.8" r="3.8" fill="#949494"/>
<circle cx="1021.3" cy="1737.9" r="3.8" fill="#949494"/>
<circle cx="1031.1" cy="1731.9" r="3.8" fill="#949494"/>
<circle cx="1030.9" cy="1729.5" r="3.8" fill="#949494"/>
<circle cx="1015.2" cy="1653.6" r="3.8" fill="#949494"/>
<circle cx="998.5" cy="1677.6" r="3.8" fill="#949494"/>
<circle cx="1032.5" cy="1653.4" r="3.8" fill="#949494"/>
<circle cx="1004.2" cy="1665.3" r="3.8" fill="#949494"/>
<circle cx="999.0" cy="1656.0" r="3.8" fill="#949494"/>
<circle cx="1031.3" cy="1691.6" r="3.8" fill="#949494"/>
<circle cx="1036.1" cy="1699.2" r="3.8" fill="#949494"/>
<circle cx="1036.1" cy="1652.6" r="3.8" fill="#949494"/>
<circle cx="1041.3" cy="1689.1" r="3.8" fill="#949494"/>
<circle cx="1007.9" cy="1642.3" r="3.8" fill="#949494"/>
<circle cx="1002.2" cy="1680.4" r="3.8" fill="#949494"/>
<circle cx="1008.0" cy="1721.6" r="3.8" fill="#949494"/>
<circle cx="1041.5" cy="1704.5" r="3.8" fill="#949494"/>
<circle cx="1003.5" cy="1675.4" r="3.8" fill="#949494"/>
<circle cx="1005.7" cy="1683.4" r="3.8" fill="#949494"/>
<circle cx="1000.2" cy="1637.6" r="3.8" fill="#949494"/>
<circle cx="1001.7" cy="1704.8" r="3.8" fill="#949494"/>
<circle cx="1000.2" cy="1681.1" r="3.8" fill="#949494"/>
<circle cx="1014.4" cy="1651.0" r="3.8" fill="#949494"/>
<circle cx="1006.1" cy="1644.9" r="3.8" fill="#949494"/>
<circle cx="1013.2" cy="1710.7" r="3.8" fill="#949494"/>
<circle cx="1034.5" cy="1615.7" r="3.8" fill="#949494"/>
<circle cx="1006.3" cy="1695.9" r="3.8" fill="#949494"/>
<circle cx="1033.6" cy="1627.8" r="3.8" fill="#949494"/>
<circle cx="1031.7" cy="1683.6" r="3.8" fill="#949494"/>
<circle cx="1024.1" cy="1688.2" r="3.8" fill="#949494"/>
<circle cx="1023.7" cy="1719.0" r="3.8" fill="#949494"/>
<circle cx="1033.2" cy="1677.2" r="3.8" fill="#949494"/>
<circle cx="1024.9" cy="1696.3" r="3.8" fill="#949494"/>
<circle cx="1012.6" cy="1615.1" r="3.8" fill="#949494"/>
<circle cx="1014.6" cy="1622.9" r="3.8" fill="#949494"/>
<circle cx="1009.5" cy="1687.1" r="3.8" fill="#949494"/>
<circle cx="1016.9" cy="1630.8" r="3.8" fill="#949494"/>
<circle cx="1038.5" cy="1620.6" r="3.8" fill="#949494"/>
<circle cx="1017.7" cy="1683.8" r="3.8" fill="#949494"/>
<circle cx="1001.8" cy="1692.3" r="3.8" fill="#949494"/>
<circle cx="1020.0" cy="1630.7" r="3.8" fill="#949494"/>
<circle cx="1035.1" cy="1659.2" r="3.8" fill="#949494"/>
<circle cx="1018.6" cy="1656.2" r="3.8" fill="#949494"/>
<circle cx="1028.8" cy="1715.5" r="3.8" fill="#949494"/>
<circle cx="1002.6" cy="1674.2" r="3.8" fill="#949494"/>
<circle cx="1004.4" cy="1716.7" r="3.8" fill="#949494"/>
<circle cx="1028.2" cy="1644.3" r="3.8" fill="#949494"/>
<circle cx="1000.9" cy="1646.1" r="3.8" fill="#949494"/>
<circle cx="1012.1" cy="1687.8" r="3.8" fill="#949494"/>
<circle cx="1016.1" cy="1705.6" r="3.8" fill="#949494"/>
<circle cx="1007.7" cy="1639.0" r="3.8" fill="#949494"/>
<circle cx="1000.2" cy="1686.6" r="3.8" fill="#949494"/>
<circle cx="1001.5" cy="1626.7" r="3.8" fill="#949494"/>
<circle cx="1039.7" cy="1709.1" r="3.8" fill="#949494"/>
<circle cx="1029.5" cy="1682.7" r="3.8" fill="#949494"/>
<circle cx="1041.1" cy="1692.8" r="3.8" fill="#949494"/>
<circle cx="1020.7" cy="1711.2" r="3.8" fill="#949494"/>
<circle cx="1032.1" cy="1609.5" r="3.8" fill="#949494"/>
<circle cx="1037.1" cy="1695.9" r="3.8" fill="#949494"/>
<circle cx="1026.2" cy="1642.7" r="3.8" fill="#949494"/>
<circle cx="1022.0" cy="1625.4" r="3.8" fill="#949494"/>
<circle cx="1021.4" cy="1631.7" r="3.8" fill="#949494"/>
<circle cx="1008.7" cy="1685.2" r="3.8" fill="#949494"/>
<circle cx="1015.4" cy="1685.6" r="3.8" fill="#949494"/>
<circle cx="1031.0" cy="1663.1" r="3.8" fill="#949494"/>
<circle cx="1007.3" cy="1655.2" r="3.8" fill="#949494"/>
<circle cx="1036.7" cy="1685.9" r="3.8" fill="#949494"/>
<circle cx="1021.4" cy="1704.1" r="3.8" fill="#949494"/>
<circle cx="1025.7" cy="1682.1" r="3.8" fill="#949494"/>
<circle cx="1035.4" cy="1688.3" r="3.8" fill="#949494"/>
<circle cx="1027.5" cy="1643.0" r="3.8" fill="#949494"/>
<circle cx="1004.7" cy="1669.0" r="3.8" fill="#949494"/>
<circle cx="1009.6" cy="1663.4" r="3.8" fill="#949494"/>
<circle cx="998.6" cy="1686.6" r="3.8" fill="#949494"/>
<circle cx="999.8" cy="1686.9" r="3.8" fill="#949494"/>
<circle cx="1041.2" cy="1691.6" r="3.8" fill="#949494"/>
<circle cx="1025.2" cy="1676.6" r="3.8" fill="#949494"/>
<circle cx="1042.1" cy="1683.5" r="3.8" fill="#949494"/>
<circle cx="1028.4" cy="1729.2" r="3.8" fill="#949494"/>
<circle cx="1013.1" cy="1636.9" r="3.8" fill="#949494"/>
<circle cx="1041.2" cy="1637.7" r="3.8" fill="#949494"/>
<circle cx="1039.9" cy="1691.4" r="3.8" fill="#949494"/>
<circle cx="1019.0" cy="1648.7" r="3.8" fill="#949494"/>
<circle cx="1003.4" cy="1706.9" r="3.8" fill="#949494"/>
<circle cx="1014.4" cy="1719.2" r="3.8" fill="#949494"/>
<circle cx="1006.0" cy="1679.6" r="3.8" fill="#949494"/>
<circle cx="1017.0" cy="1613.8" r="3.8" fill="#949494"/>
<circle cx="1002.2" cy="1675.7" r="3.8" fill="#949494"/>
<circle cx="1026.6" cy="1729.1" r="3.8" fill="#949494"/>
<circle cx="1042.6" cy="1662.8" r="3.8" fill="#949494"/>
<circle cx="1008.1" cy="1693.2" r="3.8" fill="#949494"/>
<circle cx="1033.3" cy="1698.6" r="3.8" fill="#949494"/>
<circle cx="1024.8" cy="1658.5" r="3.8" fill="#949494"/>
<circle cx="1020.5" cy="1726.2" r="3.8" fill="#949494"/>
<circle cx="1037.8" cy="1630.8" r="3.8" fill="#949494"/>
<circle cx="1015.5" cy="1667.7" r="3.8" fill="#949494"/>
<circle cx="1035.3" cy="1694.1" r="3.8" fill="#949494"/>
<circle cx="1000.4" cy="1696.9" r="3.8" fill="#949494"/>
<circle cx="1041.7" cy="1646.6" r="3.8" fill="#949494"/>
<circle cx="1008.8" cy="1624.4" r="3.8" fill="#949494"/>
<circle cx="999.1" cy="1698.4" r="3.8" fill="#949494"/>
<circle cx="1038.2" cy="1661.2" r="3.8" fill="#949494"/>
<circle cx="1030.9" cy="1648.3" r="3.8" fill="#949494"/>
<circle cx="1028.9" cy="1683.2" r="3.8" fill="#949494"/>
<circle cx="1033.0" cy="1658.2" r="3.8" fill="#949494"/>
<circle cx="1015.5" cy="1666.8" r="3.8" fill="#949494"/>
<circle cx="1003.9" cy="1645.8" r="3.8" fill="#949494"/>
<circle cx="1012.8" cy="1657.5" r="3.8" fill="#949494"/>
<circle cx="1041.3" cy="1689.3" r="3.8" fill="#949494"/>
<circle cx="1042.7" cy="1675.2" r="3.8" fill="#949494"/>
<circle cx="1008.9" cy="1656.6" r="3.8" fill="#949494"/>
<circle cx="1018.4" cy="1696.4" r="3.8" fill="#949494"/>
<circle cx="1018.8" cy="1668.0" r="3.8" fill="#949494"/>
<circle cx="1038.3" cy="1704.9" r="3.8" fill="#949494"/>
<circle cx="1002.1" cy="1624.3" r="3.8" fill="#949494"/>
<circle cx="1030.2" cy="1612.3" r="3.8" fill="#949494"/>
<circle cx="1010.4" cy="1703.2" r="3.8" fill="#949494"/>
<circle cx="1023.1" cy="1638.8" r="3.8" fill="#949494"/>
<circle cx="1004.3" cy="1664.2" r="3.8" fill="#949494"/>
<circle cx="1002.3" cy="1667.1" r="3.8" fill="#949494"/>
<circle cx="1038.2" cy="1680.0" r="3.8" fill="#949494"/>
<circle cx="1021.1" cy="1660.5" r="3.8" fill="#949494"/>
<circle cx="1040.8" cy="1632.9" r="3.8" fill="#949494"/>
<circle cx="1034.9" cy="1716.4" r="3.8" fill="#949494"/>
<circle cx="1031.6" cy="1632.5" r="3.8" fill="#949494"/>
<circle cx="1001.9" cy="1680.4" r="3.8" fill="#949494"/>
<circle cx="1024.6" cy="1711.6" r="3.8" fill="#949494"/>
<circle cx="1043.2" cy="1672.4" r="3.8" fill="#949494"/>
<circle cx="1021.1" cy="1646.7" r="3.8" fill="#949494"/>
<circle cx="1001.5" cy="1673.9" r="3.8" fill="#949494"/>
<circle cx="1006.8" cy="1659.5" r="3.8" fill="#949494"/>
<circle cx="1042.9" cy="1683.1" r="3.8" fill="#949494"/>
<circle cx="1042.3" cy="1690.5" r="3.8" fill="#949494"/>
<circle cx="1010.3" cy="1633.1" r="3.8" fill="#949494"/>
<circle cx="1013.3" cy="1705.4" r="3.8" fill="#949494"/>
<circle cx="1030.1" cy="1633.3" r="3.8" fill="#949494"/>
<circle cx="1021.3" cy="1657.9" r="3.8" fill="#949494"/>
<circle cx="1006.9" cy="1680.8" r="3.8" fill="#949494"/>
<circle cx="1042.8" cy="1678.9" r="3.8" fill="#949494"/>
<circle cx="1026.4" cy="1681.3" r="3.8" fill="#949494"/>
<circle cx="1014.9" cy="1671.8" r="3.8" fill="#949494"/>
<circle cx="999.5" cy="1672.2" r="3.8" fill="#949494"/>
<circle cx="1021.5" cy="1675.7" r="3.8" fill="#949494"/>
<circle cx="1032.3" cy="1657.7" r="3.8" fill="#949494"/>
<circle cx="1006.7" cy="1693.9" r="3.8" fill="#949494"/>
<circle cx="1002.6" cy="1691.6" r="3.8" fill="#949494"/>
<circle cx="1031.1" cy="1676.7" r="3.8" fill="#949494"/>
<circle cx="1038.0" cy="1711.5" r="3.8" fill="#949494"/>
<circle cx="1017.5" cy="1613.0" r="3.8" fill="#949494"/>
<circle cx="1019.8" cy="1670.5" r="3.8" fill="#949494"/>
<circle cx="1027.1" cy="1676.9" r="3.8" fill="#949494"/>
<circle cx="1021.8" cy="1709.6" r="3.8" fill="#949494"/>
<circle cx="1004.9" cy="1637.6" r="3.8" fill="#949494"/>
<circle cx="1011.0" cy="1643.5" r="3.8" fill="#949494"/>
<circle cx="1011.9" cy="1615.2" r="3.8" fill="#949494"/>
<circle cx="1007.9" cy="1637.2" r="3.8" fill="#949494"/>
<circle cx="1003.0" cy="1700.6" r="3.8" fill="#949494"/>
<circle cx="1016.9" cy="1717.3" r="3.8" fill="#949494"/>
<circle cx="1011.1" cy="1619.7" r="3.8" fill="#949494"/>
<circle cx="1036.4" cy="1695.5" r="3.8" fill="#949494"/>
<circle cx="1013.0" cy="1674.4" r="3.8" fill="#949494"/>
<circle cx="1041.8" cy="1676.2" r="3.8" fill="#949494"/>
<circle cx="1034.9" cy="1651.9" r="3.8" fill="#949494"/>
<circle cx="1010.7" cy="1650.0" r="3.8" fill="#949494"/>
<circle cx="1006.6" cy="1708.6" r="3.8" fill="#949494"/>
<circle cx="1024.2" cy="1694.1" r="3.8" fill="#949494"/>
<circle cx="1019.8" cy="1649.7" r="3.8" fill="#949494"/>
<circle cx="1022.6" cy="1676.3" r="3.8" fill="#949494"/>
<circle cx="1012.9" cy="1732.7" r="3.8" fill="#949494"/>
<circle cx="1022.3" cy="1632.0" r="3.8" fill="#949494"/>
<circle cx="1032.7" cy="1669.9" r="3.8" fill="#949494"/>
<circle cx="1018.7" cy="1707.7" r="3.8" fill="#949494"/>
<circle cx="1010.0" cy="1685.6" r="3.8" fill="#949494"/>
<circle cx="1039.9" cy="1692.0" r="3.8" fill="#949494"/>
<circle cx="1011.8" cy="1666.5" r="3.8" fill="#949494"/>
<circle cx="1043.3" cy="1662.8" r="3.8" fill="#949494"/>
<circle cx="1029.4" cy="1691.5" r="3.8" fill="#949494"/>
<circle cx="998.6" cy="1654.6" r="3.8" fill="#949494"/>
<circle cx="1018.6" cy="1683.0" r="3.8" fill="#949494"/>
<circle cx="1005.4" cy="1646.4" r="3.8" fill="#949494"/>
<circle cx="1033.2" cy="1635.2" r="3.8" fill="#949494"/>
<circle cx="1017.5" cy="1640.8" r="3.8" fill="#949494"/>
<circle cx="1003.7" cy="1708.7" r="3.8" fill="#949494"/>
<circle cx="1030.9" cy="1732.5" r="3.8" fill="#949494"/>
<circle cx="1034.5" cy="1682.9" r="3.8" fill="#949494"/>
<circle cx="1025.8" cy="1660.7" r="3.8" fill="#949494"/>
<circle cx="1024.0" cy="1697.6" r="3.8" fill="#949494"/>
<circle cx="1011.4" cy="1732.1" r="3.8" fill="#949494"/>
<circle cx="1042.7" cy="1665.1" r="3.8" fill="#949494"/>
<circle cx="1012.1" cy="1687.0" r="3.8" fill="#949494"/>
<circle cx="1022.1" cy="1652.1" r="3.8" fill="#949494"/>
<circle cx="1020.6" cy="1663.4" r="3.8" fill="#949494"/>
<line x1="893" y1="1684.4" x2="1064" y2="1684.4" stroke="#b4b4e4" stroke-width="1"/>
<line x1="893.5" y1="1684.4" x2="1064" y2="1684.4" stroke="#3a4fae" stroke-width="2.6" stroke-dasharray="6 6.2"/>
<line x1="911.3" y1="1669.2" x2="954.7" y2="1669.2" stroke="#e0282a" stroke-width="2.6" stroke-linecap="round"/>
<line x1="921.7" y1="1665.0" x2="944.8" y2="1665.0" stroke="#e0282a" stroke-width="4.2" stroke-linecap="round"/>
<line x1="921.7" y1="1673.2" x2="944.8" y2="1673.2" stroke="#e0282a" stroke-width="4.2" stroke-linecap="round"/>
<line x1="933.2" y1="1665.0" x2="933.2" y2="1673.2" stroke="#e0282a" stroke-width="3" />
<line x1="998.9" y1="1667.3" x2="1041.7" y2="1667.3" stroke="#e0282a" stroke-width="2.6" stroke-linecap="round"/>
<line x1="1008.9" y1="1663.8" x2="1031.8" y2="1663.8" stroke="#e0282a" stroke-width="4.2" stroke-linecap="round"/>
<line x1="1008.9" y1="1671.5" x2="1031.8" y2="1671.5" stroke="#e0282a" stroke-width="4.2" stroke-linecap="round"/>
<line x1="1020.4" y1="1663.8" x2="1020.4" y2="1671.5" stroke="#e0282a" stroke-width="3" />
<path d="M890.7 1445.5 V1803.2 H1063.5" fill="none" stroke="#000" stroke-width="2.6" stroke-linecap="square"/>
<line x1="890.7" y1="1803.2" x2="896" y2="1803.2" stroke="#000" stroke-width="2.6"/>
<text x="878.0" y="1812.2" font-size="25" text-anchor="end" fill="#000" font-weight="normal" >0</text>
<line x1="890.7" y1="1684.4" x2="896" y2="1684.4" stroke="#000" stroke-width="2.6"/>
<text x="878.0" y="1693.4" font-size="25" text-anchor="end" fill="#000" font-weight="normal" >1</text>
<line x1="890.7" y1="1565.6" x2="896" y2="1565.6" stroke="#000" stroke-width="2.6"/>
<text x="878.0" y="1574.6" font-size="25" text-anchor="end" fill="#000" font-weight="normal" >2</text>
<line x1="890.7" y1="1446.8" x2="896" y2="1446.8" stroke="#000" stroke-width="2.6"/>
<text x="878.0" y="1455.8" font-size="25" text-anchor="end" fill="#000" font-weight="normal" >3</text>
<line x1="936.1" y1="1455" x2="1019.9" y2="1455" stroke="#000" stroke-width="3.6"/>
<text x="977.6" y="1448.0" font-size="21" text-anchor="middle" fill="#000" font-weight="normal" >n.s.</text>
<text x="934.5" y="1833.0" font-size="21" text-anchor="middle" fill="#000" font-weight="normal" >Control</text>
<text x="1020.2" y="1833.0" font-size="21" text-anchor="middle" fill="#000" font-weight="normal" >EtOH</text>
<text transform="translate(836,1625) rotate(-90)" font-size="25" text-anchor="middle">Ratio of NE / ATP peak Ca<tspan font-size="17" dy="-10">2+</tspan><tspan dy="10"> change</tspan></text>
</svg></body></html>
